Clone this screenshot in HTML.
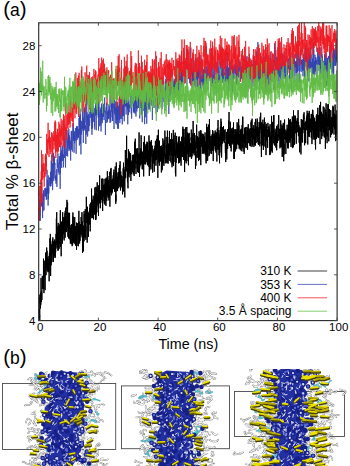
<!DOCTYPE html>
<html><head><meta charset="utf-8"><style>
html,body{margin:0;padding:0;background:#fff;}
body{width:350px;height:466px;overflow:hidden;}
svg{display:block;}
text{font-family:"Liberation Sans",sans-serif;fill:#000;}
.tk{font-size:11.5px;}
.lg{font-size:12px;}
.al{font-size:14.3px;}
.yl{font-size:17px;}
.pl{font-size:17.5px;}
.pp{font-size:20.5px;}
</style></head><body>
<svg width="350" height="466" viewBox="0 0 350 466">
<defs><clipPath id="pc"><rect x="38.7" y="22.8" width="298.4" height="297.8"/></clipPath>
<clipPath id="bc"><rect x="0" y="369" width="350" height="97"/></clipPath></defs>
<g clip-path="url(#pc)">
<path transform="matrix(0.10657 0 0 0.114538 38.70 22.80)" fill="none" stroke="#000" stroke-width="1.0" stroke-linejoin="round" vector-effect="non-scaling-stroke" d="M0 2643l1-166 1-80 1 125 1 128 1-65 1-87 1 58 1 14 1-18 1 87 1-60 1-207 1 78 1-55 1-19 1 91 1 27 1-107 1-33 1 108 1-106 1-129 1 100 1 24 1-8 1 94 1-90 1 4 1 15 1 54 1-63 1-43 1-19 1-83 1 87 1 18 1-7 1-49 1 62 1-114 1 35 1 80 1-82 1 56 1-239 1 258 1-38 1-116 1 197 1-28 1-128 1-8 1-12 1-4 1 3 1 30 1-136 1 127 1-12 1 142 1-167 1-7 1-77 1 30 1-107 1 99 1 50 1-33 1 81 1-63 1-122 1 114 1-47 1-23 1-100 1 179 1-44 1-106 1 56 1 103 1 20 1-123 1 84 1-77 1 5 1 45 1 31 1-35 1 78 1-99 1 83 1-95 1 36 1 71 1-42 1-96 1 78 1 143 1-239 1-8 1-4 1-1 1 42 1 62 1-227 1 195 1 87 1-183 1-138 1 84 1-13 1 296 1-152 1 43 1-76 1 92 1-177 1 74 1-46 1-32 1 156 1-138 1 116 1-134 1 44 1 7 1-80 1 86 1-101 1 127 1-9 1-76 1-61 1 96 1 119 1-182 1 97 1-26 1 109 1-142 1 75 1 33 1-137 1 81 1-16 1-18 1 30 1-92 1 105 1-113 1 148 1-85 1-41 1-7 1 145 1-54 1-74 1-8 1 87 1-53 1 23 1-50 1-80 1 101 1-126 1-110 1 172 1-28 1-199 1 233 1 39 1-147 1 185 1-37 1-42 1-61 1 84 1-2 1-68 1 153 1-133 1 54 1-164 1 129 1-97 1 207 1-88 1 0 1-117 1 58 1 96 1 38 1-60 1 20 1-14 1-66 1-90 1-3 1 58 1 32 1-29 1-131 1-54 1 203 1-65 1 181 1-90 1-56 1-7 1 135 1 101 1-249 1 78 1-131 1 112 1-9 1 28 1-3 1-115 1 83 1-79 1 175 1-71 1 25 1-228 1 235 1-62 1-132 1 71 1-20 1 79 1 21 1-51 1-58 1 74 1-51 1-42 1-18 1 200 1-205 1 27 1 63 1-54 1-6 1 3 1 77 1-144 1 215 1-234 1 182 1-183 1 78 1-41 1-60 1-5 1 141 1-19 1-13 1 28 1-18 1 95 1-146 1-23 1 6 1-118 1 84 1-28 1 189 1-67 1-47 1-109 1 162 1 39 1 99 1-173 1 69 1-69 1 120 1-94 1 162 1-225 1 169 1-71 1-42 1 62 1-11 1-64 1 91 1-133 1 5 1 137 1 90 1-103 1-3 1 13 1 55 1 76 1-137 1 3 1 18 1-22 1 64 1-90 1 23 1 70 1 1 1-29 1 3 1-66 1 166 1-176 1 51 1 27 1 115 1-19 1-112 1 108 1-106 1 115 1-194 1-86 1 139 1-102 1 71 1 158 1-182 1 32 1 56 1-60 1 4 1 141 1-63 1-38 1 54 1 9 1-19 1-31 1-129 1 232 1-141 1 60 1-69 1 156 1-94 1-42 1 48 1 101 1-172 1 137 1-118 1 106 1-78 1 48 1-126 1 237 1-211 1 60 1 104 1-109 1 23 1-59 1-41 1 59 1-33 1-14 1 65 1 61 1 63 1-21 1-134 1 81 1-49 1 125 1-23 1-106 1 21 1-201 1 192 1-98 1 70 1-32 1 66 1-25 1 112 1-66 1 5 1-30 1 67 1-75 1-70 1 26 1 60 1-16 1-70 1 70 1-15 1 41 1-158 1 86 1 45 1-9 1-47 1-26 1 16 1 55 1-163 1 220 1-106 1-34 1 77 1 200 1-102 1-131 1 1 1 220 1-131 1-90 1 163 1-69 1 123 1-224 1 134 1-11 1-37 1 52 1-264 1 99 1-73 1 200 1-44 1-43 1 68 1 26 1-45 1 34 1 4 1-243 1 199 1-82 1 45 1 31 1-46 1 121 1-124 1-66 1-54 1-132 1 116 1-25 1 61 1 74 1-66 1-22 1-19 1 281 1-169 1-89 1-55 1 148 1-90 1 71 1-7 1-61 1 7 1-18 1 213 1-115 1-26 1-13 1-22 1 54 1 14 1-20 1-30 1-67 1 114 1-141 1 137 1-25 1 29 1-174 1 88 1 149 1-157 1-37 1 66 1-50 1-73 1 41 1 30 1-45 1 11 1 39 1-46 1 54 1-206 1 243 1 15 1-49 1-8 1-106 1 61 1-53 1 138 1 14 1-141 1 9 1-12 1 127 1-91 1-86 1 190 1-38 1-41 1 96 1-123 1-26 1-1 1 55 1-7 1 40 1-130 1 151 1-50 1-66 1 65 1-186 1 169 1 31 1-149 1 25 1 51 1 157 1-113 1-31 1 61 1-207 1 287 1-116 1 64 1-180 1 55 1-13 1 82 1-85 1 128 1-217 1 44 1-88 1 152 1 23 1-31 1 8 1-6 1 17 1 37 1-85 1 33 1-50 1 36 1 160 1-111 1-52 1-102 1 154 1-141 1-18 1 152 1-94 1 12 1 15 1-170 1 212 1-7 1 42 1-109 1 129 1 20 1-29 1-100 1 60 1-87 1 109 1-82 1-8 1-22 1 54 1-48 1 28 1 50 1-34 1-147 1 131 1 9 1 25 1-170 1 55 1 24 1 76 1 130 1-171 1-15 1 100 1-97 1 56 1-21 1-69 1 27 1 63 1-102 1 50 1 57 1-159 1 128 1 87 1-44 1-59 1-20 1 91 1-122 1 164 1-181 1 134 1-83 1 7 1 32 1-70 1-62 1-1 1-4 1 239 1-197 1 67 1-28 1-88 1 148 1-11 1 55 1 10 1-85 1-12 1 33 1 19 1-213 1 194 1-64 1-69 1 85 1-105 1 40 1 150 1-56 1-36 1 47 1 32 1-141 1 142 1-9 1 45 1-23 1-86 1 82 1-26 1-77 1 39 1-41 1-118 1 304 1-132 1-41 1-4 1 54 1-21 1-185 1 51 1 81 1-29 1 9 1-121 1 129 1 110 1-133 1 1 1 11 1 49 1-7 1 6 1 56 1-9 1-22 1 18 1-30 1-19 1-52 1-14 1 91 1-49 1-18 1-53 1 28 1 92 1-66 1 62 1-141 1 85 1-110 1 44 1 8 1 88 1 20 1-6 1 39 1-6 1-74 1 61 1-86 1 12 1-128 1 180 1 22 1-132 1 32 1 225 1-80 1 58 1-136 1 51 1-255 1 177 1 67 1-20 1-16 1-77 1 37 1-81 1 13 1 51 1 26 1-50 1 123 1-64 1 6 1-68 1 50 1 7 1-42 1 87 1-64 1-79 1 53 1 22 1-28 1 5 1-86 1 19 1 76 1-22 1-99 1 42 1-39 1 186 1-106 1-57 1-59 1 209 1 28 1-33 1 51 1 0 1-167 1 108 1-39 1 72 1-88 1 36 1-19 1-3 1-32 1 54 1-18 1 59 1-39 1-48 1 66 1-23 1 22 1 93 1-43 1-58 1-24 1 50 1-109 1-44 1 60 1-70 1-39 1 252 1-151 1 52 1-10 1-76 1 143 1 2 1-29 1-96 1 61 1-6 1 162 1-245 1 79 1-101 1 24 1-171 1 138 1 12 1 94 1-32 1-105 1 22 1 48 1-31 1-70 1 24 1-82 1-143 1 121 1 191 1-98 1 64 1-81 1 78 1 22 1 108 1-137 1 11 1-14 1 163 1 31 1-244 1 24 1 111 1-232 1 27 1-12 1 42 1 61 1 50 1 77 1-225 1 148 1 9 1 33 1-4 1-159 1 38 1-49 1 100 1-19 1-66 1-16 1 91 1 99 1-79 1-3 1 134 1-170 1-8 1 118 1-88 1 33 1 16 1-25 1-43 1 2 1 65 1-22 1-38 1-68 1 2 1 150 1-132 1 93 1-11 1 15 1-64 1 27 1 90 1-39 1-133 1 25 1 29 1 41 1 0 1 33 1-113 1 172 1-24 1-55 1-23 1-198 1 18 1 190 1 27 1-33 1-6 1-222 1 42 1 170 1-43 1-10 1 47 1-2 1 104 1-114 1 24 1-132 1 74 1-7 1 6 1-41 1 19 1 33 1 89 1-1 1-12 1-138 1 183 1-169 1-41 1 68 1 40 1-44 1 25 1 50 1 78 1-151 1-16 1 66 1 11 1 13 1-181 1-95 1 236 1-47 1 36 1 163 1-109 1 28 1-93 1 56 1-96 1 34 1 1 1-11 1-59 1 149 1-19 1-95 1 1 1-56 1-94 1 53 1 155 1-83 1 127 1 2 1-56 1-2 1 23 1-12 1 88 1-147 1-5 1 27 1-24 1 49 1 103 1-67 1-44 1 60 1-37 1 2 1-30 1-123 1 300 1-150 1 1 1 45 1-75 1 56 1-115 1-112 1 165 1 23 1-6 1 60 1-37 1-16 1-94 1 58 1-25 1 4 1 34 1 80 1-117 1-49 1 32 1-46 1 135 1-121 1-11 1 76 1 35 1-46 1 90 1-177 1 116 1 9 1 59 1-178 1 104 1 96 1-194 1 104 1 61 1-105 1 79 1 37 1-98 1 78 1-83 1 119 1-92 1 108 1-275 1 189 1 23 1 142 1-264 1 112 1-150 1 254 1-222 1 95 1 28 1 30 1 41 1-127 1-95 1 143 1 27 1-47 1 6 1 111 1-135 1-15 1-105 1 81 1 16 1 48 1-1 1-34 1-22 1 9 1-49 1 14 1 109 1-3 1 116 1-102 1-3 1-67 1 1 1 29 1-8 1 50 1-49 1-41 1 23 1 88 1-47 1-81 1 176 1 24 1-16 1-102 1-91 1 48 1-33 1 35 1-69 1 17 1 112 1-28 1-144 1 99 1 8 1 0 1-2 1 113 1-171 1 36 1 28 1 57 1-18 1-111 1-56 1 63 1 40 1-23 1 41 1 2 1-154 1 120 1 44 1-133 1 222 1 118 1-238 1 58 1 17 1-150 1-107 1 151 1 79 1-56 1 60 1 55 1-91 1 43 1-23 1 96 1-218 1 115 1 23 1-62 1 16 1-11 1-34 1 80 1-15 1-19 1 4 1 85 1-63 1-57 1-16 1 79 1 39 1-65 1 179 1-96 1-139 1 224 1-52 1-8 1-58 1 29 1 77 1-119 1 56 1 14 1-148 1 117 1-195 1 35 1 110 1-37 1 15 1-73 1 166 1-39 1-64 1-67 1 194 1-223 1 51 1 25 1 3 1 35 1-79 1 103 1-20 1-203 1 69 1 177 1-27 1 67 1-33 1-44 1 38 1-34 1 31 1 31 1-149 1-71 1 191 1-4 1-49 1-68 1 146 1 14 1-24 1-3 1-104 1 54 1 42 1-250 1 132 1 135 1 12 1-86 1-17 1 113 1-134 1 84 1 14 1-40 1-99 1 102 1-100 1 83 1 8 1-54 1-96 1 157 1-211 1 158 1 20 1-38 1 123 1-77 1-9 1-43 1 37 1-61 1 25 1-63 1 86 1 63 1 55 1-73 1-31 1-4 1-34 1 48 1-162 1 196 1-25 1 30 1 96 1-41 1 11 1-41 1 41 1-61 1-23 1-131 1 220 1-79 1-97 1 34 1-159 1 161 1 153 1-100 1-108 1 118 1-145 1-32 1 42 1 47 1-18 1 14 1 97 1-20 1-40 1 0 1 112 1-145 1-112 1 230 1 125 1-211 1 52 1 186 1-185 1-26 1 93 1-49 1-43 1-124 1 143 1-162 1 43 1 41 1 69 1-45 1 31 1-25 1-45 1 76 1 48 1-74 1 27 1-80 1 80 1-96 1 29 1 87 1-8 1 81 1-148 1-82 1 127 1-50 1 14 1-97 1 75 1 145 1-148 1 5 1 156 1-91 1 56 1-85 1 27 1-80 1 112 1 42 1-152 1-18 1 54 1 48 1-70 1 180 1-89 1-72 1 83 1-126 1 33 1-12 1-66 1 106 1-25 1-3 1-85 1 181 1-167 1 18 1 38 1 49 1-203 1 110 1 30 1-121 1 150 1-41 1 60 1 102 1-82 1-70 1 11 1-129 1 125 1 20 1 46 1-40 1 225 1-169 1 47 1-38 1-145 1 131 1-26 1 34 1-83 1 154 1-295 1 169 1 18 1 52 1-148 1 223 1-176 1-1 1-29 1 119 1-178 1-52 1 298 1-120 1-4 1-19 1 47 1 23 1-177 1 157 1-62 1 92 1-115 1 15 1 9 1 119 1 71 1-222 1-55 1 131 1-51 1 82 1-82 1-86 1 163 1-85 1-26 1 41 1 26 1 93 1-40 1 6 1 6 1-5 1 2 1-91 1 37 1 79 1-115 1 61 1 7 1-119 1 25 1-94 1 255 1-167 1 163 1-88 1-42 1 66 1 47 1-22 1-59 1-46 1 87 1-24 1 35 1-171 1 74 1 27 1-210 1 133 1 94 1-77 1 133 1-9 1-48 1 41 1-47 1-39 1 119 1-195 1 118 1 17 1-8 1-24 1 3 1 2 1-88 1 138 1-82 1 14 1 224 1-45 1-64 1-21 1 102 1-127 1 54 1-128 1-32 1 28 1 51 1-205 1 91 1 56 1-26 1 2 1-14 1 180 1-20 1-167 1 52 1-45 1 127 1-13 1-45 1 98 1-162 1 82 1-29 1 151 1-186 1 23 1 147 1-154 1-89 1 22 1 49 1 33 1-16 1 31 1 129 1-145 1 108 1-159 1 20 1-27 1-54 1 91 1-48 1 132 1 129 1-297 1-6 1 41 1 14 1 31 1-5 1 58 1-51 1 53 1-17 1-97 1 118 1-67 1 125 1-39 1-103 1 45 1-17 1-54 1 71 1 62 1-138 1 117 1-84 1-22 1 157 1-79 1-28 1 112 1-107 1-4 1 93 1-119 1-13 1 92 1-61 1 32 1 77 1-80 1-96 1 111 1 83 1-113 1-1 1 45 1 24 1 19 1-28 1-39 1 169 1-152 1 132 1-210 1-40 1-75 1 141 1 53 1-34 1-1 1 0 1-131 1 212 1-186 1 269 1-29 1-100 1 92 1-216 1 152 1-63 1-2 1-150 1 149 1-31 1-38 1 25 1 99 1-7 1 75 1-43 1-277 1 150 1 102 1-159 1 97 1 18 1-60 1 112 1 18 1-51 1-26 1 65 1-79 1 58 1 56 1-96 1 47 1-108 1 100 1 61 1-11 1-107 1 7 1 51 1-15 1-34 1-65 1 145 1-91 1 36 1-126 1 165 1 5 1-159 1 62 1 163 1 35 1-128 1-4 1-53 1-33 1 114 1-134 1 48 1-23 1 68 1 15 1-62 1-46 1 94 1-4 1 8 1-41 1-62 1-24 1 177 1-162 1 36 1 92 1-69 1 47 1 72 1-1 1-133 1 15 1-43 1 114 1-128 1 84 1-18 1 188 1-173 1 71 1-128 1-56 1 45 1-45 1 143 1 12 1 4 1-180 1-55 1 176 1 82 1-103 1 88 1-78 1 15 1-40 1-52 1 219 1-163 1 85 1 34 1 61 1 54 1-224 1 34 1 97 1-52 1-115 1 34 1-55 1-40 1 159 1-58 1 30 1-7 1-193 1 242 1-81 1 88 1 76 1-298 1 312 1-39 1-52 1-21 1-21 1-83 1 96 1-82 1 31 1-1 1-92 1 32 1 93 1-9 1-82 1-34 1 20 1 100 1-131 1 79 1-9 1-33 1 36 1-11 1-24 1 111 1-52 1-26 1-30 1 27 1 40 1 8 1-54 1-34 1 125 1 73 1 10 1-12 1-57 1 148 1-172 1 95 1-38 1-36 1 77 1-189 1 118 1-53 1-26 1 201 1-162 1 23 1-66 1-17 1 35 1-65 1-12 1 171 1-153 1 86 1 25 1-114 1 109 1-58 1 57 1-35 1-163 1 134 1-72 1 46 1-183 1 171 1 50 1-12 1 87 1-93 1 54 1-41 1-45 1 104 1-26 1-10 1-154 1 229 1-10 1-32 1-74 1 79 1-44 1-17 1 128 1-52 1-6 1-142 1 81 1-18 1-47 1 61 1-30 1 17 1 34 1-14 1 33 1 12 1-112 1-24 1 80 1 67 1-115 1 4 1 5 1-8 1-79 1 184 1-57 1 190 1-113 1-63 1-82 1 116 1 144 1-40 1-169 1 122 1-93 1 5 1 88 1-126 1 69 1-114 1 161 1 31 1-123 1 108 1-90 1-72 1-15 1 100 1-77 1 88 1-6 1 55 1 10 1-108 1-58 1 2 1-68 1 135 1 28 1-28 1-25 1 82 1-26 1 1 1-111 1 118 1-160 1 103 1 82 1-84 1-145 1 41 1 74 1-58 1 65 1 138 1-129 1 104 1-49 1 36 1-70 1 16 1-7 1 94 1-152 1 166 1-53 1-120 1 54 1-22 1 1 1-35 1 99 1-39 1-68 1 196 1-166 1 74 1-53 1 12 1 40 1-50 1-18 1-66 1 47 1-49 1-34 1-37 1 274 1-275 1 150 1 18 1 136 1-68 1-16 1-14 1-52 1 39 1 0 1 31 1-25 1 41 1 85 1-4 1-113 1 16 1-128 1 29 1 55 1-28 1 28 1 21 1-17 1-18 1 101 1-175 1 25 1 70 1-56 1 20 1 100 1 23 1-1 1-74 1-20 1-6 1-12 1-72 1 21 1 48 1-30 1 23 1 78 1 6 1 53 1-193 1 52 1 14 1 5 1-75 1-26 1 6 1 27 1 101 1-68 1 97 1-27 1-97 1 57 1 69 1-71 1 78 1-7 1-123 1 23 1 16 1 109 1-42 1-88 1 33 1-61 1 12 1 149 1-70 1-58 1 105 1-137 1-51 1 41 1-56 1 54 1-18 1 85 1 6 1 20 1 85 1-247 1 162 1-82 1 73 1-15 1 95 1-96 1 6 1-2 1-6 1-52 1 64 1 18 1 9 1-5 1-23 1-89 1 188 1 2 1-162 1 95 1-70 1-18 1 131 1-91 1 99 1-38 1 16 1-179 1 78 1 29 1 99 1-36 1-198 1 107 1 38 1-69 1 53 1-31 1 112 1-114 1-6 1 62 1-72 1-12 1 24 1 47 1-11 1-131 1 96 1-81 1 138 1 49 1-39 1-20 1-38 1-9 1 121 1 7 1-95 1 30 1 49 1-118 1 141 1-155 1 120 1-131 1-35 1 174 1-174 1 146 1-83 1 132 1 17 1-127 1 10 1-141 1 110 1-50 1-49 1 70 1-116 1 149 1-61 1 38 1 146 1-20 1 103 1 32 1-127 1-176 1 156 1 30 1-36 1-137 1 52 1 25 1-26 1 69 1 68 1-58 1-147 1-19 1 167 1-33 1-20 1 150 1-121 1-102 1 186 1-96 1-19 1-2 1-76 1 97 1-31 1-118 1 157 1-44 1 51 1-35 1 123 1-213 1 102 1 8 1-41 1 155 1-71 1-44 1-37 1-36 1 252 1-99 1-88 1-86 1 106 1-24 1 68 1-34 1-30 1 45 1-37 1 42 1 11 1-39 1 13 1 89 1-165 1 38 1-91 1 44 1-4 1-4 1 84 1-46 1 20 1-41 1 9 1 38 1-71 1 56 1 39 1-75 1 100 1 132 1-175 1-40 1 146 1-147 1-55 1 165 1 12 1 90 1-109 1 31 1-89 1 30 1 93 1-110 1-15 1 64 1-90 1 105 1-248 1 308 1-48 1-76 1-114 1 152 1 99 1-145 1-124 1 28 1 101 1-16 1 16 1-33 1-73 1-16 1 72 1 32 1 71 1-239 1 225 1-35 1-192 1 155 1 101 1-21 1-13 1 23 1-63 1 84 1-39 1-90 1-19 1 11 1 13 1 44 1-4 1-23 1 70 1-57 1 111 1-135 1 14 1-35 1 117 1-95 1-7 1-48 1 213 1-63 1-62 1 54 1-2 1-63 1 72 1-46 1 45 1-80 1-53 1 18 1-45 1 80 1 62 1-69 1 24 1 1 1-26 1-154 1 46 1 70 1 39 1 41 1-13 1-9 1-55 1 93 1-39 1-51 1 92 1 76 1-106 1-4 1 27 1-66 1 137 1-60 1-172 1 63 1 64 1 87 1-87 1 100 1-156 1 142 1 18 1-40 1 44 1-199 1 68 1 108 1 107 1-191 1 88 1-87 1-80 1 74 1-44 1 89 1 145 1-140 1-151 1 90 1 148 1-118 1 215 1-173 1 69 1-47 1 91 1-266 1 133 1 0 1-171 1 76 1 5 1 69 1 10 1-73 1 11 1 5 1 21 1 50 1-50 1 34 1 142 1-120 1-31 1-52 1 15 1 57 1 4 1 28 1-97 1-5 1 6 1-10 1-50 1 103 1-21 1-48 1 169 1-27 1-90 1-31 1 87 1 66 1-98 1 89 1-153 1-96 1-7 1 111 1-48 1 101 1-38 1 74 1-6 1-55 1-24 1-100 1 127 1-16 1 89 1-138 1 84 1-13 1-141 1 187 1-26 1-90 1 99 1-72 1 68 1 78 1-189 1-30 1 98 1 43 1-42 1-20 1 61 1-50 1-6 1-39 1 40 1-132 1 276 1-122 1 44 1-40 1-13 1 48 1-127 1 56 1 147 1-148 1-174 1 129 1 45 1 41 1-146 1 94 1 22 1 42 1 73 1-14 1 0 1-205 1 84 1-122 1 40 1 112 1-145 1 60 1-49 1-9 1 33 1-5 1-12 1 110 1 24 1-54 1 143 1-133 1-68 1 20 1 27 1-22 1 46 1-48 1 76 1-73 1 33 1 41 1-122 1 31 1 31 1 11 1-24 1-119 1 147 1 6 1 74 1-108 1-16 1 60 1-24 1-9 1 6 1 147 1-102 1-31 1 9 1 54 1 155 1-150 1-61 1 91 1-57 1 11 1-18 1 76 1 53 1-133 1-29 1 87 1 148 1-135 1-71 1-103 1 113 1-4 1 71 1-14 1-82 1-40 1 162 1-198 1 143 1-53 1-90 1 195 1-138 1-3 1 61 1-105 1 0 1 1 1 12 1-71 1 81 1 51 1-19 1-95 1 21 1-58 1 129 1-32 1 79 1 46 1 66 1-86 1 15 1-127 1 48 1-14 1 143 1-165 1 40 1-2 1 130 1-190 1 11 1 32 1-38 1 39 1 33 1-105 1 84 1-29 1-28 1-13 1-37 1 126 1-168 1 131 1-25 1-3 1 83 1 30 1 79 1-269 1 85 1 46 1 27 1-47 1 87 1-31 1-7 1 31 1-46 1-150 1 141 1-161 1 228 1-59 1-67 1 52 1 15 1-28 1-61 1 34 1-48 1 74 1-14 1 60 1-5 1-105 1 84 1-11 1-21 1 25 1-125 1 208 1-151 1 122 1-115 1-58 1 88 1 168 1-211 1 91 1-36 1-118 1 94 1-120 1 63 1-59 1 80 1-33 1 210 1-150 1 60 1-121 1 40 1 130 1-114 1-37 1 75 1 69 1 36 1-113 1 10 1-75 1 9 1 181 1-139 1 43 1 68 1-131 1 38 1 169 1-140 1 178 1-221 1 19 1-29 1 0 1-14 1 3 1-54 1 83 1 122 1-187 1 50 1 49 1-130 1 28 1 103 1 70 1-121 1-46 1 62 1-33 1-118 1 95 1 100 1-128 1 89 1 108 1-198 1 118 1-52 1 132 1-16 1-29 1-60 1-18 1-30 1-86 1-47 1 199 1-61 1 56 1 32 1 113 1-180 1 71 1-178 1 119 1-201 1 235 1-22 1 46 1-82 1 34 1 31 1-37 1-118 1 65 1 173 1-177 1 84 1-5 1-105 1 57 1-69 1 113 1-36 1 45 1-27 1-12 1 107 1-197 1 107 1-169 1 228 1-67 1-89 1 66 1 12 1-77 1 123 1-188 1 144 1 118 1-43 1-132 1 71 1-23 1-37 1 157 1-67 1 58 1-227 1 343 1-124 1 1 1 16 1-42 1 65 1-104 1-210 1 177 1-98 1 21 1 160 1-124 1 42 1 32 1-23 1 161 1-92 1 33 1-81 1-76 1 24 1-45 1-23 1-79 1 109 1 76 1-187 1 174 1-42 1 32 1 40 1 121 1-138 1 9 1-77 1-25 1 133 1-184 1 184 1-17 1-38 1 48 1-14 1-22 1-47 1 38 1 11 1 11 1 93 1-99 1-138 1 101 1 1 1 14 1-35 1-20 1 41 1 113 1-85 1 11 1 33 1-21 1-53 1 17 1 65 1-53 1 73 1-142 1 0 1 44 1-143 1 127 1 8 1-125 1 88 1 24 1 42 1-5 1 28 1-68 1 133 1-109 1 33 1-16 1-41 1-49 1 137 1-31 1-39 1 36 1-183 1 83 1 73 1 7 1-32 1 188 1-164 1-60 1 20 1 34 1 0 1-6 1-55 1 29 1 140 1-86 1-71 1-50 1 260 1-129"/>
<path transform="matrix(0.14920 0 0 0.114538 38.70 22.80)" fill="none" stroke="#3344b0" stroke-width="0.8" stroke-linejoin="round" vector-effect="non-scaling-stroke" d="M0 1631l1 30 1-45 1 59 1-54 1 106 1-155 1 84 1 27 1-109 1 112 1 43 1-163 1-20 1 32 1-76 1 103 1-153 1 92 1 56 1-204 1 86 1 41 1 77 1-31 1 55 1 81 1-169 1-44 1 154 1-73 1-32 1-79 1 84 1-24 1 112 1 2 1-145 1 25 1-46 1-2 1-25 1 41 1 10 1-43 1 65 1 1 1-57 1-20 1 70 1-62 1 98 1-35 1-59 1 87 1-119 1-136 1 209 1-121 1 98 1-30 1 44 1-94 1 206 1-264 1 209 1-71 1-32 1 52 1-77 1-32 1-18 1-10 1 8 1-10 1 71 1-61 1 30 1 38 1-129 1 107 1-54 1 73 1-71 1-152 1 199 1-50 1 9 1-208 1 192 1 54 1-97 1-76 1 235 1-55 1-72 1-45 1-40 1-16 1-98 1 210 1 35 1-221 1 199 1-56 1 3 1-135 1 73 1-13 1-6 1 25 1 31 1 35 1 59 1-32 1-6 1 69 1-54 1-18 1 50 1-74 1-31 1 155 1-141 1-100 1 54 1 19 1-46 1 6 1-83 1 119 1 43 1 3 1-46 1-20 1-16 1 23 1 78 1-160 1 60 1-47 1 58 1-71 1 79 1 205 1-314 1 177 1-152 1-119 1 1 1 151 1 17 1-94 1 89 1 61 1-127 1-11 1-22 1 100 1-135 1 102 1-5 1-25 1 25 1 30 1-49 1 112 1-57 1-248 1-117 1 177 1-36 1 136 1 62 1-173 1 81 1 60 1-24 1 6 1 102 1 33 1-161 1-194 1 140 1 67 1-13 1 10 1 50 1-16 1-59 1-152 1 110 1-13 1 72 1 62 1-130 1-29 1 92 1-65 1-20 1-55 1 109 1-143 1 194 1-40 1-98 1 123 1-49 1-58 1 72 1-33 1 35 1 22 1 2 1 107 1-68 1-109 1 85 1-164 1 151 1-36 1-51 1-61 1-8 1 150 1 20 1 12 1-115 1-24 1-44 1-63 1 151 1-153 1 150 1-84 1 21 1 66 1 105 1-112 1-21 1-52 1 103 1-60 1 5 1 20 1-22 1-76 1 63 1-3 1 52 1-43 1 156 1-230 1 78 1-15 1-76 1 88 1-81 1 114 1-10 1-96 1-11 1 98 1-15 1-44 1 40 1-11 1 30 1-76 1 39 1-135 1 151 1 53 1 36 1-42 1-214 1 160 1-224 1 150 1-101 1 256 1-202 1 137 1 158 1-166 1-62 1-65 1 120 1-13 1-55 1 16 1-22 1 25 1-148 1 128 1-30 1 41 1 24 1-83 1 190 1-223 1 105 1-102 1-85 1 198 1-35 1-48 1 64 1 6 1-194 1 138 1-119 1 119 1 59 1 1 1-35 1 160 1-163 1 82 1-38 1-3 1 20 1-292 1 228 1-110 1 41 1 35 1-45 1 180 1-100 1-85 1 28 1 109 1-147 1 50 1-1 1 100 1-106 1-59 1 10 1 46 1 64 1-26 1-2 1-103 1-3 1-84 1 101 1-187 1 231 1-86 1 59 1 23 1 4 1-53 1 151 1-221 1 272 1-196 1 55 1-190 1 274 1-149 1 47 1-83 1 28 1 101 1-162 1 48 1 55 1 7 1 8 1-76 1 25 1 134 1-82 1 110 1-127 1 5 1-30 1-56 1 84 1-109 1 63 1 35 1 54 1 87 1-201 1 46 1-3 1 24 1-22 1-111 1 98 1-212 1 79 1-29 1 139 1-43 1 125 1-88 1 201 1-203 1 52 1-103 1 69 1 70 1 77 1-7 1-85 1-22 1 35 1-58 1-5 1 0 1-1 1 136 1-156 1 209 1-160 1-84 1 14 1 125 1-121 1 132 1-79 1 100 1-121 1 36 1-16 1-53 1 62 1 35 1-83 1 85 1-113 1 7 1 47 1 87 1-80 1-68 1 6 1-55 1 29 1 99 1-14 1 26 1 188 1-131 1 20 1-93 1 17 1-47 1-9 1 29 1-68 1 163 1 13 1-79 1 6 1-32 1 94 1-78 1-9 1 53 1-117 1 51 1 34 1 44 1-76 1 17 1 51 1-85 1 14 1 39 1-142 1 78 1 72 1 65 1-75 1 47 1-24 1-57 1 100 1-262 1 60 1 73 1-7 1-20 1 66 1-97 1 77 1 70 1-146 1 175 1-86 1 89 1-71 1-87 1 42 1-19 1-168 1 160 1 21 1 153 1 40 1-188 1 51 1-120 1 37 1 58 1-32 1 69 1-117 1 21 1 55 1 85 1 29 1-122 1 73 1 60 1-147 1-11 1 118 1-156 1 159 1-146 1-11 1 230 1-117 1-84 1 51 1 45 1-54 1 0 1 162 1-197 1 20 1 26 1-114 1 149 1 39 1-209 1 174 1 61 1-151 1-65 1-11 1 32 1-15 1 170 1-167 1 12 1 160 1-73 1-22 1-100 1 135 1-11 1-11 1 129 1-198 1 122 1-59 1-85 1 148 1-47 1-58 1 101 1-60 1-122 1-57 1 167 1 121 1-36 1-171 1-67 1 129 1 19 1-131 1 78 1-6 1 51 1-46 1 48 1-55 1 128 1-104 1-135 1 48 1 120 1-43 1 24 1 28 1-75 1 93 1-33 1 162 1-129 1-46 1-91 1 73 1 112 1-132 1 110 1-20 1 7 1 5 1-61 1 25 1-11 1 20 1-64 1-37 1-26 1 78 1-85 1 79 1 49 1-87 1 137 1-33 1-131 1 209 1-121 1-13 1-95 1 37 1 54 1-25 1 33 1-99 1 52 1-76 1 112 1 79 1-132 1 109 1 34 1-33 1-65 1 93 1-22 1-6 1-74 1 102 1 13 1-82 1-95 1 94 1-92 1 81 1 119 1-116 1 40 1-93 1-14 1 127 1 11 1-43 1-8 1 24 1-107 1 11 1-3 1 42 1-14 1-4 1-38 1 110 1-107 1 86 1-149 1 96 1 43 1-132 1-49 1 303 1-71 1-111 1 5 1 7 1 17 1 14 1 4 1 43 1-84 1 87 1-66 1 120 1-91 1 59 1-99 1 66 1 133 1-157 1-32 1-57 1 27 1 2 1 18 1 19 1-18 1-152 1 210 1 43 1-64 1 9 1-130 1 186 1 113 1-257 1 57 1 15 1 117 1 8 1-88 1-85 1 69 1 37 1-155 1 34 1 61 1 58 1 125 1-131 1-68 1-70 1 117 1-9 1-146 1 163 1-5 1-51 1-2 1 11 1 41 1-50 1 77 1-66 1-139 1 92 1 106 1-30 1 33 1-65 1-115 1 85 1 52 1-44 1 5 1-1 1 32 1-146 1 130 1 8 1 26 1-26 1-114 1 68 1 23 1 26 1 150 1-340 1 206 1-94 1 28 1 55 1-11 1-81 1 63 1-23 1 37 1 55 1-107 1 33 1-96 1 62 1-3 1-77 1 61 1 47 1 9 1-173 1 252 1-41 1 49 1-135 1 69 1-53 1-47 1 119 1-56 1-70 1 194 1-127 1 31 1-101 1 28 1-25 1 113 1-56 1 52 1 31 1 21 1-92 1-23 1 31 1 51 1-95 1 37 1-42 1-28 1 65 1-117 1-15 1-19 1 188 1-75 1 78 1-33 1-106 1 52 1 29 1 30 1-105 1 195 1-34 1-51 1-22 1-145 1 146 1-84 1-81 1 86 1-8 1 7 1 76 1-134 1 134 1 48 1-91 1 135 1-99 1 48 1-55 1 16 1 50 1-113 1 119 1-49 1-160 1 185 1-115 1 36 1-144 1 221 1 8 1-84 1 50 1 6 1-121 1 105 1-77 1 89 1-93 1 29 1-19 1-45 1 143 1-98 1 30 1 198 1-162 1-31 1-217 1 153 1-43 1 191 1-82 1-179 1 198 1-33 1 33 1 29 1-45 1-68 1 81 1-94 1 24 1 15 1-52 1 6 1-38 1 15 1 20 1 14 1 16 1 48 1-114 1 108 1-4 1 31 1-80 1 37 1-19 1-30 1-18 1 199 1-179 1-16 1 95 1-113 1 43 1-45 1 113 1 0 1-80 1 115 1-98 1-85 1 72 1-54 1 124 1-46 1 5 1-110 1 43 1 6 1 24 1 62 1-248 1 95 1-17 1 87 1 25 1 70 1 40 1-199 1-24 1 266 1-240 1-45 1 151 1-77 1-51 1 57 1-182 1 175 1 24 1 113 1-134 1 90 1-60 1 68 1-173 1 124 1-18 1-171 1 210 1-136 1 135 1-107 1 101 1-44 1-7 1-63 1 10 1 50 1-53 1 66 1-100 1 34 1 111 1-22 1-124 1-39 1 59 1-68 1 85 1 19 1-20 1 32 1-15 1-110 1 140 1-83 1-31 1 45 1-4 1 77 1-171 1 181 1 54 1-169 1 2 1-145 1 108 1 74 1-101 1-75 1 80 1 27 1 97 1-75 1 86 1-19 1-40 1 104 1-119 1 62 1 19 1 73 1-181 1 55 1 38 1-46 1 76 1 66 1-189 1-131 1 174 1-1 1 3 1 54 1-27 1-44 1 55 1 141 1-148 1 37 1-34 1 82 1-101 1 5 1 104 1-222 1 247 1-25 1-46 1-61 1-82 1 43 1 179 1-42 1-105 1 61 1-7 1-25 1 7 1 127 1-126 1 123 1-70 1-52 1-2 1 20 1 83 1-38 1-23 1-173 1 259 1-161 1 53 1 102 1-162 1 69 1-34 1 6 1 30 1-68 1 27 1 56 1-124 1 221 1-68 1-251 1 205 1-38 1 32 1-36 1-25 1-119 1 131 1 41 1-28 1 158 1-200 1 136 1-53 1 49 1 14 1-29 1-3 1 4 1-112 1-2 1 69 1 94 1-152 1 97 1 40 1-87 1 129 1-111 1-60 1 104 1 96 1-182 1 72 1-75 1-32 1 64 1 7 1 119 1-252 1 33 1 179 1-124 1 143 1-82 1-36 1 58 1 8 1-124 1 155 1-152 1 101 1 35 1-60 1-74 1-60 1 16 1 21 1 115 1-78 1 91 1 42 1-50 1-16 1 11 1-132 1 8 1 96 1-88 1 52 1 35 1 32 1-33 1 57 1-13 1 150 1-224 1-155 1 287 1-16 1 21 1-172 1 46 1-57 1 89 1 93 1-78 1-128 1 25 1 13 1 8 1 167 1-110 1 27 1 1 1-6 1 53 1-116 1-54 1 83 1 45 1-53 1 11 1-29 1-81 1 123 1-135 1 210 1-13 1 10 1 49 1-36 1-11 1 44 1-112 1 133 1 59 1-117 1 18 1-65 1 89 1-15 1 44 1-213 1-122 1 166 1-54 1 23 1 109 1-34 1 41 1-22 1-135 1-81 1 102 1 83 1 5 1 79 1-99 1 7 1 83 1-51 1-146 1 27 1-33 1 146 1 17 1-116 1-57 1-37 1-34 1 198 1-17 1 19 1-37 1 99 1-85 1-113 1 164 1-100 1 111 1-94 1 52 1-34 1 30 1 106 1-81 1-6 1-15 1 0 1-22 1 41 1-16 1-191 1 239 1-156 1 137 1-75 1-44 1-62 1 211 1-114 1 2 1 16 1-48 1 100 1 45 1-40 1-54 1-177 1 249 1-57 1 39 1-53 1-29 1 209 1-204 1 34 1-51 1 162 1-57 1-120 1 44 1 2 1-101 1 208 1-98 1-76 1-9 1 16 1 90 1-60 1 8 1-57 1 128 1 47 1 70 1-201 1 60 1 10 1-91 1 101 1 16 1 133 1-236 1 102 1 12 1 15 1-40 1-90 1 172 1-140 1-21 1 41 1 11 1-40 1-21 1-16 1 54 1 27 1 49 1-109 1-74 1 111 1 24 1-25 1-42 1 26 1 38 1-52 1 151 1-196 1-22 1 132 1 59 1-154 1 48 1 121 1 12 1-95 1-30 1-51 1 93 1 16 1-28 1-52 1-77 1 165 1-114 1 4 1-34 1 11 1 113 1 6 1-5 1-94 1 89 1 44 1-24 1-89 1-49 1 72 1 78 1-53 1-52 1 82 1-54 1 12 1-45 1 177 1-155 1-43 1 3 1 75 1 75 1-216 1 168 1-25 1 21 1-2 1 57 1-70 1-27 1-39 1 116 1-131 1-48 1 170 1-122 1 103 1-16 1 131 1 76 1-240 1 145 1-148 1-56 1 126 1-63 1 16 1-147 1 260 1-143 1 12 1-74 1 148 1-139 1 78 1 108 1-15 1-132 1-42 1 90 1-36 1 160 1-192 1-102 1 191 1-131 1 100 1 61 1-44 1-51 1 65 1-84 1 16 1 63 1 74 1 95 1-171 1-63 1 2 1-69 1 109 1-66 1 51 1 60 1-74 1-35 1-10 1 200 1-53 1-211 1-19 1 139 1 7 1-106 1 178 1-24 1-71 1-93 1 109 1-18 1 23 1 149 1-187 1-10 1-41 1 49 1 24 1 88 1-4 1-245 1 37 1 59 1-70 1 236 1 20 1-45 1 11 1-23 1-104 1-57 1-140 1 347 1-41 1 8 1-114 1 54 1-74 1 161 1-123 1 53 1-61 1 147 1 73 1 24 1-248 1 157 1-135 1 78 1-207 1 56 1-13 1 66 1 137 1-74 1-88 1-15 1-1 1 139 1-28 1-74 1-17 1 119 1-97 1 42 1-34 1-118 1 142 1 86 1-132 1 113 1-44 1-26 1 130 1-141 1-18 1 100 1-183 1 185 1-135 1-7 1 15 1 175 1-315 1 155 1 95 1-54 1 53 1-9 1 65 1 87 1-125 1 16 1-78 1-63 1 22 1 100 1-21 1-30 1 46 1 148 1-252 1-62 1 60 1 89 1-96 1 18 1 147 1 18 1-129 1-30 1 11 1 46 1-28 1-155 1 182 1-14 1-117 1 12 1 61 1 79 1 52 1-35 1-19 1-5 1 58 1-144 1 84 1-45 1 12 1 74 1-84 1-132 1 240 1-82 1 15 1 135 1-151 1 29 1-130 1 15 1-20 1 50 1-197 1 116 1 63 1 39 1 79 1-63 1 94 1-27 1-76 1-53 1 126 1-42 1-95 1-43 1 113 1-14 1 77 1-7 1-155 1 88 1 38 1 3 1 111 1-247 1 64 1 69 1-53 1 22 1-94 1 230 1 23 1-176 1 83 1-46 1-90 1-161 1 144 1-55 1 64 1 50 1 78 1 86 1-122 1-72 1 71 1 40 1-107 1 6 1 41 1 11 1-74 1 111 1 52 1-231 1 172 1-162 1 45 1 11 1 96 1 53 1-86 1-60 1 23 1-13 1-97 1 187 1-47 1-5 1-41 1 145 1-118 1-79 1 56 1 137 1-37 1 14 1 59 1-97 1-41 1-8 1 64 1-42 1 5 1-32 1-59 1 59 1 1 1 86 1-26 1-23 1-55 1-50 1 29 1-12 1 83 1-33 1 34 1 12 1 21 1-6 1-55 1 120 1-105 1 28 1-39 1 132 1-238 1 79 1 97 1-83 1-14 1 45 1 10 1 83 1 114 1-198 1 58 1-123 1-88 1 232 1-115 1-19 1-60 1 137 1-66 1-37 1 101 1-60 1 20 1-7 1 6 1-20 1-95 1 106 1-58 1 12 1 195 1-138 1-46 1-8 1 24 1 31 1-5 1-39 1 93 1-99 1 125 1-34 1-185 1 138 1 191 1-228 1 29 1-34 1 89 1-243 1 216 1 12 1 5 1-42 1-103 1 64 1-88 1 41 1 58 1 172 1-109 1-105 1 68 1 46 1-24 1-22 1-49 1 4 1-54 1 1 1-59 1 175 1 37 1-69 1-10 1-28 1 19 1 19 1-28 1 72 1-63 1 74 1-99 1 81 1 68 1 0 1-157 1 107 1-15 1-130 1 56 1 0 1-14 1-59 1 240 1-112 1-13 1-35 1 47 1-85 1 52 1-136 1 101 1 10 1 43 1-165 1 181 1-48 1-1 1-150 1 225 1-34 1-154 1 202 1-133 1 164 1 43 1-180 1-20 1 29 1 5 1 34 1 20 1-167 1 294 1-120 1-78 1 85 1-141 1 115 1 61 1-58 1 8 1-105 1 103 1 2 1 11 1-181 1 185 1-46 1-5 1 78 1 13 1-96 1 163 1-230 1 65 1 42 1 45 1-116 1 139 1-27 1-109 1 133 1-82 1-195 1 144 1-83 1 202 1-90 1 114 1-97 1-14 1-17 1 79 1-130 1 55 1-3 1 93 1-119 1 47 1-50 1 148 1-124 1 58 1 64 1-123 1 11 1 164 1-175 1 3 1 0 1-102 1-8 1 147 1-4 1-11 1-83 1 92 1-6 1 10 1-68 1 126 1-24 1-100 1 102 1 17 1-204 1 292 1-65 1-97 1-15 1 67 1 7 1-79 1-106 1 90 1 149 1-67 1-27 1-43 1-45 1 77 1 23 1-83 1 185 1-147 1 78 1-1 1-72 1 155 1 67 1-163 1 47 1 11 1 110 1-39 1-95 1-47 1-110 1 64 1 85 1-69 1 24 1-43 1-39 1 188 1-126 1 63 1-70 1 94 1-158 1 208 1 64 1-116 1-113 1 203 1-179 1 12 1-55 1 42 1-40 1 94 1 16 1-9 1-120 1 10 1 237 1-222 1 60 1-52 1 172 1-168 1-101 1 93 1-78 1 100 1-77 1-68 1 186 1-31 1 34 1 17 1-93 1 100 1-30 1 56 1-10 1-83 1-13 1 13 1-74 1 35 1 129 1-142 1 110 1 163 1-241 1 153 1-253 1 267 1-135 1-133 1 85 1 6 1-36 1 19 1-58 1 141 1-91 1 43 1 45 1-89 1-57 1 141 1-19 1-140 1 86 1-50 1 80 1-59 1 53 1 27 1-60"/>
<path transform="matrix(0.14920 0 0 0.114538 38.70 22.80)" fill="none" stroke="#ee1c24" stroke-width="0.8" stroke-linejoin="round" vector-effect="non-scaling-stroke" d="M0 1544l1-78 1 42 1-84 1 171 1 132 1-179 1 97 1-18 1-64 1-70 1 140 1-200 1-8 1 115 1-172 1 96 1-166 1 144 1-329 1 219 1 240 1-325 1 72 1 35 1-122 1 9 1 129 1-223 1 156 1-34 1 15 1 15 1-72 1 64 1 61 1-13 1 91 1-121 1 31 1-77 1 3 1-39 1 116 1-181 1 39 1-58 1 150 1-71 1-64 1 163 1-149 1 80 1-228 1-54 1 124 1 38 1-114 1 51 1 44 1 38 1-130 1 30 1-178 1 129 1 42 1 2 1-50 1 77 1 98 1-163 1 72 1-38 1-105 1 125 1 40 1-41 1 85 1-83 1 19 1-81 1 100 1 11 1 14 1-97 1 9 1-79 1-4 1 26 1 229 1-53 1-191 1 70 1 137 1-18 1-8 1-99 1-37 1-17 1 42 1-62 1-26 1 156 1-106 1 22 1 9 1-49 1 1 1-113 1 202 1-63 1-154 1 281 1-6 1-260 1 313 1-144 1-48 1 52 1 0 1-63 1 144 1-95 1-75 1 174 1-93 1-108 1 216 1-104 1 5 1-43 1 11 1-50 1 163 1-139 1-120 1 59 1 137 1-15 1-21 1 61 1-200 1 114 1-73 1 55 1 107 1-138 1 13 1 23 1-15 1-134 1 153 1-89 1 28 1 135 1-26 1-75 1-78 1-33 1 97 1 8 1 69 1-72 1-36 1 160 1-209 1-71 1 95 1 77 1 52 1-172 1-39 1 44 1 78 1-49 1 55 1 18 1 138 1-176 1 36 1-51 1-142 1-67 1 68 1 67 1 147 1-50 1 52 1 44 1-217 1 13 1 94 1 1 1-85 1-43 1 119 1 2 1 23 1-131 1-17 1 108 1-82 1 2 1-116 1 172 1-82 1 6 1 53 1 39 1-90 1 123 1-22 1-259 1 190 1-78 1-11 1 94 1-138 1 41 1 33 1 13 1 45 1 34 1-36 1-71 1-19 1 79 1 1 1 52 1-158 1 73 1 131 1-219 1-169 1 109 1 60 1-16 1-28 1 108 1-134 1 100 1 32 1-224 1 306 1-216 1 81 1-3 1-89 1-58 1-115 1 136 1 214 1-157 1 74 1-14 1 111 1-58 1-68 1-49 1-141 1 49 1 127 1-25 1 0 1-48 1-20 1-103 1 361 1-230 1 109 1-14 1-251 1 169 1-95 1 26 1 120 1 11 1-30 1 8 1 28 1 19 1-118 1 2 1-63 1 141 1-108 1-135 1 195 1 12 1-237 1 220 1-70 1-40 1 95 1 192 1-52 1-31 1-116 1 55 1 35 1-18 1-138 1 227 1-57 1-145 1 37 1-29 1-27 1 166 1-36 1-26 1-192 1 30 1 258 1 65 1-226 1 44 1 22 1-52 1-79 1 176 1-237 1-59 1 162 1-75 1 155 1 55 1 38 1-81 1-147 1 7 1-34 1 43 1 50 1-84 1 94 1 83 1-40 1-75 1 56 1 33 1-184 1 326 1-228 1-20 1-16 1 57 1 10 1 92 1-75 1-54 1 171 1-46 1-163 1-9 1 12 1 92 1-17 1-23 1 59 1-35 1-61 1-34 1 261 1-137 1 45 1-19 1 38 1-71 1-63 1-120 1 68 1 19 1 36 1 29 1-91 1-15 1 36 1-3 1 61 1-127 1 223 1 35 1-132 1-117 1 213 1-88 1 48 1-101 1 168 1-64 1-44 1-32 1 124 1-60 1-99 1-12 1 63 1-89 1 85 1-79 1 32 1-28 1-152 1 395 1-199 1-108 1 28 1 82 1-23 1-72 1 177 1-39 1-77 1 19 1-110 1 178 1-206 1 143 1-29 1 151 1-138 1-178 1 287 1 9 1 5 1-65 1 66 1-166 1-112 1 217 1-24 1-111 1 141 1-237 1 48 1 192 1-85 1-18 1 39 1-45 1-87 1 160 1-119 1 79 1-28 1 7 1 24 1-37 1-17 1 12 1 44 1 81 1-73 1-74 1 79 1 40 1-146 1 328 1-201 1-5 1 35 1-118 1 96 1-31 1-81 1 22 1 113 1-99 1-31 1 73 1 33 1 49 1-100 1 42 1-16 1 123 1-135 1 81 1-82 1-11 1-21 1 201 1-193 1 96 1-69 1 31 1-19 1 8 1-165 1 53 1 138 1 45 1-87 1 99 1 106 1-155 1-12 1 18 1 23 1 6 1-56 1-36 1 49 1-3 1-35 1 22 1 69 1-90 1 102 1 68 1-108 1-11 1-17 1 10 1 37 1-113 1-61 1 48 1 44 1 81 1-70 1 79 1 155 1-313 1 79 1-132 1 163 1-111 1 124 1-142 1 52 1 11 1-183 1 203 1 31 1 23 1-51 1-128 1-92 1 169 1 164 1 95 1-313 1 82 1 69 1-48 1-12 1 54 1-37 1 87 1-79 1 41 1 255 1-251 1-227 1 256 1 7 1 72 1 67 1-221 1 101 1-103 1 26 1 52 1-35 1 16 1-51 1-33 1 29 1 25 1-133 1 173 1 56 1-331 1 60 1 166 1 51 1-57 1 100 1-237 1 134 1-3 1-128 1 180 1-91 1-140 1 1 1 111 1 106 1-173 1 104 1-64 1-141 1 264 1-126 1 196 1-187 1-30 1 122 1-21 1-50 1 64 1-18 1-5 1-24 1 28 1 40 1 104 1-213 1 65 1-57 1 47 1-48 1 28 1-39 1 138 1-61 1-246 1 179 1-34 1 153 1-61 1-193 1 95 1 95 1-17 1 46 1 12 1-6 1-3 1 2 1-85 1 3 1 147 1 8 1-108 1-1 1 77 1 36 1-69 1-20 1 130 1-120 1 30 1-19 1-150 1 230 1-254 1 164 1-60 1 48 1 30 1-122 1 50 1 11 1-115 1 318 1-104 1-20 1-65 1 34 1 26 1-18 1 111 1-168 1-83 1 127 1-273 1 317 1-200 1 141 1 71 1-134 1-50 1-35 1 10 1 186 1-160 1 200 1-67 1 11 1 24 1 83 1-192 1 258 1-307 1-17 1 16 1-109 1 234 1 106 1-150 1-78 1-58 1 286 1-198 1-16 1-6 1 176 1-166 1 91 1 68 1 68 1-142 1-66 1 185 1-53 1-62 1 6 1-190 1 155 1 32 1-120 1 36 1 140 1-194 1 185 1-133 1-48 1 112 1 39 1-63 1-122 1 159 1-19 1-201 1 239 1-32 1 161 1-213 1 24 1 11 1 21 1 63 1 0 1-122 1 29 1 141 1-181 1 159 1-107 1-31 1 16 1-12 1 127 1-143 1 271 1-260 1 170 1-41 1-162 1-32 1 165 1-94 1 2 1 30 1 175 1-255 1 75 1-27 1 170 1-301 1 222 1-7 1-105 1-97 1 109 1 66 1 49 1-12 1 11 1-124 1-25 1 67 1-52 1-98 1 208 1-75 1 14 1 111 1-108 1 38 1-7 1-252 1 141 1 147 1-4 1 116 1-360 1 189 1-78 1 15 1 98 1-27 1 107 1-37 1-80 1-3 1 253 1-335 1 121 1-20 1-149 1 377 1-300 1 44 1-50 1-33 1 37 1 209 1-157 1 54 1-74 1-140 1 229 1-41 1-19 1 15 1-2 1 156 1-392 1 36 1 233 1 12 1-53 1 35 1 17 1-148 1 101 1 121 1-116 1-58 1-18 1-57 1 83 1 80 1 99 1-193 1 25 1-53 1 24 1-87 1 36 1 69 1-46 1 61 1-81 1-55 1 141 1-46 1-45 1 82 1 22 1-53 1-151 1 185 1 39 1 30 1 55 1-75 1-187 1 78 1-31 1-11 1 256 1-238 1 126 1-55 1-116 1 72 1-45 1 142 1 115 1-160 1 124 1-234 1 120 1-140 1 61 1-22 1 78 1-90 1 29 1 146 1-91 1-75 1-7 1 131 1 98 1-210 1 139 1-75 1-130 1 64 1-3 1 84 1 41 1-89 1 52 1-35 1 1 1-13 1 2 1-83 1 6 1 67 1-20 1 33 1-6 1-16 1 29 1 48 1-86 1 76 1-4 1 80 1-131 1-94 1-51 1 42 1 144 1-49 1-77 1 94 1 162 1-111 1-6 1-1 1 23 1 154 1-226 1-42 1-57 1 46 1 35 1-55 1 93 1 99 1-56 1-6 1-5 1-182 1 154 1-118 1 93 1 88 1-145 1 69 1 12 1-33 1-45 1 59 1-43 1 60 1-149 1 160 1-193 1 100 1 55 1-255 1 194 1-6 1 27 1-16 1 73 1 55 1-92 1 78 1 8 1 4 1-251 1 227 1-197 1 280 1-203 1-181 1 205 1 119 1-142 1 15 1 3 1 67 1 21 1-9 1 104 1-222 1 44 1 103 1-259 1 166 1-125 1 169 1-4 1-6 1-199 1 215 1-74 1 38 1-39 1-11 1 36 1-107 1 237 1-119 1 108 1-18 1-252 1 6 1 42 1-3 1 107 1 120 1-128 1 81 1-99 1-168 1 202 1 23 1 2 1 156 1-23 1-140 1-70 1 141 1-101 1 78 1-127 1 50 1 18 1 57 1-145 1-27 1 77 1-57 1-23 1-27 1 84 1-42 1 39 1 173 1-138 1 21 1 49 1 6 1 44 1-72 1 54 1 21 1-24 1-174 1 282 1-239 1 123 1-127 1 40 1-44 1 165 1-132 1-36 1-103 1 114 1 17 1 47 1 12 1 41 1-116 1 2 1-20 1 123 1-69 1-21 1 28 1-72 1-51 1 54 1 20 1 52 1-103 1 283 1-86 1-122 1 114 1-10 1 18 1-111 1 11 1 64 1-224 1 24 1 158 1-47 1-18 1 118 1-77 1 42 1 94 1-170 1 77 1-13 1-52 1 52 1-125 1 8 1 29 1-43 1-50 1 90 1-162 1 320 1-53 1-93 1-24 1-49 1 14 1-85 1 235 1-58 1-41 1-139 1 206 1-187 1 314 1-106 1-183 1 147 1 19 1-57 1 47 1-85 1 76 1 1 1-17 1-45 1 89 1-62 1-37 1 160 1-112 1 10 1 62 1-15 1 33 1-70 1 5 1 85 1-210 1 85 1 180 1-73 1 62 1-142 1-65 1-118 1 231 1 131 1-80 1 18 1-234 1 137 1-106 1 144 1-66 1-107 1 142 1-200 1 241 1-205 1 122 1-37 1 32 1-11 1 71 1 12 1-94 1-36 1-35 1 39 1 295 1-353 1-67 1 135 1 70 1 22 1-125 1 11 1 22 1 139 1-201 1 202 1 15 1-68 1 0 1-19 1 203 1-178 1 109 1-184 1-57 1 160 1-19 1 2 1-133 1 80 1-15 1-43 1 2 1 7 1 38 1-22 1-84 1-18 1 105 1-5 1 76 1-36 1 21 1-238 1 221 1-117 1 107 1-112 1 177 1-183 1 111 1 27 1-36 1-175 1 251 1-45 1 20 1 38 1-180 1 158 1-151 1 108 1 52 1-156 1 121 1-32 1 141 1-106 1-115 1 25 1-8 1 149 1-79 1-64 1 70 1-193 1 143 1 25 1-68 1 231 1-242 1 162 1-64 1-68 1 29 1-91 1 142 1-77 1-95 1 3 1 113 1-60 1 15 1-35 1 148 1 27 1-2 1-64 1-48 1 72 1-146 1 50 1 59 1-21 1-79 1 160 1-21 1 198 1-184 1-114 1 109 1 34 1 44 1 3 1-59 1 184 1-185 1-164 1 157 1-55 1 49 1-75 1-163 1 78 1 207 1-73 1 16 1-30 1-36 1-11 1 173 1-317 1 167 1 19 1-37 1 17 1 26 1-206 1 206 1-87 1 121 1 59 1-211 1 116 1-87 1 118 1-130 1 166 1-100 1 80 1 82 1-64 1-3 1-88 1-148 1-17 1 239 1-3 1 71 1 62 1-200 1 62 1-79 1 73 1-188 1 135 1 90 1-54 1-223 1 23 1 143 1-59 1 86 1-37 1-12 1 151 1-48 1-16 1 180 1-84 1 15 1-85 1-26 1-22 1 19 1-56 1 52 1-25 1-59 1 90 1 132 1-135 1-104 1 137 1 48 1 104 1-233 1 21 1 62 1 188 1-84 1 9 1-64 1-102 1 37 1-141 1 172 1-59 1 107 1-20 1-124 1 78 1-29 1-177 1 325 1-167 1 34 1 92 1-70 1-55 1-6 1-10 1 76 1-21 1-17 1 22 1-25 1 50 1-13 1-17 1 49 1 13 1-116 1 46 1 28 1-168 1 47 1 34 1-10 1 8 1 31 1 85 1-61 1 122 1-100 1 102 1-136 1-17 1 32 1 14 1 134 1 9 1-9 1-165 1 96 1-30 1-24 1 19 1 134 1-139 1 10 1-1 1-88 1-15 1-5 1-4 1-52 1 120 1 137 1-194 1 49 1-51 1 67 1-66 1 24 1 112 1 129 1-325 1 280 1-147 1 55 1-50 1 56 1-68 1 18 1-83 1 20 1 88 1 64 1-252 1 224 1-73 1 11 1-37 1 92 1-159 1 154 1-68 1 37 1-148 1-56 1 29 1 82 1 9 1 33 1-122 1 196 1 47 1 7 1-20 1-119 1 74 1-144 1 38 1 96 1 15 1-66 1 160 1-212 1 129 1-74 1 67 1-240 1 203 1-66 1 82 1 103 1-82 1-55 1-48 1 76 1-186 1 88 1-54 1 191 1-92 1-21 1-18 1-61 1 92 1 15 1 66 1-76 1 10 1 194 1-220 1 305 1-433 1 108 1-22 1-60 1 130 1-4 1-70 1 62 1 73 1 18 1 28 1-312 1 149 1 33 1 78 1-204 1 134 1-36 1 179 1-25 1-165 1 8 1 73 1-183 1 188 1 70 1-8 1 119 1-182 1-52 1-6 1 151 1 153 1-271 1 91 1-26 1 39 1-198 1 55 1 123 1-50 1-46 1 41 1 59 1-119 1-7 1-22 1 6 1-25 1 92 1-81 1 101 1 113 1-168 1 9 1 8 1-5 1 14 1 4 1 122 1 127 1-159 1-54 1-46 1-39 1-140 1 157 1 76 1-84 1-72 1 68 1 54 1 94 1-96 1 29 1 61 1-119 1 17 1 58 1-59 1-11 1-20 1-100 1 188 1-262 1 268 1-247 1 179 1-29 1 61 1-15 1-40 1-181 1 287 1-20 1-95 1 14 1-48 1 84 1-20 1-71 1 41 1-142 1 138 1-59 1 135 1-85 1-170 1 252 1-161 1 161 1 11 1-13 1 32 1-50 1-32 1-50 1 37 1 62 1 15 1-17 1-88 1-19 1-76 1 42 1-6 1 37 1 113 1-63 1 0 1-15 1-11 1-63 1 154 1-48 1 5 1-87 1-10 1-41 1 55 1 87 1-109 1 67 1-127 1 97 1 124 1-92 1 9 1-22 1-11 1-140 1 2 1 54 1 63 1-8 1 49 1-115 1 124 1 11 1-86 1 217 1-212 1-32 1 127 1-154 1 185 1-102 1-40 1 19 1 20 1 32 1 96 1-135 1-149 1 89 1-44 1-51 1-29 1 192 1 24 1-233 1 184 1 151 1-292 1 153 1-51 1-119 1 212 1 51 1 79 1-234 1 10 1 67 1-57 1 2 1 7 1 35 1-14 1 5 1 75 1-192 1 95 1 90 1-29 1-12 1-1 1 13 1-94 1 90 1-105 1-4 1 99 1-77 1 7 1-160 1 246 1-63 1 155 1-170 1-41 1 28 1 96 1-263 1 185 1-36 1-105 1-120 1 76 1 184 1-80 1 193 1-141 1-6 1 35 1 164 1-130 1 30 1-49 1-135 1 91 1-56 1-138 1 302 1-36 1-157 1 79 1 87 1-104 1 52 1-18 1 121 1-93 1-69 1 44 1 9 1 7 1 22 1-56 1-20 1-187 1 223 1 142 1-99 1-58 1 33 1-176 1 72 1 56 1-111 1 189 1 148 1-192 1 32 1-48 1-25 1 16 1 135 1-109 1-37 1 134 1 68 1 78 1-69 1-199 1-65 1 47 1 12 1 90 1 53 1-78 1 103 1-169 1-14 1-39 1 79 1-27 1 121 1-129 1 5 1 37 1-67 1 92 1 62 1 29 1-122 1-130 1 172 1-49 1-45 1 10 1-2 1 87 1-23 1-178 1 108 1 141 1-10 1-125 1 61 1-52 1-18 1-85 1 99 1-70 1-1 1 123 1 22 1-114 1-49 1 140 1-144 1 14 1 131 1-96 1-65 1 165 1-84 1 14 1-43 1 76 1-98 1 90 1 53 1 43 1-116 1-11 1 43 1-41 1-34 1-67 1 99 1 0 1 46 1-51 1 97 1 53 1-333 1 130 1-47 1 92 1 8 1 16 1 83 1 63 1-61 1-158 1 106 1-106 1 138 1-169 1-2 1 123 1-52 1-53 1 102 1-2 1 16 1 170 1-215 1-9 1-45 1 38 1-166 1 245 1-76 1 54 1-150 1 178 1-93 1-118 1 247 1-52 1-65 1 153 1-101 1 43 1-65 1 75 1-84 1 77 1-2 1 90 1-39 1-122 1-7 1-72 1-31 1 285 1-279 1 78 1-84 1 169 1 15 1 38 1-100 1-36 1 142 1-151 1 101 1-44 1 11 1-54 1 44 1-29 1-11 1-33 1-67 1 162 1 78 1-40 1-103 1 47 1-39 1 76 1-152 1 41 1 86 1 170 1-97 1-79 1 92 1-97 1 78 1-127 1-47 1-49 1 316 1-86 1-23 1 8 1-92 1 67 1 16 1-39 1 49 1-149 1 30 1 43 1-61 1 76 1-104 1 40 1 48 1-104 1 94 1-2 1-10 1 29 1-74 1 6 1 145 1-166 1-9 1 212 1-141 1 18 1 57 1-14 1-51 1 10"/>
<path transform="matrix(0.14920 0 0 0.114538 38.70 22.80)" fill="none" stroke="#62bd45" stroke-width="0.8" stroke-linejoin="round" vector-effect="non-scaling-stroke" d="M0 538l1 35 1 88 1-119 1-18 1 192 1-125 1 85 1-75 1-24 1-16 1-64 1 98 1-204 1 157 1 58 1-74 1 38 1-144 1 209 1-104 1 66 1 11 1-72 1 49 1-28 1 33 1-259 1 251 1-35 1 150 1-45 1-88 1 33 1 10 1 51 1-86 1-18 1 23 1 2 1 38 1 19 1 30 1-50 1 15 1-28 1-63 1-7 1-42 1 29 1 7 1-5 1 252 1-194 1 4 1 25 1 116 1-105 1 5 1 0 1-36 1-40 1-43 1-41 1 57 1 31 1 51 1-148 1 179 1-55 1-29 1 40 1 1 1-95 1 117 1-143 1 41 1 76 1 29 1-4 1 56 1-40 1-100 1 190 1 69 1-58 1-85 1-29 1 96 1-139 1-20 1 78 1-59 1 0 1 239 1-154 1-34 1-17 1-21 1 99 1-53 1-9 1-32 1-29 1 71 1-29 1 56 1-61 1-21 1 200 1-111 1-104 1-2 1 55 1 134 1 19 1-38 1-214 1 220 1-118 1 6 1 47 1 33 1-57 1 34 1-1 1-57 1 104 1-88 1 114 1-17 1-48 1-3 1 102 1-139 1-70 1 79 1 5 1-77 1-11 1 116 1-89 1 9 1 210 1-108 1 121 1-168 1 114 1-128 1-26 1-52 1 199 1-174 1-2 1-7 1 176 1-56 1-50 1-70 1 33 1-1 1 6 1-31 1 9 1 15 1 53 1 60 1-73 1 17 1-87 1 183 1-114 1-52 1-136 1 141 1 125 1-138 1-43 1 135 1-51 1 69 1-36 1-108 1 125 1-46 1 21 1 79 1 48 1-93 1 74 1-54 1 76 1-50 1-22 1-34 1-70 1 31 1-56 1 88 1-98 1 133 1-72 1-7 1 17 1-72 1-39 1 143 1 70 1-138 1-139 1 129 1-7 1 65 1 11 1-117 1 99 1 39 1 86 1-145 1 47 1-130 1 49 1 20 1 95 1-38 1 60 1-97 1-66 1-70 1 153 1-25 1-116 1 84 1-43 1-45 1 85 1 99 1-103 1-106 1 220 1-126 1-137 1 210 1 29 1-192 1 101 1 95 1-11 1-23 1-11 1 43 1-51 1-23 1-67 1 142 1 14 1-24 1 39 1 14 1-143 1 38 1 117 1-113 1-72 1 60 1 108 1-34 1-142 1 13 1 83 1 24 1-117 1 237 1-159 1-55 1 183 1-83 1-182 1 132 1-7 1-14 1-40 1 122 1-17 1-87 1 46 1-149 1 123 1 169 1-111 1-130 1-33 1 89 1 22 1-16 1 5 1-139 1 129 1 38 1-153 1 81 1 125 1-86 1 35 1-19 1-63 1 55 1-98 1 51 1-8 1 32 1 6 1 1 1 22 1 98 1-145 1 62 1-13 1-20 1 4 1-13 1-65 1-50 1 75 1-24 1 92 1 8 1 27 1-3 1 80 1-29 1-62 1-6 1 22 1 133 1-77 1-217 1 185 1-44 1-94 1 44 1 125 1-133 1 63 1 112 1-94 1-95 1 26 1 1 1-102 1 176 1-144 1 266 1-106 1 51 1-177 1 81 1 24 1 140 1-126 1 70 1-122 1 142 1-83 1 7 1 28 1-106 1 180 1-288 1 125 1-34 1 10 1 73 1-128 1 14 1-77 1 227 1-111 1-97 1 66 1 88 1-10 1 13 1-109 1 166 1-40 1-115 1 31 1 115 1 0 1 55 1-3 1-17 1-94 1 154 1-224 1 53 1-107 1 9 1 28 1 65 1-149 1 71 1-25 1 131 1-5 1 63 1-137 1 27 1 14 1-13 1 50 1-41 1 88 1-185 1 59 1-75 1 139 1 11 1-21 1-155 1 76 1 138 1-104 1-114 1 148 1-42 1 63 1 158 1-80 1-85 1-103 1-31 1 55 1-51 1 103 1 31 1-194 1 144 1-125 1 97 1 8 1-23 1 94 1-45 1-44 1 8 1 81 1-175 1 31 1 110 1-37 1 58 1 47 1-72 1 23 1-36 1 73 1-72 1 55 1-225 1 212 1-82 1 25 1-115 1-6 1 55 1 33 1 11 1 22 1 50 1-76 1 59 1-92 1 217 1-144 1-44 1 130 1-137 1-49 1 156 1 9 1-21 1-32 1-3 1 7 1-59 1 77 1 15 1-36 1 110 1-281 1 178 1-24 1 121 1-129 1-42 1-21 1 16 1 19 1-40 1 65 1 106 1 34 1-113 1-25 1 86 1-149 1 98 1 66 1-187 1 45 1-10 1-9 1 75 1-14 1-66 1 15 1-141 1 303 1-117 1 67 1-41 1-79 1 42 1-5 1 130 1-71 1 21 1 10 1 33 1-72 1 9 1 31 1-86 1-41 1 39 1 69 1-38 1 24 1 8 1-85 1 115 1-118 1-94 1 63 1 65 1-54 1 69 1-48 1 143 1-36 1 17 1-33 1 48 1-106 1 85 1-147 1-10 1 15 1 88 1 35 1-48 1 32 1-100 1 204 1-14 1-105 1 3 1 74 1-104 1 111 1-52 1-74 1 96 1-84 1-16 1 66 1-93 1 143 1-17 1-28 1 24 1 63 1-129 1 0 1-108 1 209 1-169 1 82 1 18 1 41 1-68 1 77 1 40 1-79 1-170 1 137 1 48 1-10 1 63 1-262 1 195 1 33 1-112 1-84 1 191 1-29 1-25 1-134 1 161 1-51 1-18 1 39 1-43 1 67 1 21 1-27 1 104 1 31 1-155 1 50 1-94 1 28 1 11 1 79 1 75 1-24 1-126 1 75 1 17 1-103 1 50 1 69 1 8 1-47 1-87 1-136 1 175 1-10 1 82 1-75 1 65 1-63 1-138 1 201 1-38 1-11 1-33 1 49 1-45 1 27 1-57 1-17 1 91 1-53 1 57 1-82 1 119 1-51 1 62 1-99 1 58 1-23 1 13 1-49 1 72 1-221 1 194 1-140 1-6 1 100 1-62 1 85 1-68 1-104 1 250 1-39 1 154 1-298 1 111 1-64 1 39 1-10 1 89 1-47 1 12 1-19 1-31 1 87 1-64 1 84 1-83 1 207 1-46 1-69 1-105 1 57 1 17 1-181 1-51 1 18 1 293 1-169 1 138 1-55 1-30 1-44 1 98 1-107 1-20 1 87 1 22 1-79 1-60 1 162 1-205 1 157 1-137 1-79 1 173 1-36 1-79 1 118 1-51 1-28 1 38 1 172 1-263 1 76 1 63 1 179 1-223 1-51 1 23 1 71 1-77 1 70 1 94 1-105 1 67 1-14 1-62 1 69 1-3 1-125 1 42 1-49 1 257 1-160 1 2 1-89 1 40 1 76 1-103 1 64 1 66 1 3 1-78 1 49 1 74 1-60 1 45 1 8 1 27 1-90 1 60 1-135 1 70 1-96 1 48 1 83 1-218 1 108 1 113 1-199 1 129 1 113 1-82 1-70 1 80 1-104 1 110 1-11 1-68 1 214 1-98 1-3 1 163 1-86 1-133 1 63 1-63 1 6 1 7 1-91 1 53 1-60 1 39 1-15 1 21 1 24 1 94 1-239 1 168 1 21 1 90 1-73 1-72 1-30 1 39 1-107 1-11 1 194 1-62 1 19 1-3 1-45 1 16 1 121 1-246 1 208 1-46 1-20 1 114 1 50 1-164 1-92 1 106 1-31 1-32 1 13 1-20 1-45 1 108 1-47 1-5 1 1 1-48 1 115 1-72 1-26 1 50 1 11 1 170 1-208 1 96 1 31 1 54 1-106 1-8 1 53 1 62 1-170 1 224 1-291 1 88 1-22 1 55 1 42 1-114 1 139 1-175 1-29 1 139 1-3 1-39 1 30 1 23 1-11 1-98 1 74 1-35 1 136 1-1 1-1 1-44 1-39 1 17 1-152 1 52 1-11 1 14 1 62 1 63 1-55 1 28 1 10 1-4 1 1 1-18 1-88 1-57 1 44 1-74 1 230 1-130 1 98 1-147 1 123 1-70 1-23 1 160 1 13 1-137 1 2 1 4 1-19 1 163 1-119 1 84 1-58 1-30 1-60 1 41 1 10 1 44 1-115 1 80 1-39 1 115 1-162 1 108 1-128 1 50 1 77 1 80 1-153 1 70 1-23 1 55 1-99 1-176 1 268 1-26 1 56 1-99 1 121 1 45 1 3 1-177 1 65 1-17 1 30 1 3 1 28 1-192 1 216 1-86 1 32 1-161 1 96 1-21 1 108 1-153 1 203 1-3 1-116 1 24 1 9 1-52 1-83 1 11 1 114 1 49 1-84 1-83 1 134 1 32 1-80 1-141 1 175 1-76 1-31 1 242 1-113 1-1 1 37 1-87 1 21 1 40 1-116 1 213 1-161 1 5 1-67 1 107 1 32 1 79 1-144 1 70 1-287 1 171 1 6 1 254 1-143 1-32 1-129 1 113 1-31 1-60 1 109 1 6 1 11 1-21 1 7 1-77 1 32 1 50 1-13 1-41 1 103 1 8 1-65 1-73 1 103 1-32 1-52 1 1 1 10 1-47 1 204 1-192 1 95 1-12 1-28 1-75 1 32 1 52 1-109 1 84 1 82 1-66 1-25 1-21 1-86 1 201 1-31 1-174 1 124 1-75 1 89 1 66 1-50 1-47 1-23 1 155 1-99 1-215 1 110 1 25 1 13 1 214 1-87 1-11 1-138 1 124 1-64 1-67 1-54 1 18 1 150 1 14 1 196 1-96 1-214 1 13 1 129 1-75 1-32 1-47 1 67 1 39 1 52 1-89 1 158 1-140 1-91 1 98 1 115 1-180 1 91 1-34 1 61 1-79 1-42 1 198 1 15 1-225 1 76 1-16 1-70 1 92 1-132 1 222 1-149 1 30 1 44 1 80 1-88 1-47 1 106 1-119 1-58 1 107 1 50 1 80 1-111 1-31 1 1 1-117 1 112 1-41 1-13 1-132 1 347 1-241 1-83 1-21 1 164 1-98 1 165 1-126 1 70 1-28 1-2 1-33 1-39 1-31 1 151 1-78 1 31 1-105 1 53 1 44 1-119 1 126 1 8 1-132 1 186 1-43 1 23 1 29 1-17 1 82 1-80 1-5 1 30 1-43 1 6 1 72 1-224 1 118 1 6 1-97 1 172 1-204 1 181 1 7 1 129 1-135 1-4 1 21 1 4 1-13 1-94 1-46 1 1 1 67 1-63 1 89 1 65 1-199 1 81 1 59 1-116 1 195 1-168 1 37 1-77 1 39 1 86 1-24 1 39 1-75 1-33 1 85 1-18 1-67 1-73 1 145 1 102 1-198 1 99 1-75 1 121 1 39 1-249 1 155 1-6 1-44 1 59 1-70 1 252 1-127 1 9 1-123 1 135 1-183 1 91 1 11 1-60 1 140 1-170 1 70 1-40 1-41 1 186 1-253 1-30 1 187 1-13 1 17 1 110 1-232 1 185 1-41 1-107 1-27 1 85 1 90 1-36 1-8 1-50 1 17 1-30 1 26 1-4 1 22 1-99 1 17 1 158 1 72 1-58 1-19 1 45 1-250 1 232 1-92 1-64 1 6 1-26 1 148 1-3 1-116 1 6 1-26 1 3 1 18 1 91 1-143 1 77 1 56 1 45 1-17 1-20 1-43 1-44 1 111 1-164 1 186 1-15 1-64 1 99 1 28 1 0 1-81 1-36 1-144 1 38 1 90 1-74 1 116 1 14 1-65 1-62 1-67 1 250 1 59 1-53 1-132 1 96 1-265 1 128 1 136 1-64 1 107 1-75 1 19 1-81 1-86 1-52 1 41 1 61 1-58 1 109 1-63 1 39 1 61 1-92 1-28 1 124 1 39 1-18 1-143 1 149 1-129 1-76 1 148 1-65 1 154 1-224 1 76 1 14 1 108 1-63 1 25 1-65 1-32 1 2 1 7 1-82 1 107 1 83 1-42 1 30 1-117 1-30 1 95 1-27 1-40 1 27 1 148 1-186 1 23 1-107 1 98 1 75 1-48 1 17 1 124 1-120 1-42 1 132 1-133 1 50 1 18 1-66 1 169 1-26 1-28 1-91 1 67 1-99 1 125 1-80 1-51 1 23 1 109 1-214 1 236 1-157 1 43 1 80 1-143 1 45 1-97 1 162 1-81 1 91 1 39 1-58 1-184 1 162 1 73 1-201 1 216 1-99 1 65 1-62 1 19 1 63 1-88 1-78 1 115 1 13 1-173 1 179 1 10 1 72 1-303 1 198 1-74 1 189 1-136 1 30 1-139 1 118 1-36 1-158 1 142 1 48 1-52 1 35 1-53 1 66 1-26 1-30 1 42 1-52 1 8 1 91 1 41 1-48 1 61 1-72 1 32 1 58 1-204 1-91 1 200 1 121 1-157 1 268 1-274 1 19 1 94 1-79 1 100 1-76 1 27 1 18 1-71 1 83 1-92 1 57 1-129 1 212 1 17 1-57 1-14 1-99 1 41 1-23 1-57 1 54 1-84 1 177 1 44 1-151 1-26 1 164 1-177 1-141 1 214 1-114 1 18 1 40 1 45 1-14 1 3 1 47 1 56 1-110 1-10 1-12 1-44 1 126 1 1 1-4 1-48 1 28 1-13 1-80 1 44 1 119 1-66 1-107 1 28 1 47 1-7 1-71 1 55 1-186 1 229 1-87 1 118 1 37 1-93 1 37 1-121 1 136 1-58 1-50 1-59 1 93 1-54 1 203 1-127 1 154 1-276 1 214 1-62 1-126 1 197 1-136 1 76 1-33 1-8 1 25 1 10 1 32 1-59 1-13 1-215 1 207 1 0 1 76 1 11 1-86 1-32 1-3 1-20 1 62 1 21 1 106 1-1 1-59 1 28 1-113 1 50 1 12 1 8 1 61 1-94 1 52 1-52 1 38 1-50 1-109 1 146 1-48 1 33 1-63 1 18 1 148 1-130 1-57 1 26 1-84 1 172 1-40 1 78 1 83 1-178 1-115 1 51 1-9 1-37 1 73 1-1 1 91 1-26 1-164 1 30 1 88 1-82 1 71 1 23 1 26 1 0 1 33 1 103 1-224 1 29 1 45 1-92 1 235 1-69 1-223 1 178 1-51 1-62 1-56 1 84 1-26 1-67 1 252 1-123 1 29 1-121 1 117 1-110 1 158 1-43 1-34 1 32 1-47 1-15 1 51 1 91 1-55 1 72 1 3 1-118 1 33 1-37 1 21 1-8 1-34 1 46 1-29 1-48 1 68 1-81 1 66 1 75 1-97 1 34 1-34 1-93 1-31 1 207 1-179 1 42 1 37 1 42 1-41 1 118 1-249 1 137 1 65 1-70 1 59 1-48 1 138 1-51 1 50 1-121 1 48 1-89 1-27 1 9 1 74 1-26 1 22 1-3 1 93 1-126 1 111 1 3 1-162 1-114 1 128 1-17 1-5 1 9 1 174 1-86 1-90 1 92 1-58 1-42 1 108 1-13 1 52 1-57 1-18 1 62 1-53 1 114 1-163 1 89 1 20 1-2 1-71 1 22 1 2 1 26 1-163 1 104 1 44 1 57 1 25 1-132 1-29 1 40 1-218 1 235 1 31 1 47 1-72 1-4 1-54 1-9 1 151 1-267 1 100 1-37 1 176 1-150 1 37 1 37 1 66 1-79 1-43 1 113 1 23 1-26 1 8 1-7 1-81 1 60 1-53 1 34 1 46 1-2 1 48 1-164 1-28 1 91 1 59 1-22 1-79 1 62 1-38 1 78 1-92 1-48 1 73 1-20 1 95 1-88 1-69 1 73 1 35 1-23 1 54 1-32 1 57 1-74 1 25 1-20 1-39 1 72 1 118 1-242 1 172 1-99 1-24 1 117 1-112 1 96 1-11 1 12 1-16 1 13 1 108 1-130 1 18 1-70 1-20 1 32 1-28 1-8 1 32 1-30 1-12 1 220 1-86 1-150 1 4 1 51 1 64 1-60 1 53 1-16 1 80 1-49 1-175 1 172 1-250 1 95 1 143 1-63 1 16 1 139 1-184 1 30 1 139 1-27 1-143 1-19 1 92 1-89 1 13 1-67 1 59 1-17 1-28 1-21 1 49 1-40 1-20 1 139 1 69 1-50 1 18 1 68 1-99 1 12 1 25 1-3 1-59 1 51 1-84 1-4 1 78 1-150 1 106 1-126 1 107 1 38 1 164 1-214 1 115 1-21 1-25 1-109 1 205 1-107 1-65 1 154 1-105 1-11 1-20 1 43 1-90 1 91 1-20 1-14 1 105 1-133 1 96 1 21 1-115 1 65 1-59 1 39 1-8 1-73 1 19 1-99 1 167 1 57 1-45 1-61 1 47 1-76 1 44 1 67 1 27 1-122 1-12 1 56 1 41 1-52 1 19 1 19 1 42 1-214 1 34 1 93 1 88 1-44 1-28 1 21 1-7 1 19 1-105 1 156 1 35 1-114 1 11 1 85 1 4 1-312 1 166 1 23 1-104 1-55 1 93 1 58 1-62 1 204 1-58 1-26 1-193 1 249 1-30 1 27 1-92 1 65 1-110 1-41 1 66 1 84 1-44 1 41 1-195 1 188 1-23 1-68 1 128 1-192 1 82 1-45 1 46 1 15 1-77 1 14 1 78 1 69 1-19 1 30 1-76 1-29 1-9 1 67 1-56 1 34 1-98 1 132 1-243 1 324 1-104 1 169 1-133 1-89 1 111 1-249 1 232 1-48 1-5 1 28 1-39 1-59 1 15 1 65 1 43 1-100 1-26 1 26 1 30 1-205 1 143 1 132 1-42 1-46 1-41 1 91 1 79 1-170 1 135 1-26 1 35 1-24 1-127 1 98 1 117 1-107 1 114 1-204 1 175 1-53 1-77 1 155 1-214 1 176 1-118 1 181 1-134 1 14 1 53 1-26 1-157 1-20 1 186 1-97 1 184 1-81"/>
</g>
<rect x="38.7" y="22.8" width="298.4" height="297.8" fill="none" stroke="#262626" stroke-width="1.1"/>
<line x1="38.7" y1="320.6" x2="41.7" y2="320.6" stroke="#444" stroke-width="0.9"/>
<line x1="337.1" y1="320.6" x2="334.1" y2="320.6" stroke="#444" stroke-width="0.9"/>
<text x="35.3" y="324.6" text-anchor="end" class="tk">4</text>
<line x1="38.7" y1="274.8" x2="41.7" y2="274.8" stroke="#444" stroke-width="0.9"/>
<line x1="337.1" y1="274.8" x2="334.1" y2="274.8" stroke="#444" stroke-width="0.9"/>
<text x="35.3" y="278.8" text-anchor="end" class="tk">8</text>
<line x1="38.7" y1="229.0" x2="41.7" y2="229.0" stroke="#444" stroke-width="0.9"/>
<line x1="337.1" y1="229.0" x2="334.1" y2="229.0" stroke="#444" stroke-width="0.9"/>
<text x="35.3" y="233.0" text-anchor="end" class="tk">12</text>
<line x1="38.7" y1="183.2" x2="41.7" y2="183.2" stroke="#444" stroke-width="0.9"/>
<line x1="337.1" y1="183.2" x2="334.1" y2="183.2" stroke="#444" stroke-width="0.9"/>
<text x="35.3" y="187.2" text-anchor="end" class="tk">16</text>
<line x1="38.7" y1="137.3" x2="41.7" y2="137.3" stroke="#444" stroke-width="0.9"/>
<line x1="337.1" y1="137.3" x2="334.1" y2="137.3" stroke="#444" stroke-width="0.9"/>
<text x="35.3" y="141.3" text-anchor="end" class="tk">20</text>
<line x1="38.7" y1="91.5" x2="41.7" y2="91.5" stroke="#444" stroke-width="0.9"/>
<line x1="337.1" y1="91.5" x2="334.1" y2="91.5" stroke="#444" stroke-width="0.9"/>
<text x="35.3" y="95.5" text-anchor="end" class="tk">24</text>
<line x1="38.7" y1="45.7" x2="41.7" y2="45.7" stroke="#444" stroke-width="0.9"/>
<line x1="337.1" y1="45.7" x2="334.1" y2="45.7" stroke="#444" stroke-width="0.9"/>
<text x="35.3" y="49.7" text-anchor="end" class="tk">28</text>
<line x1="38.7" y1="320.6" x2="38.7" y2="317.6" stroke="#444" stroke-width="0.9"/>
<line x1="38.7" y1="22.8" x2="38.7" y2="25.8" stroke="#444" stroke-width="0.9"/>
<text x="40.3" y="331.2" text-anchor="middle" class="tk">0</text>
<line x1="98.4" y1="320.6" x2="98.4" y2="317.6" stroke="#444" stroke-width="0.9"/>
<line x1="98.4" y1="22.8" x2="98.4" y2="25.8" stroke="#444" stroke-width="0.9"/>
<text x="100.0" y="331.2" text-anchor="middle" class="tk">20</text>
<line x1="158.1" y1="320.6" x2="158.1" y2="317.6" stroke="#444" stroke-width="0.9"/>
<line x1="158.1" y1="22.8" x2="158.1" y2="25.8" stroke="#444" stroke-width="0.9"/>
<text x="159.7" y="331.2" text-anchor="middle" class="tk">40</text>
<line x1="217.7" y1="320.6" x2="217.7" y2="317.6" stroke="#444" stroke-width="0.9"/>
<line x1="217.7" y1="22.8" x2="217.7" y2="25.8" stroke="#444" stroke-width="0.9"/>
<text x="219.3" y="331.2" text-anchor="middle" class="tk">60</text>
<line x1="277.4" y1="320.6" x2="277.4" y2="317.6" stroke="#444" stroke-width="0.9"/>
<line x1="277.4" y1="22.8" x2="277.4" y2="25.8" stroke="#444" stroke-width="0.9"/>
<text x="279.0" y="331.2" text-anchor="middle" class="tk">80</text>
<line x1="337.1" y1="320.6" x2="337.1" y2="317.6" stroke="#444" stroke-width="0.9"/>
<line x1="337.1" y1="22.8" x2="337.1" y2="25.8" stroke="#444" stroke-width="0.9"/>
<text x="338.7" y="331.2" text-anchor="middle" class="tk">100</text>
<text x="291.5" y="275.2" text-anchor="end" class="lg">310 K</text>
<line x1="297.6" y1="271.0" x2="327.1" y2="271.0" stroke="#000" stroke-width="1" opacity="0.75"/>
<text x="291.5" y="288.6" text-anchor="end" class="lg">353 K</text>
<line x1="297.6" y1="284.4" x2="327.1" y2="284.4" stroke="#3344b0" stroke-width="1" opacity="0.75"/>
<text x="291.5" y="302.0" text-anchor="end" class="lg">400 K</text>
<line x1="297.6" y1="297.8" x2="327.1" y2="297.8" stroke="#ee1c24" stroke-width="1" opacity="0.75"/>
<text x="291.5" y="315.4" text-anchor="end" class="lg">3.5 &#197; spacing</text>
<line x1="297.6" y1="311.2" x2="327.1" y2="311.2" stroke="#62bd45" stroke-width="1" opacity="0.75"/>

<text x="3.2" y="15.5" class="pl"><tspan class="pp">(</tspan>a<tspan class="pp">)</tspan></text>
<text x="3.2" y="364.1" class="pl"><tspan class="pp">(</tspan>b<tspan class="pp">)</tspan></text>
<text x="188.3" y="349.4" text-anchor="middle" class="al">Time (ns)</text>
<text transform="translate(18,171.2) rotate(-90)" text-anchor="middle" class="yl">Total % &#946;-sheet</text>

<g clip-path="url(#bc)">
<rect x="2.5" y="383.5" width="113.2" height="66" fill="none" stroke="#4a4a4a" stroke-width="0.9"/>
<path fill="none" stroke="#6e6e6e" stroke-width="1.5" d="M93.2 465.9c.4 0 -4.3 -1.9 -0 1.1c3 -1 -4.3 -1.7 4.9 -1.7M38.8 463.2c-2.7 .4 4.1 -2.9 .3 1.5c1.7 -.3 -3 -.1 -1.5 -.1M46.8 402.1c.7 -1.8 -.5 -1.2 1.9 -.8c-.4 1.8 -.9 3.3 -3.8 1.4M100.9 372.1c-4.1 1.7 .2 1.6 5.5 1.1c-4.5 -1.5 .9 -2.1 5.6 2.7M84.2 384.6c-1.9 -.3 2.4 -.1 -4.4 -.9c-1.8 -1.6 -3.3 -.7 -.6 1.6M34.9 457.2c1.7 2.4 4.4 -3.7 4.5 -1.3c-.2 2.4 2.2 -2.8 1.9 -2.6M38.8 441.9c3.2 2.1 -4.9 -.6 -.4 -2.7c.4 .9 3.3 3.5 -4.5 -1.6M89.6 388.3c2.8 2.9 -4.7 .3 3.6 2.9c-2.3 -2.6 3.8 3.3 -3.6 -.4M37.4 449.6c.5 -2.7 -4.6 -1.7 3.7 -2.7c-4.9 -1.1 -4.4 -2.8 -5.7 .1M84.3 428.7c4.4 3.9 -2.6 -3.9 4 2.6c-.4 2.2 3.7 .9 4.5 -2.9M97 374.9c1.7 -3.4 -1.4 -.7 -3.8 .1c.3 -1.5 2.4 -2.7 -3.7 -.9M89.7 415.3c-2.2 0 4.2 -.9 1.8 .6c2.5 -3.5 2.4 3.6 1.2 -1.3M45.3 386.1c4.7 3.6 -.8 .7 -5.5 2.9c3.2 1.1 2.6 -2.5 -2.3 -1.5M99.1 382.1c1.8 2.5 1.3 -2.1 3.4 -2.1c3.3 .6 -2.1 .1 1.5 -1.4M92.4 452.2c-4 1.2 -1.9 2 .5 -.3c4 -3.5 .6 -1.4 -5.6 1.5M44.1 406.7c3.8 -1.4 3.9 1.2 -2.1 -2.6c-2.5 3.7 -.9 -2.7 -2.4 2.4M30.8 422.9c-4.6 3.4 -1.4 1.9 .3 -2.4c-3.9 -2.8 -3.4 -3.6 -5.4 2.7M47.3 445.3c4.4 -.2 -4.9 4 -5.4 -.7c.4 3.1 3.2 .9 -1.2 2M38.5 381.4c-2 -.1 .1 2.7 -3.1 1c-1.3 2.2 -3 -.2 -4.8 -1.7M83.1 448.1c-4.5 2.6 -4.9 1.4 -4 -.9c4.5 -.1 1.6 1.9 -4.7 2M78.3 399.2c2.4 -3.8 .1 2.3 2.8 -2.4c3.3 -2.1 3.1 -0 -4.1 1.4M43.4 386.1c.4 -.8 -1.4 -.3 -2.7 -3c-.3 -1.8 -.5 3.4 -3.9 .8M98.3 404.9c2.1 2.7 -1.4 3.9 1.5 0c2.1 -.6 2.1 -1.8 5.1 .3M85 449.5c-.2 -1.2 -1.2 3.8 -4.7 2.3c3.6 -2.2 -1.5 .6 3.6 2.7M87.7 425.5c1.6 -3.1 1.5 3.4 5 2.7c4.2 3.7 -4.5 3.3 -2.7 -1.1M39.6 458.9c3.2 -2.9 -2.5 -1 -3.4 .4c-2.8 .6 4.4 2.8 -4.8 -1.8M46.5 405.1c-3 2.9 2 -.7 2.4 .1c.3 -1.1 -.1 3.9 3.4 2M50 409.9c-4.3 -2.1 3 1.5 2.4 -2.5c-3.4 -3.8 -4 -3.2 5.5 2.4M91.3 426.7c-1.3 -.3 -2.3 .7 2.7 .1c3.2 -3.1 1 3.9 -4.2 -0M103.6 458.7c-4.8 3 -3.7 -1 -.1 -.1c-4.6 -1.5 -1.4 3.6 5 .5M49.4 430.3c-1.8 -3.9 4.8 3.8 .4 .7c1.7 3.4 -.3 .7 -3.3 -1.5M85.1 444c-2.2 2.9 2 1.2 4.7 -2.6c-3.2 3.3 4.1 -3.4 3.3 -2.9M85.5 459.4c-.6 -3 -2.3 -3.9 -5.7 -.4c.1 -2 -1.2 -3.2 1.9 -.6M83.4 383.9c2.8 -1.8 4.6 -.8 -4.1 1.2c2.3 3.1 -3.7 2.3 4.3 -1.2M32.8 439.1c3.6 -.4 .2 -2.4 -2.2 1.4c4.6 -2.8 -4.5 -3.5 -.8 1.8M95.5 452.4c-3.4 -3.9 .1 -1.2 -2.5 1.6c1.8 -3.3 .5 2.4 4.9 -3M82.9 432.7c-4.3 1.4 -2.5 2.7 -5.6 -1.1c1.8 -2.8 1.5 1.6 2.8 2.3M49.9 389.5c3 -3.4 -.9 .6 -3 2.3c2 -2.7 -3.5 -3.5 .9 -1.9M48 412.1c-1.2 -.6 -.4 2.1 -2.3 -.9c-1.1 -2.8 1.3 -.8 5 1.9M84.9 425.7c-4.9 1 -1.1 2.3 3 2.5c2 3.3 -2.2 -1.3 -5.3 2.2M47.1 385.7c-1.2 -3.6 -2 1 -5.3 2.9c.4 -1.6 3.3 -2.9 -2.1 2.6M40.3 435.2c-2.9 -1.4 .5 .7 -4.1 -.5c5 -1.4 2.9 -2.4 -.5 .1M40.2 439.2c3.1 3.1 -1.7 2.6 .2 -1.4c-3.3 2.1 1.4 -3.4 1 -2.7M39.6 448.5c-1.4 .6 2.2 3 -.1 2.3c-1.8 -2.2 -2.1 1.8 4.6 -.2M80.7 413.7c-.7 -2.5 1.2 1.4 1.6 1.5c-.4 2.8 .7 3.1 -1.1 1.2M82.1 431.4c4.3 2.2 4.9 3.5 -.5 -1.6c-4.3 -1.8 1.3 3.3 -6 1.9M50.8 442.7c1.4 -1 -1.5 -3.7 5.9 2c4.7 2.5 -.4 2.8 -3.6 1M79.2 412.8c3.9 .8 -2.1 -1.9 -6 .4c3.4 -2.2 -.2 3.9 -1.3 2.6M78.3 445c-2.7 -3.6 -4.7 -2.7 -3.1 1.8c-.4 .3 -1.9 -1.6 .6 1.5M84.7 464.2c-2.3 -.9 .7 -2.9 1.3 2.8c-2.3 -.2 -3.8 .1 5.7 .3M79.3 419.1c3.1 -3.2 4.5 -.3 -2 1.7c-2.4 -2.8 -2.4 1.4 -4.8 -.3M35 460.7c-1.8 -1.2 1 1.9 -5.3 1c3.1 2.3 -.6 2.6 .6 -1.9M40.8 449c2.1 -2.3 -1 2.2 -.5 -1.6c4.4 -.4 -1.9 .1 -2.4 -1.4M48.5 417.7c-1 -.5 -2.6 2.2 -3.6 -2.8c2 1.9 -2.6 -2.6 1 2.5M35.7 416.8c-1.2 1.2 .3 -2.4 -1 2.7c3 .1 1.6 -2.9 -1 2.4M42 380.8c-2.1 1.9 -.8 2.4 -3.4 1.9c3.6 1.8 -3 -2.2 -5.2 -2.7M32.5 429.3c1.3 -3.9 -4.2 .2 -1.4 1.9c-2.2 -.8 -3.8 0 5.5 -1.4M87.7 447.1c3.9 -2.8 -3.8 -2 .2 2.7c3.6 -1.4 -4.6 .8 .9 -1.6M45.1 453.4c-3.4 -3 -3.3 2.2 -4.5 -2.5c1.3 2.1 2.6 -.5 5 -2.1M78.3 390.6c-3.5 3.9 -2 -0 5 -1.2c-1.3 .5 -4.3 -3.8 1.6 -.8M78.3 393.2c3.4 -2.3 2.6 -2.8 5.2 1.6c0 -.5 .7 1.3 .7 1.2M92.6 414.1c4.7 .3 -1.9 3.1 -.9 .3c1.4 2.8 -2.9 3 .9 -.8M32.6 465.5c-4.8 -3.6 -.1 .7 -5.9 -1.9c-4.1 -2 -3.2 -3 -4.4 -.8M49.4 434.5c2.9 -1.1 -4.9 1.2 3 2.3c2.1 .8 -1.6 -2 -5.2 1.9M83.3 444.7c-2.8 -3.6 -1.2 -1.3 2.4 .3c-.3 3.8 3.4 -3 -3 -.5M45.5 400.1c4.1 .4 -2.8 1 2.1 1.3c4.7 3.3 -.9 -.5 -5.7 -.5M84.9 413.2c3.1 -2.1 -2.9 .1 -4.7 1.1c4.4 2.5 3.8 -3.4 -.9 2.4M34 397.5c-2.3 -3.5 4 -1.7 5.9 -3c3 .2 -4.6 1.3 2.4 1.2M46.9 418.3c-2.3 3.9 -2.2 -.5 2.4 1.8c-1.8 -3.7 .8 .7 2.8 -1.4M49.9 444.6c1.7 .4 3.6 -2.2 2 1.8c2.7 -3 -1.9 3.5 3.3 -2.1M42.5 393.1c-4.8 -2.7 -4.4 1.6 2.4 -.3c3.8 -2.8 -3.1 .9 .3 -2.3M50.6 407.8c1.1 -3.4 -2 1.1 1.2 .2c-4.5 -1.4 4.8 3.5 3.8 -2.6M48.4 433.4c-3.9 4 -.7 -3.4 -4 .3c3.7 -1.9 -1 .6 1.8 1.3M84.1 459c-.8 4 -3.2 2.6 4.9 .4c1.9 -3.5 3.4 1.5 .9 .5M40.7 432.3c-2.6 2.1 -4.7 -3 -3.5 -.6c3.7 -3.9 .6 -3.7 -1.4 -1.2M82.8 430.7c-2.6 3.8 -2.5 3.9 -4.1 2.7c-4.4 -3.9 -4 1.7 -3.2 -1.3M81.4 410.4c-3.4 3.3 -1.4 -1.7 2.3 2.1c-2.7 -3 4.6 -.6 .4 -.3M40.2 379.1c3.6 -3.4 -2.9 -.3 -0 .2c4.4 -3.7 1.8 -.6 3.7 1M50.6 384.7c.4 2.2 2.7 3.4 -1 -2.9c2.3 -1.8 1.6 -3.6 -1.7 .8M96.6 446.3c1.4 .2 4.8 -1.9 2.5 -2.5c1.2 -2.4 -4.9 3.3 -2.6 2.9M50.5 452.1c-2.2 1.8 1.4 1.5 -4.2 1.2c3.4 -2.9 4.6 3.6 -2.2 2.7M86.3 464.4c3.2 -2.9 -.9 .5 -1.5 -.7c-4 -3.9 -1.9 -.6 .9 2.7M83.6 462.8c-2.4 .8 -.3 .1 -3.4 -.8c-2.2 .9 -.8 .7 .4 1M48.6 430.9c.5 -.7 -2.5 .3 -3 1c3.9 2.4 2.9 -2.3 -5.6 -1.8M99 406c-4.4 .1 2 -.3 -4.4 .1c-4.3 1.8 4.4 -3.7 .8 2M87.1 376.6c3.4 .1 -1.8 2.2 -3.4 .1c.1 -3.2 3 1.6 -3.6 -.4M45.1 453.5c-1.7 2.6 2.1 .1 -4 .6c1.2 1.5 -4.3 -2 .7 2.1M41.9 380.5c2.2 -.8 -3.6 -2.2 -1.7 -2.9c1.9 -.4 -1.5 2.9 5.6 -.3M32.4 399.7c-3.7 -3.9 -3.3 -3.2 4.9 1.1c.8 3.6 1.2 1.6 -4.1 -1.3M42 399.1c-2.1 .6 4.2 3.8 .8 -2.9c-2.2 1.2 4.2 -2.8 3.9 2.3M46.9 437.2c3.7 2.1 -.9 -.9 5.6 -1.4c-1.2 -2.8 -1.6 .7 -3.7 -.4M86.1 421.5c-1.7 1.8 .5 -.4 -4.1 2.9c-3.3 -.9 .9 3.5 -2.4 -2.3M30 402.9c3.8 -4 1.8 3.1 -2.6 2.1c1 -1.4 -4.6 1.3 -1.5 .3M91.1 384.2c-2 .7 -2.3 -.2 -1.1 1.7c-1 -1.7 4.9 -2.6 1.7 .7M32.9 382.9c3.7 3.9 -2.2 -1.4 1.7 1.7c3.5 2.1 1.8 1 -5.8 -.1M86.1 424.3c-4.9 2 2.1 -2.2 -3 -2c-.9 3.7 -1.1 3.4 -3.8 -1.6M91.7 404.9c2 -2.2 -2 3.1 1 -2.3c-.8 -3.2 -4.3 .5 -4.7 -1.7M80.6 402.2c-.6 -2.4 -3.7 -2.8 5.3 -.9c-.4 2 2.9 1.6 4.7 .2M33.7 395.3c1.8 -3.9 -1.2 -1.2 -4.9 1.9c3.3 -2 2.1 3.2 1 -.8M80.4 435.5c-2.1 1.3 .1 .7 -2.5 1.5c-3.5 -.2 .3 -3.9 3.6 .3M48.7 420.3c2.9 -1.1 -.6 -1.2 -2.1 2.7c.1 .1 -1.2 -1.4 -3.2 2.7M83.2 452.5c-1.3 -1.7 -.2 -.3 4 2.4c3.6 1.6 .3 -2.6 5.2 2.1M45.1 464.1c-2.8 -2.8 4.5 3 -5.5 .5c1.5 1.7 1.2 .5 1.3 .7M97.4 416.8c1.1 3.7 -4 -2.5 -2.6 2.5c2.2 -3 -4.3 -2.6 5 -.5M35.3 424.1c-2.3 .1 3.9 3.6 -1.2 -.1c3 -.8 -2.6 -1.8 -.2 -1.6M48.2 389.5c-2.6 3.1 1.4 -3.1 -0 1.6c3 2.7 4.1 -.1 2 -2.6M46.4 439.9c-2.7 -1.3 -1.2 2.1 -3.7 -2.5c-3.2 1.7 -4.5 .4 .1 -.8M89.7 382c4.4 -.7 1.2 -1.4 -2 -2.9c3.7 -1.8 -2.5 -1.1 -3.8 -1.1M36.3 399.1c3.4 -3.7 .7 2.9 -3.4 -2c2.9 1.2 4.7 -2.7 -4.2 -2.7M78.8 421.4c-4.1 1.5 4.9 -.9 .2 -.7c4.8 2.8 4.7 -.9 -2.2 -2.9M43.4 414.8c-3.4 3.5 -4.6 1.2 1.2 1.4c2.4 1.4 .5 -.5 3.6 -2.2M79.3 446.9c4.5 3.8 -3.5 -3.9 2.2 -1.2c4.2 -.1 -.6 -.6 -2.3 .4M97.1 411c-.4 2.6 -2.6 .3 .9 -.5c-3.8 -.6 -3.9 -1.5 -1.2 -1.9M48.4 461.5c-2.1 -2.8 4.9 .1 2.1 2.2c-1.6 .7 -2 -2.3 -5.6 -1.6M44.3 392.4c.8 -1.8 2.5 -.9 -2.6 1.5c-3.1 1.8 -1.1 -3.3 1.5 .7M92.7 390.9c.6 3.9 -4.8 1.7 -1.8 -.1c-2.2 -.3 -0 3.4 4.5 2.6M86.6 457.4c-3.8 1.8 .8 -2.4 1.6 1.1c1.5 -4 4.2 -1.2 3.6 -2.1M88.9 440.9c-.3 -3.5 -4.6 -3.6 -1.9 2.6c-1.7 2.5 1.4 1.6 1.9 -1.8M92.2 373.5c-3.8 -2.9 2.3 -3.1 -.8 .1c.1 -1.6 3.8 -.4 -3.9 .3M32.4 379.5c-1.9 -2.3 .7 -.8 -.6 -.3c1.1 -1.9 -1.8 -1.9 -4.3 .7M48 379.2c3.2 2.8 -.2 3.9 -.4 .2c-1.6 2.5 .6 0 -.9 1.5M47.2 375.2c.2 3.5 -2.9 -3.1 .3 -2.9c-1.5 -.4 -4.2 3.1 -1.4 .5M79.8 422.5c4.6 -1 2.9 -1.8 5.7 -.7c-3 -2.5 -3.9 -3.3 5.1 1.3M50.4 466.8c-2.6 .6 -1.4 -.1 5.9 1.6c-2.6 1.6 -.4 -2.1 .7 -1.6M96 388.3c2.1 2.9 2.3 3.6 -2.8 -.8c1.4 -3.1 4.9 1.3 2.2 .5M82.6 374.7c1.2 -2.6 4.2 -3.1 -2.2 2.2c1.2 -.7 2.3 -.8 -4.1 2.9M40.8 380.4c-4.6 3.6 -.8 -2.3 3.5 .2c1.6 -3.1 -.5 -.7 -2.5 -1.9M45.7 398.2c1.3 -.7 -5 1 2 2.8c3.3 -3.4 -1.8 -3.6 -5.2 -.2M79 375.6c-.8 3.5 -3.1 1.8 -.1 .1c3.3 -1.5 -1.7 1.9 -4.3 -2.4M82.6 456.5c-.9 -1.5 2.9 2.8 2.4 2.8c-3.8 -.4 3.1 3.8 -3.6 1.5M80.3 445.9c-4.4 -2 4.6 .6 .9 -1.5c-.5 -1.8 -3.6 -1.7 .7 .1M96.2 460.3c4 -2.1 1.3 2.1 -2.1 -.1c3.6 1.6 2.3 -3.4 -5.4 1.1M82.2 431.8c-1.4 1.2 -3.5 1.2 -4.7 2.4c-2.4 -4 3 -1.4 -1.1 -2.1M88.1 397.6c-.6 -3.8 0 .8 4.8 1.3c-4.2 -1.1 2.6 1.7 -5.4 -2.8M82.8 405.6c2.9 -1.9 3.1 2.7 -3 2.1c-4.2 -.9 -4 -1.4 -2.6 1.6M98.2 387.6c-.3 .7 1.6 -2.8 -2.2 -2.1c2.6 1.8 3.2 -.6 -5.8 2.4M85.7 438.7c4.3 .4 -4.1 3.1 -4.8 -1.8c-2.8 3.1 -.9 2.7 .7 -.1M97.1 430c-1.2 1 2.5 1.7 .1 .7c-2.6 -.1 3.8 3.3 -5.7 -1.5M83.2 417.4c-2.6 1.8 -4.7 3.7 -3.7 2.4c1.8 3.1 -.7 -1.4 1.3 -1.8M34.4 416c.3 1.4 4 -2.9 -3.7 -2.3c4.6 -.5 2.2 -2.7 5.1 -2.2M92.1 429.5c-3 -.4 -5 2.3 -.5 -1.3c-1.1 -.7 -3.4 -1.1 2.1 .4M38.7 386.1c.2 -2 -2.6 -1.4 .8 -.5c-1 -1.1 4.9 -.6 5 3M45.7 393.2c-3.2 -3.6 -2.8 .2 -.8 1.5c-2 1 -1.4 -2.2 3.3 -1.2M85.7 388.7c-4.4 1 -.1 1.2 -5.1 1.7c-4.5 3.7 4.4 2.4 -2.2 .9M81.4 440.9c.4 1.7 1 .5 -3.8 2.2c2.7 2 4.3 -.8 -.9 -.2M31 428.4c-3.2 1.8 -4.3 -2.3 -1.2 2c-2.5 2.6 .8 1.6 -2.4 2.8M89.3 439.3c4.7 3.3 1.7 2.1 -5.3 1.8c2.4 3.5 2.6 .9 3.3 .6M49.8 376.4c-1.3 -.3 .6 -3.4 .6 2.8c2.5 1.6 .2 3.1 -4.9 1.7M80.3 372.6c-1.6 -1.3 .2 -1.2 4.7 -2.1c3.2 .4 -2.8 3 .6 -2.4M79.1 437.2c2.4 1.7 3.3 2.2 -3.7 .3c-.1 -2.9 -.7 2.2 -.7 -.6M46.9 397.3c-1.8 2.9 4 -1.3 4 .3c4.6 .6 4 .4 -1.8 2.1M44.2 403.1c-.2 3.2 -2 -3.3 4.8 -2.3c-2.7 -.2 2.8 3.8 -3.8 -1.6M38.4 456c-2.9 -1.9 -1.3 -1.3 -4 -1.3c-3.3 .3 1.9 .1 -5.2 .5M98.4 451.4c-.4 -1.9 -3.4 -3.6 -3.2 -.1c-0 -2.6 -.5 -.5 3.7 2.5M86.1 431.5c-4 -3.4 1.1 1.5 1.8 -.1c.9 1.3 2 -2.8 -.3 -1M94.4 422.1c3.7 -3.7 -4 -3 4.4 0c2.5 -3.4 2.5 -3.4 4.9 .1M47.2 444.4c1.1 1.5 3.8 1.6 1.7 .2c-.4 1.7 3.3 1.8 -4.8 -1.5M41.3 466.4c4 .8 2.2 2.8 -4.2 -1.1c-4.7 1 4.2 -4 -4.5 -1.8M85.2 396.6c-2.5 .5 1.7 -2 .6 -2.8c4.7 -3.2 .6 4 -2.1 -1.3M89.6 451.4c1.7 -2.1 1.7 3.4 -3.6 .9c-0 1.3 -3.6 -2.1 -1.8 2M81.7 424.9c-1.5 .8 1 -2.9 -4.4 1.7c-.8 -2.8 -4.2 -.6 4.1 -1.8M85.5 439.1c.3 -1.9 -1.8 .4 4.7 -.5c-1.6 -.8 5 -1.9 -3.9 2.4M50.2 454.1c-4.1 2.3 -1.7 -.3 3.6 .8c-.4 -1.7 2.6 -.3 -3.1 -.6M93 430.8c-.6 -2.8 -4.5 -.8 2.3 -1.4c4 1 -.4 2 -2.4 2.4M80 419.6c4 -3.1 -3 -.1 4.7 -2.4c.4 2.1 -1.1 -.4 5.2 .2M45.6 392.5c-1.7 2.6 4.6 -1.4 3.1 .2c1.9 -1.1 -1.5 -2.4 0 -2.7M81.2 434.7c-.6 2.3 -3.8 1 -1.4 2.1c-1 -2.5 -1.6 .2 -5 2.2M97.5 463.1c-4.6 -2.4 -.5 -1.8 5.4 .7c-1.7 .8 1.7 2.9 4.7 -.5M50.2 408.7c-3 -3.3 -1.8 -1.2 .8 1c2.1 2.2 .7 .1 1.3 1.2M93.8 391c-4.8 2.4 -2.7 2.7 -1.7 -.9c3.7 2.1 -4.4 3.6 -3.5 1M31.2 437.8c-2.5 3.7 .7 -1.4 -.8 -1.8c.7 .5 -3.4 -.7 -2.8 2.4M36.3 395.5c-4.9 -2.4 3.1 -1.8 .4 -1.2c-4.4 -.6 4.9 -.8 -2 .4M96.8 385.7c-3.7 2 -3.1 -3 -3.1 2.3c4.4 3.5 -1.9 3.2 -5.2 -.1M90 444.4c-.2 1.9 2.6 -3.1 -2.1 -1c4.4 2.8 -2 3.9 -5.1 -1M43.8 398.9c3.2 1 2 1.7 .9 -1.9c3.1 .5 2.2 -3.8 -3.8 .4M84.5 372.1c-4.6 1.5 4.9 -1.5 -2 -1c.8 -.8 -1.4 2.1 -6 2.2M45 447c1 -1.2 3.1 -.1 5.8 1.3c3.8 3.2 .8 3.1 1.2 .1M42.5 466.9c1.3 -4 1.8 1 2.7 2.8c2.4 4 2.9 3.8 -.8 -1.5M42.4 398.4c-4.7 -.7 0 3.9 .8 .5c-.3 -3.9 -2.1 1.3 2.5 2.7M35.8 444.8c-3.7 3.1 2.5 1.4 -4.3 2.7c1.8 -2.5 .9 -2.8 -5.3 1.3M44.8 382.1c-2.7 -3.5 1.6 2.2 .2 1c-3.5 3.3 .9 -3 .4 -.2M37.7 377.1c-0 2.7 -3.1 1.2 -1.1 -2.3c3.9 1.8 -2.3 -2.4 -1.7 1.3M51.7 395.5c2.8 -2.7 .8 -3.8 -2.1 1c1.8 -3.9 -3.2 -2.2 -2.9 -.8M87.7 446.9c2.7 -3.1 .3 1.2 -.8 2.1c-3.9 .5 2.2 3.8 -5.9 1.3M45.9 459.8c-1.1 2.4 -2.1 -2.9 -1.9 1c4.2 -0 -1.7 3.5 2.9 -.3M85.8 395.6c-4.1 -2.2 3 2.1 -.7 2.3c-3.4 1.9 2.6 -3.5 4.4 1.6M82.2 418c-4.5 -.6 3.6 .3 -3.1 2.4c-.7 -2.5 1 -2.6 1.5 1.1M83.4 442.2c-3.2 .7 .7 -1 1.9 -.4c-.6 -.8 .7 -4 1.2 -2.3M38.4 396.3c5 3.9 -1.7 3.3 4.9 -1.8c-1.2 -2.5 -2.7 .2 0 -.3M46.3 406.5c1.9 -2.2 2.5 .6 5 -2.5c1.6 -.6 -1.3 -1.3 4.8 -1.5M83.6 421.8c-1.4 -.5 1.6 .1 4.7 -1.1c3.6 -1.6 -3.5 -3 -2.8 2.5M47.2 406.7c1.7 -2.7 .3 -1.1 3.1 .9c-3.5 -1.5 3.1 3.1 .1 2M86.9 374.7c.3 2.8 -2.9 -3.9 1.8 1c-2.6 -1.4 -1.6 -3.3 2.9 -1.7M35.5 385.8c1.6 -3.4 .8 -.4 .3 1.5c2.4 -3.6 -3.4 3.9 -.7 1.9M41 444.2c-.8 1.7 3.3 2.5 -3.5 2.4c.8 -2.5 2.9 -2 -2 -.5M83 465.1c-4.4 -3 2.7 -2.1 -3.5 -2.9c-1.7 -3.4 1.4 -4 -.8 2.3M98 373.8c-0 -1.1 2.7 .7 5.3 2.7c2.3 -.2 .3 3.4 2.8 1.5M86.3 444.4c-1.2 2 -3.9 -3.9 4.5 2.9c-.7 -.9 -2.7 3.5 -2.9 .9M89.3 392.6c-.2 1.6 -2.5 2.7 5.3 -1.3c-.1 -3.9 -1 .8 -4.1 2.9M45.4 449.1c-.9 2.9 3.2 -.5 -4.1 1.9c4.2 -2 -4.2 2.8 1.3 -1.4M83.5 388c2.2 -2 .9 -.4 .8 -2.2c3.6 3.9 -0 -.8 3.5 -2M48.4 454.9c1.7 -3.1 1.6 3.8 -2.9 2.7c4.6 2.7 -.1 -.4 -1.7 1.7M50.3 461.4c4.1 -.1 1 1.7 .5 -1.3c-3.4 .5 -.6 -1.8 -1.9 -2.7M94 382.4c2 -.1 -2.6 .6 .3 2.5c4.6 -.3 -1.4 .7 -4.7 .2M79.2 464.5c-3.5 -1.5 .9 -.4 1.8 -2.5c2.2 -2.7 -2.3 -2.6 2.6 -2.8M84.2 419.6c-2.7 2.1 2.6 1 4.9 1.3c-3.4 -1.9 -.2 -1.5 -1.2 -.2M37 430.4c-4.9 3.9 -3.5 -.8 -5.8 .1c1.8 -1.7 4.3 -2.8 5.4 1.7M89.7 396.1c4.7 -3.1 3.1 -1 -5.8 1.4c.9 -2.2 -1.4 -2.8 -4.4 .4M98.9 405.9c-.1 -2.7 -4.8 .9 -3.1 1.5c-2.7 -1 1.5 1.5 -1.9 1.4M45.9 379.8c-5 -1.4 -.9 -1.9 -4.1 -.4c-1.9 -3.7 3.4 .2 -3.9 -1M84.9 442.7c-3.4 .1 4 1.6 -.6 -2.8c4.3 3.9 2.8 -2.2 1 1.8M45.4 375.3c3.9 -.1 2.3 .9 -1.7 2.4c-2.6 .1 -.8 1.7 2.5 -.3M86.7 372.3c-1.5 3.7 1.5 -.7 5.3 3c2.8 -1.6 3.9 2.3 1.8 -.2M91.1 420.4c-.5 2.4 -2.5 -3 -3.9 .7c-4.7 -1.5 -3.3 -3.8 5.3 -.8M81.1 395.9c2.5 -2.1 .6 -2.5 -5.2 2.3c2.7 2.4 5 2.8 -5.2 -1.3M37.2 388.9c-1.6 1.5 -.9 1.3 1.8 -2.3c1.9 -1.8 -.8 .1 -1.4 -1.4M48.8 382.3c-.9 2.9 .9 -2.9 5.6 .3c-4.3 -1.1 -3.5 3.1 -1.3 -0M39.3 466.4c-1.9 1.9 2.4 1.3 3.8 2.7c-3 1.8 -.9 2.6 4.9 2.6M49.9 412c2.2 2.5 3.4 -2.9 2.2 .3c-3.3 -.2 2.8 -2.7 4.7 -2M82.3 389.2c-2.8 -2.4 -2.9 -.6 5.9 1.1c-1.6 3.7 .6 -3.7 -5.1 .3M90.1 461.4c-4.1 3.4 -.7 -1.5 -2.5 -.9c-.8 -.8 3.5 -1.3 -3.1 2.6M81.2 432.2c-3.5 -1.3 -3.2 -3.3 .1 -2.6c-.4 -.2 1 2.8 -5.7 -1.9M81.2 390c4.2 -1 .8 .6 3.1 -.1c-1.1 1.7 -1.7 -3.2 6 2.6M40.5 387.3c3.8 3.9 -.5 3.8 -.3 -.3c-2.3 .5 -1.1 2.9 5.4 1.3M81.9 437.3c1.3 -4 4.9 -1.3 0 -2c4.7 3.1 -1 2.4 6 2.2M87.8 394.4c-3.4 -2.1 4.6 2.5 -4.1 -.4c3.4 -1.8 .2 -1.7 5.1 .1M46.4 460.9c3.9 -2.6 -4 3 -.8 1.6c-1.5 -3.5 -3.8 -.3 2.9 2.5M87.2 443.8c.3 2.1 -.5 2.2 -.5 -2.3c3.1 -2.7 .4 1.9 1.6 .4M84.3 443.3c4.8 -2.1 -4.7 2.5 1.7 -.3c4.1 3.8 -1.3 -.6 .7 -.7M86 450.9c-0 -2.4 -4.9 -1.8 3.7 .3c2.7 -3.2 2.5 3.9 -5.7 -2.2M95.7 456.5c4.9 -2 .8 -3.2 .1 2c-1.7 .1 1.7 -3.4 -2.5 -.8M49.9 395.1c3.5 -2.2 2.7 -1.8 5.4 -2.7c-3.9 3.1 -3.3 .7 -1.7 .5M93.2 389.5c2 -3.7 2.9 -.8 2.2 -2.1c4.6 3.4 3.8 2.5 3 -2.9M92.3 467.3c4.7 -.9 -2.7 .8 -4.4 1.9c4 .9 3.8 -2.4 4.5 -1.1"/>
<path fill="none" stroke="#fff" stroke-width=".9" d="M93.2 465.9c.4 0 -4.3 -1.9 -0 1.1c3 -1 -4.3 -1.7 4.9 -1.7M38.8 463.2c-2.7 .4 4.1 -2.9 .3 1.5c1.7 -.3 -3 -.1 -1.5 -.1M46.8 402.1c.7 -1.8 -.5 -1.2 1.9 -.8c-.4 1.8 -.9 3.3 -3.8 1.4M100.9 372.1c-4.1 1.7 .2 1.6 5.5 1.1c-4.5 -1.5 .9 -2.1 5.6 2.7M84.2 384.6c-1.9 -.3 2.4 -.1 -4.4 -.9c-1.8 -1.6 -3.3 -.7 -.6 1.6M34.9 457.2c1.7 2.4 4.4 -3.7 4.5 -1.3c-.2 2.4 2.2 -2.8 1.9 -2.6M38.8 441.9c3.2 2.1 -4.9 -.6 -.4 -2.7c.4 .9 3.3 3.5 -4.5 -1.6M89.6 388.3c2.8 2.9 -4.7 .3 3.6 2.9c-2.3 -2.6 3.8 3.3 -3.6 -.4M37.4 449.6c.5 -2.7 -4.6 -1.7 3.7 -2.7c-4.9 -1.1 -4.4 -2.8 -5.7 .1M84.3 428.7c4.4 3.9 -2.6 -3.9 4 2.6c-.4 2.2 3.7 .9 4.5 -2.9M97 374.9c1.7 -3.4 -1.4 -.7 -3.8 .1c.3 -1.5 2.4 -2.7 -3.7 -.9M89.7 415.3c-2.2 0 4.2 -.9 1.8 .6c2.5 -3.5 2.4 3.6 1.2 -1.3M45.3 386.1c4.7 3.6 -.8 .7 -5.5 2.9c3.2 1.1 2.6 -2.5 -2.3 -1.5M99.1 382.1c1.8 2.5 1.3 -2.1 3.4 -2.1c3.3 .6 -2.1 .1 1.5 -1.4M92.4 452.2c-4 1.2 -1.9 2 .5 -.3c4 -3.5 .6 -1.4 -5.6 1.5M44.1 406.7c3.8 -1.4 3.9 1.2 -2.1 -2.6c-2.5 3.7 -.9 -2.7 -2.4 2.4M30.8 422.9c-4.6 3.4 -1.4 1.9 .3 -2.4c-3.9 -2.8 -3.4 -3.6 -5.4 2.7M47.3 445.3c4.4 -.2 -4.9 4 -5.4 -.7c.4 3.1 3.2 .9 -1.2 2M38.5 381.4c-2 -.1 .1 2.7 -3.1 1c-1.3 2.2 -3 -.2 -4.8 -1.7M83.1 448.1c-4.5 2.6 -4.9 1.4 -4 -.9c4.5 -.1 1.6 1.9 -4.7 2M78.3 399.2c2.4 -3.8 .1 2.3 2.8 -2.4c3.3 -2.1 3.1 -0 -4.1 1.4M43.4 386.1c.4 -.8 -1.4 -.3 -2.7 -3c-.3 -1.8 -.5 3.4 -3.9 .8M98.3 404.9c2.1 2.7 -1.4 3.9 1.5 0c2.1 -.6 2.1 -1.8 5.1 .3M85 449.5c-.2 -1.2 -1.2 3.8 -4.7 2.3c3.6 -2.2 -1.5 .6 3.6 2.7M87.7 425.5c1.6 -3.1 1.5 3.4 5 2.7c4.2 3.7 -4.5 3.3 -2.7 -1.1M39.6 458.9c3.2 -2.9 -2.5 -1 -3.4 .4c-2.8 .6 4.4 2.8 -4.8 -1.8M46.5 405.1c-3 2.9 2 -.7 2.4 .1c.3 -1.1 -.1 3.9 3.4 2M50 409.9c-4.3 -2.1 3 1.5 2.4 -2.5c-3.4 -3.8 -4 -3.2 5.5 2.4M91.3 426.7c-1.3 -.3 -2.3 .7 2.7 .1c3.2 -3.1 1 3.9 -4.2 -0M103.6 458.7c-4.8 3 -3.7 -1 -.1 -.1c-4.6 -1.5 -1.4 3.6 5 .5M49.4 430.3c-1.8 -3.9 4.8 3.8 .4 .7c1.7 3.4 -.3 .7 -3.3 -1.5M85.1 444c-2.2 2.9 2 1.2 4.7 -2.6c-3.2 3.3 4.1 -3.4 3.3 -2.9M85.5 459.4c-.6 -3 -2.3 -3.9 -5.7 -.4c.1 -2 -1.2 -3.2 1.9 -.6M83.4 383.9c2.8 -1.8 4.6 -.8 -4.1 1.2c2.3 3.1 -3.7 2.3 4.3 -1.2M32.8 439.1c3.6 -.4 .2 -2.4 -2.2 1.4c4.6 -2.8 -4.5 -3.5 -.8 1.8M95.5 452.4c-3.4 -3.9 .1 -1.2 -2.5 1.6c1.8 -3.3 .5 2.4 4.9 -3M82.9 432.7c-4.3 1.4 -2.5 2.7 -5.6 -1.1c1.8 -2.8 1.5 1.6 2.8 2.3M49.9 389.5c3 -3.4 -.9 .6 -3 2.3c2 -2.7 -3.5 -3.5 .9 -1.9M48 412.1c-1.2 -.6 -.4 2.1 -2.3 -.9c-1.1 -2.8 1.3 -.8 5 1.9M84.9 425.7c-4.9 1 -1.1 2.3 3 2.5c2 3.3 -2.2 -1.3 -5.3 2.2M47.1 385.7c-1.2 -3.6 -2 1 -5.3 2.9c.4 -1.6 3.3 -2.9 -2.1 2.6M40.3 435.2c-2.9 -1.4 .5 .7 -4.1 -.5c5 -1.4 2.9 -2.4 -.5 .1M40.2 439.2c3.1 3.1 -1.7 2.6 .2 -1.4c-3.3 2.1 1.4 -3.4 1 -2.7M39.6 448.5c-1.4 .6 2.2 3 -.1 2.3c-1.8 -2.2 -2.1 1.8 4.6 -.2M80.7 413.7c-.7 -2.5 1.2 1.4 1.6 1.5c-.4 2.8 .7 3.1 -1.1 1.2M82.1 431.4c4.3 2.2 4.9 3.5 -.5 -1.6c-4.3 -1.8 1.3 3.3 -6 1.9M50.8 442.7c1.4 -1 -1.5 -3.7 5.9 2c4.7 2.5 -.4 2.8 -3.6 1M79.2 412.8c3.9 .8 -2.1 -1.9 -6 .4c3.4 -2.2 -.2 3.9 -1.3 2.6M78.3 445c-2.7 -3.6 -4.7 -2.7 -3.1 1.8c-.4 .3 -1.9 -1.6 .6 1.5M84.7 464.2c-2.3 -.9 .7 -2.9 1.3 2.8c-2.3 -.2 -3.8 .1 5.7 .3M79.3 419.1c3.1 -3.2 4.5 -.3 -2 1.7c-2.4 -2.8 -2.4 1.4 -4.8 -.3M35 460.7c-1.8 -1.2 1 1.9 -5.3 1c3.1 2.3 -.6 2.6 .6 -1.9M40.8 449c2.1 -2.3 -1 2.2 -.5 -1.6c4.4 -.4 -1.9 .1 -2.4 -1.4M48.5 417.7c-1 -.5 -2.6 2.2 -3.6 -2.8c2 1.9 -2.6 -2.6 1 2.5M35.7 416.8c-1.2 1.2 .3 -2.4 -1 2.7c3 .1 1.6 -2.9 -1 2.4M42 380.8c-2.1 1.9 -.8 2.4 -3.4 1.9c3.6 1.8 -3 -2.2 -5.2 -2.7M32.5 429.3c1.3 -3.9 -4.2 .2 -1.4 1.9c-2.2 -.8 -3.8 0 5.5 -1.4M87.7 447.1c3.9 -2.8 -3.8 -2 .2 2.7c3.6 -1.4 -4.6 .8 .9 -1.6M45.1 453.4c-3.4 -3 -3.3 2.2 -4.5 -2.5c1.3 2.1 2.6 -.5 5 -2.1M78.3 390.6c-3.5 3.9 -2 -0 5 -1.2c-1.3 .5 -4.3 -3.8 1.6 -.8M78.3 393.2c3.4 -2.3 2.6 -2.8 5.2 1.6c0 -.5 .7 1.3 .7 1.2M92.6 414.1c4.7 .3 -1.9 3.1 -.9 .3c1.4 2.8 -2.9 3 .9 -.8M32.6 465.5c-4.8 -3.6 -.1 .7 -5.9 -1.9c-4.1 -2 -3.2 -3 -4.4 -.8M49.4 434.5c2.9 -1.1 -4.9 1.2 3 2.3c2.1 .8 -1.6 -2 -5.2 1.9M83.3 444.7c-2.8 -3.6 -1.2 -1.3 2.4 .3c-.3 3.8 3.4 -3 -3 -.5M45.5 400.1c4.1 .4 -2.8 1 2.1 1.3c4.7 3.3 -.9 -.5 -5.7 -.5M84.9 413.2c3.1 -2.1 -2.9 .1 -4.7 1.1c4.4 2.5 3.8 -3.4 -.9 2.4M34 397.5c-2.3 -3.5 4 -1.7 5.9 -3c3 .2 -4.6 1.3 2.4 1.2M46.9 418.3c-2.3 3.9 -2.2 -.5 2.4 1.8c-1.8 -3.7 .8 .7 2.8 -1.4M49.9 444.6c1.7 .4 3.6 -2.2 2 1.8c2.7 -3 -1.9 3.5 3.3 -2.1M42.5 393.1c-4.8 -2.7 -4.4 1.6 2.4 -.3c3.8 -2.8 -3.1 .9 .3 -2.3M50.6 407.8c1.1 -3.4 -2 1.1 1.2 .2c-4.5 -1.4 4.8 3.5 3.8 -2.6M48.4 433.4c-3.9 4 -.7 -3.4 -4 .3c3.7 -1.9 -1 .6 1.8 1.3M84.1 459c-.8 4 -3.2 2.6 4.9 .4c1.9 -3.5 3.4 1.5 .9 .5M40.7 432.3c-2.6 2.1 -4.7 -3 -3.5 -.6c3.7 -3.9 .6 -3.7 -1.4 -1.2M82.8 430.7c-2.6 3.8 -2.5 3.9 -4.1 2.7c-4.4 -3.9 -4 1.7 -3.2 -1.3M81.4 410.4c-3.4 3.3 -1.4 -1.7 2.3 2.1c-2.7 -3 4.6 -.6 .4 -.3M40.2 379.1c3.6 -3.4 -2.9 -.3 -0 .2c4.4 -3.7 1.8 -.6 3.7 1M50.6 384.7c.4 2.2 2.7 3.4 -1 -2.9c2.3 -1.8 1.6 -3.6 -1.7 .8M96.6 446.3c1.4 .2 4.8 -1.9 2.5 -2.5c1.2 -2.4 -4.9 3.3 -2.6 2.9M50.5 452.1c-2.2 1.8 1.4 1.5 -4.2 1.2c3.4 -2.9 4.6 3.6 -2.2 2.7M86.3 464.4c3.2 -2.9 -.9 .5 -1.5 -.7c-4 -3.9 -1.9 -.6 .9 2.7M83.6 462.8c-2.4 .8 -.3 .1 -3.4 -.8c-2.2 .9 -.8 .7 .4 1M48.6 430.9c.5 -.7 -2.5 .3 -3 1c3.9 2.4 2.9 -2.3 -5.6 -1.8M99 406c-4.4 .1 2 -.3 -4.4 .1c-4.3 1.8 4.4 -3.7 .8 2M87.1 376.6c3.4 .1 -1.8 2.2 -3.4 .1c.1 -3.2 3 1.6 -3.6 -.4M45.1 453.5c-1.7 2.6 2.1 .1 -4 .6c1.2 1.5 -4.3 -2 .7 2.1M41.9 380.5c2.2 -.8 -3.6 -2.2 -1.7 -2.9c1.9 -.4 -1.5 2.9 5.6 -.3M32.4 399.7c-3.7 -3.9 -3.3 -3.2 4.9 1.1c.8 3.6 1.2 1.6 -4.1 -1.3M42 399.1c-2.1 .6 4.2 3.8 .8 -2.9c-2.2 1.2 4.2 -2.8 3.9 2.3M46.9 437.2c3.7 2.1 -.9 -.9 5.6 -1.4c-1.2 -2.8 -1.6 .7 -3.7 -.4M86.1 421.5c-1.7 1.8 .5 -.4 -4.1 2.9c-3.3 -.9 .9 3.5 -2.4 -2.3M30 402.9c3.8 -4 1.8 3.1 -2.6 2.1c1 -1.4 -4.6 1.3 -1.5 .3M91.1 384.2c-2 .7 -2.3 -.2 -1.1 1.7c-1 -1.7 4.9 -2.6 1.7 .7M32.9 382.9c3.7 3.9 -2.2 -1.4 1.7 1.7c3.5 2.1 1.8 1 -5.8 -.1M86.1 424.3c-4.9 2 2.1 -2.2 -3 -2c-.9 3.7 -1.1 3.4 -3.8 -1.6M91.7 404.9c2 -2.2 -2 3.1 1 -2.3c-.8 -3.2 -4.3 .5 -4.7 -1.7M80.6 402.2c-.6 -2.4 -3.7 -2.8 5.3 -.9c-.4 2 2.9 1.6 4.7 .2M33.7 395.3c1.8 -3.9 -1.2 -1.2 -4.9 1.9c3.3 -2 2.1 3.2 1 -.8M80.4 435.5c-2.1 1.3 .1 .7 -2.5 1.5c-3.5 -.2 .3 -3.9 3.6 .3M48.7 420.3c2.9 -1.1 -.6 -1.2 -2.1 2.7c.1 .1 -1.2 -1.4 -3.2 2.7M83.2 452.5c-1.3 -1.7 -.2 -.3 4 2.4c3.6 1.6 .3 -2.6 5.2 2.1M45.1 464.1c-2.8 -2.8 4.5 3 -5.5 .5c1.5 1.7 1.2 .5 1.3 .7M97.4 416.8c1.1 3.7 -4 -2.5 -2.6 2.5c2.2 -3 -4.3 -2.6 5 -.5M35.3 424.1c-2.3 .1 3.9 3.6 -1.2 -.1c3 -.8 -2.6 -1.8 -.2 -1.6M48.2 389.5c-2.6 3.1 1.4 -3.1 -0 1.6c3 2.7 4.1 -.1 2 -2.6M46.4 439.9c-2.7 -1.3 -1.2 2.1 -3.7 -2.5c-3.2 1.7 -4.5 .4 .1 -.8M89.7 382c4.4 -.7 1.2 -1.4 -2 -2.9c3.7 -1.8 -2.5 -1.1 -3.8 -1.1M36.3 399.1c3.4 -3.7 .7 2.9 -3.4 -2c2.9 1.2 4.7 -2.7 -4.2 -2.7M78.8 421.4c-4.1 1.5 4.9 -.9 .2 -.7c4.8 2.8 4.7 -.9 -2.2 -2.9M43.4 414.8c-3.4 3.5 -4.6 1.2 1.2 1.4c2.4 1.4 .5 -.5 3.6 -2.2M79.3 446.9c4.5 3.8 -3.5 -3.9 2.2 -1.2c4.2 -.1 -.6 -.6 -2.3 .4M97.1 411c-.4 2.6 -2.6 .3 .9 -.5c-3.8 -.6 -3.9 -1.5 -1.2 -1.9M48.4 461.5c-2.1 -2.8 4.9 .1 2.1 2.2c-1.6 .7 -2 -2.3 -5.6 -1.6M44.3 392.4c.8 -1.8 2.5 -.9 -2.6 1.5c-3.1 1.8 -1.1 -3.3 1.5 .7M92.7 390.9c.6 3.9 -4.8 1.7 -1.8 -.1c-2.2 -.3 -0 3.4 4.5 2.6M86.6 457.4c-3.8 1.8 .8 -2.4 1.6 1.1c1.5 -4 4.2 -1.2 3.6 -2.1M88.9 440.9c-.3 -3.5 -4.6 -3.6 -1.9 2.6c-1.7 2.5 1.4 1.6 1.9 -1.8M92.2 373.5c-3.8 -2.9 2.3 -3.1 -.8 .1c.1 -1.6 3.8 -.4 -3.9 .3M32.4 379.5c-1.9 -2.3 .7 -.8 -.6 -.3c1.1 -1.9 -1.8 -1.9 -4.3 .7M48 379.2c3.2 2.8 -.2 3.9 -.4 .2c-1.6 2.5 .6 0 -.9 1.5M47.2 375.2c.2 3.5 -2.9 -3.1 .3 -2.9c-1.5 -.4 -4.2 3.1 -1.4 .5M79.8 422.5c4.6 -1 2.9 -1.8 5.7 -.7c-3 -2.5 -3.9 -3.3 5.1 1.3M50.4 466.8c-2.6 .6 -1.4 -.1 5.9 1.6c-2.6 1.6 -.4 -2.1 .7 -1.6M96 388.3c2.1 2.9 2.3 3.6 -2.8 -.8c1.4 -3.1 4.9 1.3 2.2 .5M82.6 374.7c1.2 -2.6 4.2 -3.1 -2.2 2.2c1.2 -.7 2.3 -.8 -4.1 2.9M40.8 380.4c-4.6 3.6 -.8 -2.3 3.5 .2c1.6 -3.1 -.5 -.7 -2.5 -1.9M45.7 398.2c1.3 -.7 -5 1 2 2.8c3.3 -3.4 -1.8 -3.6 -5.2 -.2M79 375.6c-.8 3.5 -3.1 1.8 -.1 .1c3.3 -1.5 -1.7 1.9 -4.3 -2.4M82.6 456.5c-.9 -1.5 2.9 2.8 2.4 2.8c-3.8 -.4 3.1 3.8 -3.6 1.5M80.3 445.9c-4.4 -2 4.6 .6 .9 -1.5c-.5 -1.8 -3.6 -1.7 .7 .1M96.2 460.3c4 -2.1 1.3 2.1 -2.1 -.1c3.6 1.6 2.3 -3.4 -5.4 1.1M82.2 431.8c-1.4 1.2 -3.5 1.2 -4.7 2.4c-2.4 -4 3 -1.4 -1.1 -2.1M88.1 397.6c-.6 -3.8 0 .8 4.8 1.3c-4.2 -1.1 2.6 1.7 -5.4 -2.8M82.8 405.6c2.9 -1.9 3.1 2.7 -3 2.1c-4.2 -.9 -4 -1.4 -2.6 1.6M98.2 387.6c-.3 .7 1.6 -2.8 -2.2 -2.1c2.6 1.8 3.2 -.6 -5.8 2.4M85.7 438.7c4.3 .4 -4.1 3.1 -4.8 -1.8c-2.8 3.1 -.9 2.7 .7 -.1M97.1 430c-1.2 1 2.5 1.7 .1 .7c-2.6 -.1 3.8 3.3 -5.7 -1.5M83.2 417.4c-2.6 1.8 -4.7 3.7 -3.7 2.4c1.8 3.1 -.7 -1.4 1.3 -1.8M34.4 416c.3 1.4 4 -2.9 -3.7 -2.3c4.6 -.5 2.2 -2.7 5.1 -2.2M92.1 429.5c-3 -.4 -5 2.3 -.5 -1.3c-1.1 -.7 -3.4 -1.1 2.1 .4M38.7 386.1c.2 -2 -2.6 -1.4 .8 -.5c-1 -1.1 4.9 -.6 5 3M45.7 393.2c-3.2 -3.6 -2.8 .2 -.8 1.5c-2 1 -1.4 -2.2 3.3 -1.2M85.7 388.7c-4.4 1 -.1 1.2 -5.1 1.7c-4.5 3.7 4.4 2.4 -2.2 .9M81.4 440.9c.4 1.7 1 .5 -3.8 2.2c2.7 2 4.3 -.8 -.9 -.2M31 428.4c-3.2 1.8 -4.3 -2.3 -1.2 2c-2.5 2.6 .8 1.6 -2.4 2.8M89.3 439.3c4.7 3.3 1.7 2.1 -5.3 1.8c2.4 3.5 2.6 .9 3.3 .6M49.8 376.4c-1.3 -.3 .6 -3.4 .6 2.8c2.5 1.6 .2 3.1 -4.9 1.7M80.3 372.6c-1.6 -1.3 .2 -1.2 4.7 -2.1c3.2 .4 -2.8 3 .6 -2.4M79.1 437.2c2.4 1.7 3.3 2.2 -3.7 .3c-.1 -2.9 -.7 2.2 -.7 -.6M46.9 397.3c-1.8 2.9 4 -1.3 4 .3c4.6 .6 4 .4 -1.8 2.1M44.2 403.1c-.2 3.2 -2 -3.3 4.8 -2.3c-2.7 -.2 2.8 3.8 -3.8 -1.6M38.4 456c-2.9 -1.9 -1.3 -1.3 -4 -1.3c-3.3 .3 1.9 .1 -5.2 .5M98.4 451.4c-.4 -1.9 -3.4 -3.6 -3.2 -.1c-0 -2.6 -.5 -.5 3.7 2.5M86.1 431.5c-4 -3.4 1.1 1.5 1.8 -.1c.9 1.3 2 -2.8 -.3 -1M94.4 422.1c3.7 -3.7 -4 -3 4.4 0c2.5 -3.4 2.5 -3.4 4.9 .1M47.2 444.4c1.1 1.5 3.8 1.6 1.7 .2c-.4 1.7 3.3 1.8 -4.8 -1.5M41.3 466.4c4 .8 2.2 2.8 -4.2 -1.1c-4.7 1 4.2 -4 -4.5 -1.8M85.2 396.6c-2.5 .5 1.7 -2 .6 -2.8c4.7 -3.2 .6 4 -2.1 -1.3M89.6 451.4c1.7 -2.1 1.7 3.4 -3.6 .9c-0 1.3 -3.6 -2.1 -1.8 2M81.7 424.9c-1.5 .8 1 -2.9 -4.4 1.7c-.8 -2.8 -4.2 -.6 4.1 -1.8M85.5 439.1c.3 -1.9 -1.8 .4 4.7 -.5c-1.6 -.8 5 -1.9 -3.9 2.4M50.2 454.1c-4.1 2.3 -1.7 -.3 3.6 .8c-.4 -1.7 2.6 -.3 -3.1 -.6M93 430.8c-.6 -2.8 -4.5 -.8 2.3 -1.4c4 1 -.4 2 -2.4 2.4M80 419.6c4 -3.1 -3 -.1 4.7 -2.4c.4 2.1 -1.1 -.4 5.2 .2M45.6 392.5c-1.7 2.6 4.6 -1.4 3.1 .2c1.9 -1.1 -1.5 -2.4 0 -2.7M81.2 434.7c-.6 2.3 -3.8 1 -1.4 2.1c-1 -2.5 -1.6 .2 -5 2.2M97.5 463.1c-4.6 -2.4 -.5 -1.8 5.4 .7c-1.7 .8 1.7 2.9 4.7 -.5M50.2 408.7c-3 -3.3 -1.8 -1.2 .8 1c2.1 2.2 .7 .1 1.3 1.2M93.8 391c-4.8 2.4 -2.7 2.7 -1.7 -.9c3.7 2.1 -4.4 3.6 -3.5 1M31.2 437.8c-2.5 3.7 .7 -1.4 -.8 -1.8c.7 .5 -3.4 -.7 -2.8 2.4M36.3 395.5c-4.9 -2.4 3.1 -1.8 .4 -1.2c-4.4 -.6 4.9 -.8 -2 .4M96.8 385.7c-3.7 2 -3.1 -3 -3.1 2.3c4.4 3.5 -1.9 3.2 -5.2 -.1M90 444.4c-.2 1.9 2.6 -3.1 -2.1 -1c4.4 2.8 -2 3.9 -5.1 -1M43.8 398.9c3.2 1 2 1.7 .9 -1.9c3.1 .5 2.2 -3.8 -3.8 .4M84.5 372.1c-4.6 1.5 4.9 -1.5 -2 -1c.8 -.8 -1.4 2.1 -6 2.2M45 447c1 -1.2 3.1 -.1 5.8 1.3c3.8 3.2 .8 3.1 1.2 .1M42.5 466.9c1.3 -4 1.8 1 2.7 2.8c2.4 4 2.9 3.8 -.8 -1.5M42.4 398.4c-4.7 -.7 0 3.9 .8 .5c-.3 -3.9 -2.1 1.3 2.5 2.7M35.8 444.8c-3.7 3.1 2.5 1.4 -4.3 2.7c1.8 -2.5 .9 -2.8 -5.3 1.3M44.8 382.1c-2.7 -3.5 1.6 2.2 .2 1c-3.5 3.3 .9 -3 .4 -.2M37.7 377.1c-0 2.7 -3.1 1.2 -1.1 -2.3c3.9 1.8 -2.3 -2.4 -1.7 1.3M51.7 395.5c2.8 -2.7 .8 -3.8 -2.1 1c1.8 -3.9 -3.2 -2.2 -2.9 -.8M87.7 446.9c2.7 -3.1 .3 1.2 -.8 2.1c-3.9 .5 2.2 3.8 -5.9 1.3M45.9 459.8c-1.1 2.4 -2.1 -2.9 -1.9 1c4.2 -0 -1.7 3.5 2.9 -.3M85.8 395.6c-4.1 -2.2 3 2.1 -.7 2.3c-3.4 1.9 2.6 -3.5 4.4 1.6M82.2 418c-4.5 -.6 3.6 .3 -3.1 2.4c-.7 -2.5 1 -2.6 1.5 1.1M83.4 442.2c-3.2 .7 .7 -1 1.9 -.4c-.6 -.8 .7 -4 1.2 -2.3M38.4 396.3c5 3.9 -1.7 3.3 4.9 -1.8c-1.2 -2.5 -2.7 .2 0 -.3M46.3 406.5c1.9 -2.2 2.5 .6 5 -2.5c1.6 -.6 -1.3 -1.3 4.8 -1.5M83.6 421.8c-1.4 -.5 1.6 .1 4.7 -1.1c3.6 -1.6 -3.5 -3 -2.8 2.5M47.2 406.7c1.7 -2.7 .3 -1.1 3.1 .9c-3.5 -1.5 3.1 3.1 .1 2M86.9 374.7c.3 2.8 -2.9 -3.9 1.8 1c-2.6 -1.4 -1.6 -3.3 2.9 -1.7M35.5 385.8c1.6 -3.4 .8 -.4 .3 1.5c2.4 -3.6 -3.4 3.9 -.7 1.9M41 444.2c-.8 1.7 3.3 2.5 -3.5 2.4c.8 -2.5 2.9 -2 -2 -.5M83 465.1c-4.4 -3 2.7 -2.1 -3.5 -2.9c-1.7 -3.4 1.4 -4 -.8 2.3M98 373.8c-0 -1.1 2.7 .7 5.3 2.7c2.3 -.2 .3 3.4 2.8 1.5M86.3 444.4c-1.2 2 -3.9 -3.9 4.5 2.9c-.7 -.9 -2.7 3.5 -2.9 .9M89.3 392.6c-.2 1.6 -2.5 2.7 5.3 -1.3c-.1 -3.9 -1 .8 -4.1 2.9M45.4 449.1c-.9 2.9 3.2 -.5 -4.1 1.9c4.2 -2 -4.2 2.8 1.3 -1.4M83.5 388c2.2 -2 .9 -.4 .8 -2.2c3.6 3.9 -0 -.8 3.5 -2M48.4 454.9c1.7 -3.1 1.6 3.8 -2.9 2.7c4.6 2.7 -.1 -.4 -1.7 1.7M50.3 461.4c4.1 -.1 1 1.7 .5 -1.3c-3.4 .5 -.6 -1.8 -1.9 -2.7M94 382.4c2 -.1 -2.6 .6 .3 2.5c4.6 -.3 -1.4 .7 -4.7 .2M79.2 464.5c-3.5 -1.5 .9 -.4 1.8 -2.5c2.2 -2.7 -2.3 -2.6 2.6 -2.8M84.2 419.6c-2.7 2.1 2.6 1 4.9 1.3c-3.4 -1.9 -.2 -1.5 -1.2 -.2M37 430.4c-4.9 3.9 -3.5 -.8 -5.8 .1c1.8 -1.7 4.3 -2.8 5.4 1.7M89.7 396.1c4.7 -3.1 3.1 -1 -5.8 1.4c.9 -2.2 -1.4 -2.8 -4.4 .4M98.9 405.9c-.1 -2.7 -4.8 .9 -3.1 1.5c-2.7 -1 1.5 1.5 -1.9 1.4M45.9 379.8c-5 -1.4 -.9 -1.9 -4.1 -.4c-1.9 -3.7 3.4 .2 -3.9 -1M84.9 442.7c-3.4 .1 4 1.6 -.6 -2.8c4.3 3.9 2.8 -2.2 1 1.8M45.4 375.3c3.9 -.1 2.3 .9 -1.7 2.4c-2.6 .1 -.8 1.7 2.5 -.3M86.7 372.3c-1.5 3.7 1.5 -.7 5.3 3c2.8 -1.6 3.9 2.3 1.8 -.2M91.1 420.4c-.5 2.4 -2.5 -3 -3.9 .7c-4.7 -1.5 -3.3 -3.8 5.3 -.8M81.1 395.9c2.5 -2.1 .6 -2.5 -5.2 2.3c2.7 2.4 5 2.8 -5.2 -1.3M37.2 388.9c-1.6 1.5 -.9 1.3 1.8 -2.3c1.9 -1.8 -.8 .1 -1.4 -1.4M48.8 382.3c-.9 2.9 .9 -2.9 5.6 .3c-4.3 -1.1 -3.5 3.1 -1.3 -0M39.3 466.4c-1.9 1.9 2.4 1.3 3.8 2.7c-3 1.8 -.9 2.6 4.9 2.6M49.9 412c2.2 2.5 3.4 -2.9 2.2 .3c-3.3 -.2 2.8 -2.7 4.7 -2M82.3 389.2c-2.8 -2.4 -2.9 -.6 5.9 1.1c-1.6 3.7 .6 -3.7 -5.1 .3M90.1 461.4c-4.1 3.4 -.7 -1.5 -2.5 -.9c-.8 -.8 3.5 -1.3 -3.1 2.6M81.2 432.2c-3.5 -1.3 -3.2 -3.3 .1 -2.6c-.4 -.2 1 2.8 -5.7 -1.9M81.2 390c4.2 -1 .8 .6 3.1 -.1c-1.1 1.7 -1.7 -3.2 6 2.6M40.5 387.3c3.8 3.9 -.5 3.8 -.3 -.3c-2.3 .5 -1.1 2.9 5.4 1.3M81.9 437.3c1.3 -4 4.9 -1.3 0 -2c4.7 3.1 -1 2.4 6 2.2M87.8 394.4c-3.4 -2.1 4.6 2.5 -4.1 -.4c3.4 -1.8 .2 -1.7 5.1 .1M46.4 460.9c3.9 -2.6 -4 3 -.8 1.6c-1.5 -3.5 -3.8 -.3 2.9 2.5M87.2 443.8c.3 2.1 -.5 2.2 -.5 -2.3c3.1 -2.7 .4 1.9 1.6 .4M84.3 443.3c4.8 -2.1 -4.7 2.5 1.7 -.3c4.1 3.8 -1.3 -.6 .7 -.7M86 450.9c-0 -2.4 -4.9 -1.8 3.7 .3c2.7 -3.2 2.5 3.9 -5.7 -2.2M95.7 456.5c4.9 -2 .8 -3.2 .1 2c-1.7 .1 1.7 -3.4 -2.5 -.8M49.9 395.1c3.5 -2.2 2.7 -1.8 5.4 -2.7c-3.9 3.1 -3.3 .7 -1.7 .5M93.2 389.5c2 -3.7 2.9 -.8 2.2 -2.1c4.6 3.4 3.8 2.5 3 -2.9M92.3 467.3c4.7 -.9 -2.7 .8 -4.4 1.9c4 .9 3.8 -2.4 4.5 -1.1"/>
<path fill="none" stroke="#2f9aaa" stroke-width="1.3" d="M85.6 377.2c2.1 -3.5 -4.4 3.5 3.7 -1.5c-1.6 2.6 1.2 -1.9 -.6 2.1M91.3 399.1c-1.5 3.2 5 -3.2 3.4 .3c-5 .9 -2.2 -1.2 5.6 1.5M83.7 397c2.3 .2 3.6 -3.4 -5.4 2.1c-3.9 1.7 1 -2.3 -2.9 1.4M85.5 420.9c3.6 .2 -1.1 -3.8 2.4 -.6c-1.8 -1 -.8 -1.3 -2.5 -.2M96.5 413.1c.6 3.1 3.1 1.7 1.4 .6c-3.1 -2.9 -4.4 -3.2 1.4 .7M44.9 412c-3.6 .2 -1.9 -3.5 -4.5 -1c1.6 2.4 -.1 -3.6 1.3 2.4M47.4 451.7c4.7 -.3 -1.1 -1.2 1.3 -2c-3.7 3.9 0 .1 -2.4 -2.7M45.2 442.9c-.3 -3.8 .2 .3 2.8 2.2c1.3 -3.3 -4.1 3 4.6 -.6M41.7 380.5c-3.4 -2.9 -1.1 -3.3 -.4 .4c-3.1 2.1 -4.2 .6 3.7 .7M45.6 419.1c-3.1 -1.6 3.9 -1.1 5.7 -2c.3 1.1 1.9 2.4 3.1 1.9M96.1 420.6c-1.5 3.6 3.5 1.9 -4.6 -.2c1.5 -3.2 2 2.5 5.4 0M87.2 466.4c1 -.7 1.8 2.1 2.2 -1.7c-4.8 -1.5 -.7 2.7 -4.9 2.1M35.8 378.3c-3.3 -2 -.6 3.2 4.3 -1.1c4.8 -3.5 -4.4 -.2 -1.9 2.2M34.6 373.6c4.1 2.6 .8 2.7 3.6 2.1c1.8 3.8 .8 1.6 -.3 2.9M42.3 390.4c1 -2.9 1.4 -1.6 -1.7 1c-.4 -.4 -2 2.5 -2.4 .9M50.4 388.7c1.7 .9 -1.4 -1.5 -5 -2.6c1.4 2.4 0 1.5 -.6 -2.7"/>
<path fill="none" stroke="#8adce6" stroke-width=".5" d="M85.6 377.2c2.1 -3.5 -4.4 3.5 3.7 -1.5c-1.6 2.6 1.2 -1.9 -.6 2.1M91.3 399.1c-1.5 3.2 5 -3.2 3.4 .3c-5 .9 -2.2 -1.2 5.6 1.5M83.7 397c2.3 .2 3.6 -3.4 -5.4 2.1c-3.9 1.7 1 -2.3 -2.9 1.4M85.5 420.9c3.6 .2 -1.1 -3.8 2.4 -.6c-1.8 -1 -.8 -1.3 -2.5 -.2M96.5 413.1c.6 3.1 3.1 1.7 1.4 .6c-3.1 -2.9 -4.4 -3.2 1.4 .7M44.9 412c-3.6 .2 -1.9 -3.5 -4.5 -1c1.6 2.4 -.1 -3.6 1.3 2.4M47.4 451.7c4.7 -.3 -1.1 -1.2 1.3 -2c-3.7 3.9 0 .1 -2.4 -2.7M45.2 442.9c-.3 -3.8 .2 .3 2.8 2.2c1.3 -3.3 -4.1 3 4.6 -.6M41.7 380.5c-3.4 -2.9 -1.1 -3.3 -.4 .4c-3.1 2.1 -4.2 .6 3.7 .7M45.6 419.1c-3.1 -1.6 3.9 -1.1 5.7 -2c.3 1.1 1.9 2.4 3.1 1.9M96.1 420.6c-1.5 3.6 3.5 1.9 -4.6 -.2c1.5 -3.2 2 2.5 5.4 0M87.2 466.4c1 -.7 1.8 2.1 2.2 -1.7c-4.8 -1.5 -.7 2.7 -4.9 2.1M35.8 378.3c-3.3 -2 -.6 3.2 4.3 -1.1c4.8 -3.5 -4.4 -.2 -1.9 2.2M34.6 373.6c4.1 2.6 .8 2.7 3.6 2.1c1.8 3.8 .8 1.6 -.3 2.9M42.3 390.4c1 -2.9 1.4 -1.6 -1.7 1c-.4 -.4 -2 2.5 -2.4 .9M50.4 388.7c1.7 .9 -1.4 -1.5 -5 -2.6c1.4 2.4 0 1.5 -.6 -2.7"/>
<path fill="#2230a2" d="M55 371L77 372.5L77.2 375.5L79 378.5L80.1 381.5L82 384.5L81.2 387.5L81.5 390.5L81.5 393.5L80.6 396.5L82.9 399.5L83.5 402.5L84.8 405.5L83.8 408.5L84.4 411.5L81.5 414.5L79.9 417.5L81.4 420.5L80.5 423.5L79.6 426.5L79.9 429.5L77.2 432.5L78.2 435.5L79.4 438.5L79 441.5L77.4 444.5L80.9 447.5L81.2 450.5L79 453.5L78.3 456.5L76.1 459.5L74.3 462.5L72.8 465.5L73.5 468.5L50.2 468.5L49.3 465.5L47.6 462.5L49.4 459.5L46.4 456.5L49.2 453.5L52.2 450.5L51.4 447.5L50.8 444.5L52.3 441.5L51.5 438.5L46.4 435.5L47.4 432.5L43.4 429.5L43.1 426.5L43.9 423.5L45.5 420.5L45.8 417.5L46 414.5L44.7 411.5L44.6 408.5L46.2 405.5L52.4 402.5L48.9 399.5L48.7 396.5L47.7 393.5L47.7 390.5L47.2 387.5L50 384.5L49 381.5L50.3 378.5L49 375.5L52 372.5Z"/>
<path fill="none" stroke="#161e88" stroke-width="4.6" stroke-linecap="round" d="M71.1 457.2h0M82.2 428.9h0M70.5 412h0M70.5 419h0M60 446.7h0M42.7 458.1h0M50.5 377.9h0M51.5 402.9h0M79.6 433.7h0M77.7 401.8h0M77.4 442h0M52.1 396.3h0M45 430h0M85.8 454.5h0M86.6 382.7h0M55.6 414h0M68.8 440.8h0M48.4 380.8h0M79.8 374.6h0M65.5 424.5h0M74.1 419.6h0M49.1 447.7h0M68 374.8h0M70.2 457.4h0M66.7 410.9h0M78.8 456.8h0M85.6 392.2h0M46.7 440.5h0M60 427.7h0M61.7 409.8h0M64.4 458h0M62.5 421.7h0M48.9 389.6h0M68.2 401.8h0M49 395.6h0M72.5 456.9h0M80.5 460h0M60.8 388.2h0M77.8 407.4h0M56.7 445.8h0M64.9 407.8h0M46.7 447h0M82.5 420.3h0M70.4 393.1h0M54.3 415.8h0M77.6 422.5h0M59.7 377h0M80.9 421.6h0M79.7 384.1h0M71.3 439.7h0M72.3 374.7h0M70.3 447.4h0M48.7 386h0M66.1 401.2h0M51.5 409.2h0M65.1 463.1h0M82 373.8h0M48.1 414.2h0M80.1 399.1h0M73.1 381.7h0M76.8 403.4h0M47.7 390.7h0M52.5 417.6h0M64.1 442.5h0M75.8 386h0M56.7 379.9h0M54.1 423.3h0M81.8 442.7h0M66.5 449h0M84.5 459.7h0M42.8 381.7h0M48.6 388.4h0M68.7 414.6h0M45.8 418.6h0M64.5 460h0M55.7 431.9h0M60.8 443.3h0M47.2 455.7h0M49.5 379.6h0M68.9 383.2h0M81.5 396.2h0M74.5 387.2h0M81.3 384.9h0M67 450.7h0M51.4 404.4h0M56.7 398.7h0M61.5 372.6h0M68.8 376.4h0M90.5 411.3h0M57.3 396.1h0M42.4 374.6h0M53.1 372.9h0M80.7 446h0M67.9 385.8h0M41.1 445h0M65.4 398.6h0M48.4 397.1h0M63.8 463.3h0M59.6 398.2h0M87.2 389.4h0M53.2 414.7h0M49 398.6h0M48.4 419.5h0M62 445.5h0M74.6 424.6h0M53.2 435.1h0M80.9 406.6h0M53.4 443.5h0M41.6 438.4h0M78.7 415.1h0M85.1 386.5h0M47 459.7h0M38.6 466.4h0M84.4 460.8h0M61.8 447.3h0M50.6 387.5h0M72.9 461.3h0M43.3 424.2h0M83.3 385.3h0M68.6 449.8h0M73.5 422.3h0M52.9 412.6h0M78.1 420.7h0M83 393.3h0M66.8 388h0M82.8 422.6h0M53 436.5h0M56.4 458.4h0M48.5 439.2h0M61.3 446.2h0M48.1 446.2h0M39.5 377.8h0M79.6 375.9h0M76.1 428.4h0M72 399h0M73.6 407.6h0M76.2 379.9h0M82 444.9h0M81.8 405.2h0M75 448.5h0M46.1 380h0M45.6 390.1h0M50.2 461.8h0M53.9 392.2h0M89.2 463.6h0M42.9 397.5h0M61.3 398.8h0M47.3 431h0M50.9 447.8h0M67.1 431.5h0M48.7 439.5h0M48.7 428.8h0M80 393.6h0M64.4 439.3h0M61.9 445.4h0M71.3 442.7h0M64.7 373.7h0M68 443.7h0M82.4 461.6h0M82.4 431.6h0M49.9 375.8h0M69.6 394.5h0M44.3 415.1h0M78.5 384.9h0M49.3 449.9h0M67.7 460.6h0M71.5 436.1h0M42.6 431.9h0M49.4 392.1h0M62.7 430.8h0M81.6 431.4h0M60.2 423.4h0M78.2 417.7h0M74.6 407.9h0M52.4 423.4h0M51.7 382.3h0M56.4 458.6h0M72.9 375.4h0M51.6 389.2h0M60.8 461.3h0M86.9 451.5h0M79 392.3h0M78.3 402.9h0M79.8 403.7h0M62 448.1h0M45.4 381.3h0M58.7 439.5h0M57.5 385.1h0M70.1 418.6h0M75.9 459.6h0M57.9 413.3h0M56.4 417h0M76.6 405.4h0M61.1 376.1h0M71.7 461.2h0M65.6 462.6h0M69.6 464.4h0M87.1 401.6h0M70.4 373.4h0M82.6 398.5h0M46 389.6h0M73.5 459.4h0M71.3 397h0M59.3 418.7h0M61.4 392h0M80.7 375.4h0M57.7 435.6h0M41.1 373.9h0M89.5 453.4h0M82.4 395.4h0M86.6 398.8h0M66.5 385h0M81 420.3h0M77.5 441.8h0M81.2 381.6h0M66 424.7h0M73.3 443h0M46.5 460.5h0M50.5 406.2h0M58.3 461.6h0M63.6 464.9h0M75.9 446.7h0M64 412.4h0M44.1 463.7h0M85.3 423.7h0M65.9 450h0M43.4 401.7h0M63.2 452.6h0"/>
<path fill="none" stroke="#5868cc" stroke-width="2.4" stroke-linecap="round" d="M71.1 457.2h0M70.5 412h0M42.7 458.1h0M50.5 377.9h0M45 430h0M85.8 454.5h0M86.6 382.7h0M79.8 374.6h0M74.1 419.6h0M66.7 410.9h0M46.7 440.5h0M61.7 409.8h0M64.4 458h0M62.5 421.7h0M48.9 389.6h0M80.5 460h0M77.6 422.5h0M79.7 384.1h0M48.7 386h0M66.1 401.2h0M65.1 463.1h0M80.1 399.1h0M73.1 381.7h0M47.7 390.7h0M75.8 386h0M81.8 442.7h0M66.5 449h0M84.5 459.7h0M68.7 414.6h0M45.8 418.6h0M47.2 455.7h0M49.5 379.6h0M81.5 396.2h0M67 450.7h0M68.8 376.4h0M90.5 411.3h0M42.4 374.6h0M67.9 385.8h0M41.1 445h0M63.8 463.3h0M59.6 398.2h0M87.2 389.4h0M53.2 414.7h0M49 398.6h0M53.2 435.1h0M80.9 406.6h0M78.7 415.1h0M72.9 461.3h0M73.5 422.3h0M66.8 388h0M48.5 439.2h0M76.1 428.4h0M76.2 379.9h0M82 444.9h0M50.2 461.8h0M53.9 392.2h0M61.3 398.8h0M50.9 447.8h0M48.7 439.5h0M61.9 445.4h0M68 443.7h0M82.4 431.6h0M67.7 460.6h0M42.6 431.9h0M62.7 430.8h0M81.6 431.4h0M60.2 423.4h0M78.2 417.7h0M51.7 382.3h0M56.4 458.6h0M60.8 461.3h0M86.9 451.5h0M79 392.3h0M79.8 403.7h0M56.4 417h0M61.1 376.1h0M82.6 398.5h0M71.3 397h0M59.3 418.7h0M82.4 395.4h0M86.6 398.8h0M77.5 441.8h0M81.2 381.6h0M73.3 443h0M58.3 461.6h0M64 412.4h0M44.1 463.7h0M85.3 423.7h0M65.9 450h0M43.4 401.7h0"/>
<path fill="none" stroke="#dfe2f6" stroke-width="2.1" stroke-linecap="round" d="M82.2 428.9h0M79.6 433.7h0M77.7 401.8h0M77.4 442h0M52.1 396.3h0M48.4 380.8h0M68 374.8h0M72.5 456.9h0M60.8 388.2h0M77.8 407.4h0M64.9 407.8h0M46.7 447h0M54.3 415.8h0M80.9 421.6h0M82 373.8h0M76.8 403.4h0M56.7 379.9h0M42.8 381.7h0M48.4 419.5h0M47 459.7h0M61.8 447.3h0M50.6 387.5h0M52.9 412.6h0M83 393.3h0M56.4 458.4h0M42.9 397.5h0M64.4 439.3h0M64.7 373.7h0M44.3 415.1h0M72.9 375.4h0M71.7 461.2h0M69.6 464.4h0M63.6 464.9h0M75.9 446.7h0"/>
<path fill="none" stroke="#ffffff" stroke-width=".8" stroke-linecap="round" d="M54.1 440.7l.7 1.9M64.9 442.7l1.8 1M53.4 379.3l-1.8 .5M55.4 416.9l2.3 0M61.7 384.1l-.8 1M76.1 434.3l.6 2.5M58.4 385.1l.8 2.6M50.9 453.2l-.5 1.4M75.9 406.4l-2.1 1.2M74.6 401.4l2.1 2M53.4 398.3l-1.6 1.9M53.8 413.8l.3 1.2M74.7 416.3l2.8 0M70.4 443.7l1.9 .9M63.7 389l-2.7 .9M66.3 462.8l-1.1 1.7M53.4 392.6l-1.6 .7M68.1 380.3l-2.3 1M64.4 460l1.7 .2M61.7 413.5l.2 2.3M77.8 432.4l2 1.4M55.9 380.3l1.5 .4M53.6 460.4l1.8 .4M73.6 380l-.1 2.3M58.4 449.9l-1.2 2.7M50.5 378l-2.3 1M64.2 403.8l1.9 1.6M62.2 461.8l-.1 2.4M77 438.7l-1.1 .8M74.8 460.5l.7 2.1M63 406.4l1.4 .6M69.3 446.2l1.6 2.7M56.5 423.1l-2.4 2.1M61.6 414.8l-.4 2.8M79.3 453.4l1.1 .7M52.1 419.5l-1.5 2.2M73.6 431.5l2 .4M66.1 419.5l1.7 2.5M57.6 457.4l.1 2.2M50.3 373.5l-.2 2.7M66.9 455.1l-1.9 2.4M72.9 391.2l.8 1.1M68.9 375.8l-1.7 1.5M77.3 406.6l-2.3 1.6M70.2 442.1l.6 1.6M57.6 405.8l-1.2 2.4M61.3 445.6l-.5 1.4M70.2 377.2l-2.6 .6M50.7 452.4l3.1 .1M67.7 453.9l-1.5 .1M76.6 395.6l.5 1.1M58.5 384.3l-2.9 1.3M59.9 406.5l2.1 2M50.3 465l-.1 1.3M57.4 374.5l-.6 2.1M51 430.3l-2.5 .7M64.2 448l-1.6 .8M69.3 397l2.8 .5M63.5 427.9l3.2 .1M72 453.8l2.4 1M58.3 430.8l-.1 1.6M51.5 377.5l-2.1 2.1M65.6 397.9l-.7 1.2M58.3 398l-2.9 .9M51.3 408.6l-1.6 2.2M69.9 457.5l-1.3 .2M53.4 400.9l1.4 .9M53.7 404.8l-2.1 1.6M57.7 408.3l-2.1 .4M71 417.6l2.9 .3M69.8 391.1l-1.3 .6M54 421.9l-1.4 2.7"/>
<path fill="none" stroke="#c4c8ec" stroke-width=".8" stroke-linecap="round" d="M57.1 410.4l2.5 1.7M73.6 461.5l.6 1.2M68.7 437.2l-2.7 1.7M76.4 414.4l-1 .9M52.4 387.2l-.5 2.1M53.3 445.8l.8 2.6M61 380.2l.9 1.3M77.9 402l-1.7 .9M57 381l2.5 .5M76.4 429l-2.3 .1M73.1 423.9l-2.6 .5M53.5 465.7l2.3 1.5M71.6 413.5l-2.7 1.5M51.2 441.4l-2.2 1.1M63.4 437l1.8 2.2M49.1 433.9l-1.8 .7M76.1 414.7l-.4 3M60.2 385.8l.3 2M76.9 373.3l1.9 1.7M65.2 455l-2.2 0M69.9 424.6l.2 2.8M50.1 438.2l-1.8 1.4M59.3 440.2l-.1 1.3M65.5 381.9l1.5 .7M60.2 397.9l-1.1 1.5M62.1 385.2l2.3 1.9M54.2 409.1l-.9 2.9M66.9 438.4l1 1.7M79.3 426l-1 1.5M77.2 455l.7 1.5M66.9 389.2l3 .1M62.4 380.8l-.2 2.1M51.7 450.9l2.3 .7M76.3 396.9l0 2.8M65.9 466.3l-1.6 .3M66.1 390l.6 1.8M50.8 394l-1 1.6M51.1 436.8l-.9 1.6M70 457.9l-.5 2.9M58.1 407.6l-1 2.5M52.4 422.9l1.6 .8M51.4 402.1l-2.2 .8M58.9 433.6l2.5 1.6M68.8 425.3l-1.6 .4M73.7 430.7l.1 1.8M79.7 443.4l1.5 .4M57.7 464l1.3 1M55.7 377.1l.2 2M63.3 423l-.4 2.4M55.9 464.3l.6 2.9M52.4 399.8l-2.6 1.3M67.6 406.6l-2.6 1.5M78 380.6l-1.4 1.6"/>
<path fill="none" stroke="#46420a" stroke-width="2.3" stroke-linecap="round" d="M79.2 374.7l7 .2M44.8 376.9l-6.1 .1M75.8 377.8l5.2 -3M48.5 383.6l-6.5 -.7M46.7 382.6l-6.3 1.2M78.3 382.4l5.1 .9M78.9 382.3l3.6 -2.1M80.9 385.4l4.1 1.1M53.8 390.3l-4 1.1M50.7 389.4l-6.3 1.4M82.7 390.4l6.2 -.1M90.1 392.4l4.4 -1M45 396.6l-6.9 -.1M37 397l-6.4 -1.2M47.4 394.5l-4.6 1.1M50.6 397.4l-5.7 -1.3M83.3 400.7l6.6 -.7M86.1 406.7l4.3 .8M47.5 412.5l-5.5 -.3M80.8 412.5l5.4 -.9M78.3 419.4l4.2 -2.3M80.7 415.7l5.1 -.4M42.5 422l-4.3 -1.7M50.3 422.8l-4.3 -1.6M42.2 421.5l-4.3 .9M77.6 424.8l4.3 -2.4M74.7 422.2l6 -1.9M86.6 428.8l5.8 -3.2M92.2 426.2l5.2 .8M92 431.7l4.2 1.1M89.6 432.8l6.7 -1.7M37 437.2l-4.6 .4M44.4 442.3l-6.6 -1.9M87.6 442.7l4.7 -2.3M46.3 447.5l-6.5 -1.2M85.2 446.9l5.4 -1.8M86.4 445.7l4.3 .4M38.1 451.4l-4.3 -.8M90.8 451.4l4.7 -.2M89.2 452.1l5.7 -2.9M35.6 454.4l-4.6 -.6M87.5 455.7l5.9 1.2M92.2 461.8l5.5 -1M39.7 467.1l-5.1 -1.1M49.3 470.6l-4.9 -2.1M52.6 470.6l-4.2 .5M43.2 472.3l-5 -.9M94.1 471.4l3.7 -1.5M67.3 463.5l4.9 3.5M69.4 407.3l3.6 .4M69.6 454.5l5.2 -.8M53.5 414.3l6.3 1.1M71.5 460.8l3.6 -2.3M71.4 376.5l3.4 3M73.2 390.5l1.6 3.1M64.6 420.4l4.3 3.4M60.5 423.5l5.6 -1.8M66.1 405.3l3 -5.6M70.8 421.6l4.2 -3.4M76.8 418.3l3.1 -4.7"/>
<path fill="none" stroke="#ece000" stroke-width="1.5" stroke-linecap="round" d="M78.9 373.6l7 .2M46.4 381.5l-6.3 1.2M78 381.3l5.1 .9M78.6 381.2l3.6 -2.1M80.6 384.3l4.1 1.1M82.4 389.3l6.2 -.1M36.7 395.9l-6.4 -1.2M47.1 393.4l-4.6 1.1M50.3 396.3l-5.7 -1.3M83 399.6l6.6 -.7M85.8 405.6l4.3 .8M47.2 411.4l-5.5 -.3M78 418.3l4.2 -2.3M42.2 420.9l-4.3 -1.7M50 421.7l-4.3 -1.6M41.9 420.4l-4.3 .9M86.3 427.7l5.8 -3.2M91.9 425.1l5.2 .8M89.3 431.7l6.7 -1.7M36.7 436.1l-4.6 .4M87.3 441.6l4.7 -2.3M46 446.4l-6.5 -1.2M86.1 444.6l4.3 .4M37.8 450.3l-4.3 -.8M90.5 450.3l4.7 -.2M88.9 451l5.7 -2.9M35.3 453.3l-4.6 -.6M87.2 454.6l5.9 1.2M91.9 460.7l5.5 -1M39.4 466l-5.1 -1.1M42.9 471.2l-5 -.9M67.3 462.9l4.9 3.5M69.4 406.7l3.6 .4M69.6 453.9l5.2 -.8M53.5 413.7l6.3 1.1M71.5 460.2l3.6 -2.3M71.4 375.9l3.4 3M73.2 389.9l1.6 3.1M64.6 419.8l4.3 3.4M60.5 422.9l5.6 -1.8M66.1 404.7l3 -5.6M70.8 421l4.2 -3.4M76.8 417.7l3.1 -4.7"/>
<path fill="none" stroke="#b8ac00" stroke-width="1.5" stroke-linecap="round" d="M44.5 375.8l-6.1 .1M75.5 376.7l5.2 -3M48.2 382.5l-6.5 -.7M53.5 389.2l-4 1.1M50.4 388.3l-6.3 1.4M89.8 391.3l4.4 -1M44.7 395.5l-6.9 -.1M80.5 411.4l5.4 -.9M80.4 414.6l5.1 -.4M77.3 423.7l4.3 -2.4M74.4 421.1l6 -1.9M91.7 430.6l4.2 1.1M44.1 441.2l-6.6 -1.9M84.9 445.8l5.4 -1.8M49 469.5l-4.9 -2.1M52.3 469.5l-4.2 .5M93.8 470.3l3.7 -1.5"/>
<rect x="121.5" y="385.9" width="108" height="62.8" fill="none" stroke="#4a4a4a" stroke-width="0.9"/>
<path fill="none" stroke="#6e6e6e" stroke-width="1.5" d="M199.7 411c-3.7 2.1 -3.6 3.9 -2.3 -2.7c-3.2 -3.7 -2.7 1.3 -1.6 -2.9M205.5 384.8c.5 -3.8 -.4 2.2 -2 -2.4c.6 3.8 2.2 -.3 1.1 -.9M146.9 451.9c1.1 3.4 .9 .3 2.8 .7c3.9 2.3 .4 1.6 4.7 -.5M151.5 376.2c2.1 3.4 4.6 -1 4.2 .9c-2.7 -3.5 1 -1.2 4.5 2.6M155.8 449.6c-0 -1.5 .3 0 -.4 -.2c.5 3.6 3.7 .3 -5.5 2.2M191.8 421.8c-2.7 2.4 -2.3 2.7 1.4 -1c-1.9 -1.8 -3.5 -2.1 -1.8 -1.3M201.7 424.8c-2.5 1.8 -.5 3.6 -5 -2c2.2 -2.2 -4.5 .4 4.9 -.2M191 467.5c-4.6 -2.5 -3.2 2.6 5.7 2.6c-2.9 -1.3 1.9 -2 4.9 -.6M194.4 461.1c4.3 -1.8 -4.4 3.8 1.2 -1.7c-.2 3.3 -4.1 .8 -5.8 -.7M191.7 412.6c.5 -.9 -.2 -.7 -3.1 -2.1c1.9 -2.5 -4.7 3.7 -4.1 -2.4M207.6 435.8c-3.4 2.1 -1 1.8 .4 -2.4c-2.7 -.8 -5 .3 -5 .1M145.9 377.8c-.8 -1.4 -3 2.8 -1.7 -1.4c2.7 -2.6 1.9 -1.6 1.1 -.5M199.8 462.1c-.2 2.3 1.4 -2.4 1.6 -1.5c1.5 .2 -4.3 -1.4 -4.3 -1.2M208 384.5c-2.1 -1.2 1.7 3.8 -.1 .4c4.5 1.7 -1.6 2.4 -1.9 -2.1M190.3 400.1c2.8 -.7 4.5 3.4 3.8 3c-2.6 -2.9 -1.4 .8 -3.2 1.5M200.7 456.1c-4.1 2.2 .4 3.6 3.1 -2.5c4.9 .4 4.2 -.7 -5.4 2.7M193.7 422.5c-2.8 -1.9 4 1.9 -1.3 -2.1c-3.5 -1.8 -3.9 -1.4 -5.5 2.7M195.1 382.9c3.1 -2.1 4.4 -.3 -1.7 .1c2.7 .7 -2.8 3.3 .8 -2.1M203 424.4c-2.9 -3.6 2.1 3 4.1 1.3c-3.2 -3.1 2.3 .7 -3 0M191.7 467.2c-2.6 -1.9 -4.6 -1.9 -.1 -.2c4.1 -1.7 -3.9 -.3 .2 -2.9M150.5 458.9c2.7 .6 -3.9 -2.3 -1.5 .7c-2.8 -3.4 4.7 2.5 1.9 1.3M157.9 465.4c-.7 -2.9 1.8 -.2 -2.7 -.9c2.1 -1.7 4 -2.7 3.5 -1.6M189.2 450.9c-1.6 -.6 -2.5 -1.4 5 1.3c-1.3 -3.8 -4 -1.1 -2.6 .9M206.5 376.4c-1.5 -1.8 3.2 -.2 2.9 1.3c3.4 -1.9 2.6 2 -5.7 -.1M156.8 395c1.7 1 0 1.9 -1.9 1c-.3 -1.2 -2.7 .5 4.6 -1.8M212.9 453.7c-3.8 -3.5 3.4 -2.3 -1.6 2c1.3 1.9 4.9 -2.3 -.5 -2.9M153.3 391.9c1.9 .1 -.3 -.5 -5.8 -2c-4.5 1.8 4.1 -2.8 3.8 -1.8M204.7 431.1c2.2 -2.9 -4.2 -.8 .8 2.7c3.5 1.4 3.5 -1 4.8 1.7M155.6 462.9c2.5 .5 4.1 3.4 -4.7 -2.4c4.6 -2.5 -1.7 .3 -2.9 2.9M153.9 411.3c3 3.9 2.7 .6 3.2 -2.8c4.4 1.2 -4.4 -.4 1.2 -1.5M191.4 410.8c1.1 1.6 -4.2 -2.7 -1.4 -1.7c2 -1.6 1.3 1.7 3.1 2M195.6 439.7c4.7 -3.7 -3.1 -3 -4.4 -1.9c-0 -.9 4.7 -3.8 4.1 .4M153.5 397.7c1.2 2.8 -2.6 2.9 5.2 -1.1c2 -2.8 -2.3 2.5 -5.4 1.6M159.6 375.4c-4.1 -.1 .6 2 -2.8 -2.8c-.8 2.9 -.5 -3.3 1.6 .7M148.7 396.1c3.2 3.9 1.3 -3.2 1.9 2.4c3.3 .2 -3.1 -2.8 1 -2.4M154.3 400.6c-3 1.9 -4.2 -2.9 1.2 -2.9c-3.7 3.3 1.5 -3.2 3.7 2.4M153.5 433.6c1.7 -2.9 -1 .9 2.9 .8c.9 .8 4.7 .7 -5.1 1.3M145.8 416.2c3.7 -2.2 2.7 -1.9 2.9 -.9c-2 .5 .5 -2.5 2.3 -0M194 459.6c4.9 .1 -.1 2 1.3 -.6c-2.7 .6 4.9 3.3 -2.2 -2.4M156.4 451.9c-4.3 -.5 -3.9 3.2 -4.9 2.8c.8 -.4 -1.3 1.8 .8 -.7M142.6 447.6c-.7 1.1 .3 2.8 -1.9 -.3c1.6 -1 4.2 .4 -1.4 2.7M157.5 435.3c-4 2.9 -.6 3.9 2.2 -2.3c-1.3 .6 -1.8 -2.7 4.7 -0M145.3 393.2c3.8 1.6 -4.4 1.7 -1.1 2.2c-1.5 2.4 -4.3 .7 -4.6 2.3M158.8 398.2c-1.2 3.8 -.2 -3.2 4.5 1.3c2.4 -2.7 .1 -1.7 2.7 -1.7M196.3 439.7c-.5 -.6 -2 2.3 -2.2 1.7c-3.2 1.8 3.6 1.9 -2.8 1.7M189.9 432.8c1.6 -2.1 -3.7 -.5 4.2 -1.1c2.9 -3.8 3.3 3 -5.7 .5M205.6 412.4c1.9 1.6 .3 -2.9 -2.8 2.7c.5 -2.9 2.7 .9 5 -1.5M210.7 432c4.8 .4 2.4 3.5 4.8 2.9c-3.6 -3.7 -3.7 1 2.6 -.8M156 396.1c2.2 -2.8 -.7 -3.5 -4 .8c3.5 -1.2 4.1 -.2 -1 1M162.4 451c-2.3 .6 -2 .3 -1.8 .2c-1.3 -.2 2.6 2.2 2.1 -.1M193.4 425.7c1.8 2.1 -3.2 -1.4 5.4 -2.9c2.6 -.6 .7 -.5 2.9 -.2M208.7 447.1c.1 .2 -3.5 -0 5.3 .6c.1 -2 -.9 2.3 1.2 -1.2M162.3 452c.6 -2.4 2.7 -.5 -5.8 2c.1 1.2 -3.4 -1.4 -.1 .6M203.6 428.3c-3.9 2.4 3.6 -2.8 -2.9 1.8c3.3 -1.3 1.9 -1.4 3.5 .4M215.5 416.6c-4 -3.4 -2.6 -1.6 1.5 1.8c3.1 2 -4.7 -3.9 -2.7 .6M205.3 408c2.4 2.4 -1.3 1.3 .4 1.3c.7 2.3 -3.8 -1.5 4.6 -2.8M156.3 444.3c4.9 -1.4 3 -1.8 -4 -.1c-4.8 1.6 4.2 -1.2 -5.2 .4M159 440.6c-2.8 -.6 4.6 -1.6 -3.9 -0c-1.5 .8 -.4 -.1 2.3 1.5M195.8 431.2c-3.6 1.6 -4.3 -1.4 -1.7 1.6c3.9 -2.8 2.4 3.3 4.3 -1.5M156.8 404.1c1.6 -.7 2.8 -3 1.2 -0c3.7 -.2 1.6 2.7 2.9 -2.8M150.7 422.8c1.4 .3 2.6 1.7 -1.1 -2.8c2.9 1.1 -1.9 -1.1 -4.2 -2.1M141.9 462.9c.9 -.8 .5 1.5 -5.4 -1.8c-2.5 2.9 -.6 -1.2 -1.5 -.8M206.2 379.6c2.7 .9 -3.8 -3.1 4.8 -.6c-3.1 -2.9 -3.8 1.8 -4.9 1.3M196.6 377.6c-2.1 -2.8 -2.2 -.4 -4.8 2.1c4.4 -1.4 4.8 -1.4 -3 2.5M192.9 442.2c-.7 -3.5 -4.4 -.6 -1.9 -0c-1.3 -2.4 -4.9 -1 4.4 -1.4M159.7 412.7c.9 -.6 -2.1 -1.4 -3 -1.8c-3.8 -2 3.6 1.6 5.4 -2.7M211.3 414.2c4.2 -3.8 2.6 -1.1 1.9 -.8c3 -1.8 3.5 .4 2.9 -1.6M151.4 446.8c1.1 -.7 3.3 -1.9 -2.9 -1.7c3.7 -3.4 -.8 .1 -1.8 -2M208.3 401.3c-.2 3.5 -1.1 1.8 4 -2.6c-2.1 3.6 .8 -2.7 -4.1 -2M191.2 438.3c-1.4 -2.6 4.6 -2.5 2.2 2c4.9 -1.4 -3.1 -2.3 -2.2 -2.7M147.3 378.8c-1.3 -1.3 -4.4 2.6 2.2 -1.5c-2.2 3.1 2.1 -3.4 -1.6 -2.2M142.2 378.4c4.2 -3.8 1.1 2.2 3.2 -2.3c4.2 -1.8 .5 3 0 -.9M151 390.4c-1.8 -3.5 4.5 -2.6 -4.2 -2.9c-3.5 2.6 .3 -3.5 1.1 1.6M154.5 461.1c4.3 3.8 -2.1 2.1 2.8 2.4c1.9 3.1 4.3 -2.4 -3.9 -.9M162 403.7c-2.1 .9 1.9 3.5 -5.1 .7c1.1 1.5 -.4 1.2 2.6 -2.4M197.4 397.3c-2.5 -3.4 .7 .1 -2.6 3c-4.5 -.2 -1.6 -1.8 1 -.2M203.7 434.5c-4.4 3.9 -3.5 -.6 -1.1 1.8c2.6 .4 4.7 -1.7 .5 -.8M154.1 386.1c-.1 3.9 .8 -4 4.8 -1c4.3 -.6 1.1 -1.8 1.7 .8M202.4 419.7c4.4 3 -2.2 -3 -1.7 1.7c-.4 .6 3.8 -.8 -4.9 -1.2M208.9 466.3c2.4 1.6 -1.6 1.7 3.9 -2.3c-1.1 .1 3.7 -1.8 -5 2.3M197.9 387.5c3.6 -2.6 -4.6 -.4 -2.3 2.9c4.4 -1 -4.1 -2.2 2.6 2.9M190.6 401.2c4 1.7 -2.8 -3.1 4.6 1.1c5 -3.1 -1.5 1.1 -2.6 2M142.6 413.9c2 -.7 .3 -1.2 0 -1.6c-1.7 -.1 -2.9 3.2 -4.5 -1.1M197.4 388.2c3 -1.3 -.9 1.5 5.1 -2.5c-3 -2.6 2.5 1.1 3.8 -3M194.9 440.1c1.1 -1 -4.7 -1.8 -4.7 2.6c4.6 .7 4.2 .6 -.4 1.6M199.7 393.8c4.4 -2.7 3.9 -2.6 -5.6 -2.4c4.7 -1 .2 .1 3.7 -1.7M155.2 395c2 2.7 -1.1 -.3 2.4 -1.1c-1.9 1.6 3.3 .4 -1.9 1.3M199 399.3c1.5 2.8 -1.2 .3 5.9 .2c-3.1 .5 -2.2 -3.7 -3 -2.9M205.8 374.4c-2.7 -3.1 -3 1.9 -.4 .4c2.8 -2.9 -2.8 .1 -2.5 -1.5M211 441.2c-1.8 -3.9 -3.1 .7 5.1 .3c2.6 -.2 2.2 -3.5 1.3 -1.1M208.8 388.6c1.5 3.6 1.2 -.3 -.9 2.1c-4.8 3.4 1.6 3 2.4 -.3M155.5 451.3c2.5 1.1 4 -3.1 6 1.7c4.1 3.7 -4.1 -.2 -3.5 .9M191.7 400.8c2.6 -1.6 -1.5 .4 -.6 -.4c0 -2.4 4.3 -1.5 -1.1 -1.3M154.3 439.5c-4.6 -2.4 -3.9 -.2 1.2 2.3c4.3 3.6 -4.2 .4 -.7 1.7M157.5 381.9c2.4 2.3 4.6 -2 -1.3 -2.9c-4.1 -2.2 -4.9 4 -.2 1.9M201.8 439.1c1.9 1.3 -3.2 -1.4 -.9 .4c4.8 -2.8 2.4 -.6 3.5 -1.6M209.9 395.9c4.6 3.7 -2.3 2.8 -1.5 2.5c-3.5 2.3 -3.1 -.9 3.9 -2.5M156.3 411.3c-4.4 -2.1 -4.9 .8 3.4 -1.3c-4.1 .7 4.2 -1.4 4.7 -2.3M150.3 376.3c-3.4 -2.8 -4.7 .9 5.4 -1.4c-5 2 -2.3 1.4 5.4 .3M136.9 465.5c-1.3 3.6 2.4 1 -.3 1c4.9 -3.9 1.3 3.1 -3.7 2M211.4 461c2.7 -3.5 -3.5 .5 -2.9 -.4c.2 -2.5 2.5 -.8 4.4 2.2M201.5 420.3c-4.6 -3.4 -2.8 3.4 -5.1 1.1c.6 .9 2.5 -2.3 -3.3 2.2M195 383.8c-.9 -3.7 -3.8 -1.5 .4 1.2c.7 .1 2.7 -3.8 -5.3 -.1M202.7 420.1c-1.8 2 -.1 1.1 -2.3 .3c-.8 -3.8 -4.4 -3 1.4 .3M192.5 374.5c.3 3.7 1.6 2.3 -2.7 -1.5c2.5 -2.1 1.9 3.2 -5.1 -1M162.7 463.6c3.8 3 1.6 -3.3 5.4 1.2c1 -.4 2.3 .2 .6 2.2M195.6 413.2c-.1 -3.7 2.1 -1.4 .7 -1.9c3.4 2.5 -2.4 -2.1 -2.6 1.7M204.2 382.4c4.2 3.9 3.6 1.5 -5.9 -2.5c-4.1 -.4 .8 .2 -1.3 1M160.9 375.4c-1.7 -3.1 -3.3 -3.4 4.1 -1.3c-1.2 -2.8 4.5 3.5 -3.7 -2M190.1 454.3c-4.8 -2.1 -3.7 -3.7 1.4 -2.7c-1.5 3.1 2.8 .8 3 1.8M194.5 422.7c2.8 -1.1 1.2 -3.5 -5.4 1.5c-4.5 3.9 -2.9 .1 -1.5 .6M158.2 461.8c-2 -3.5 -2.8 2.8 4.5 2c2.9 -3.8 3.1 -.7 5.7 -.7M141.5 424.6c-1.8 1.2 -.5 -1 -.2 -.1c-2.1 -1.9 4.3 1.5 -.5 .8M189.2 437.1c-4.2 -.6 3.6 -.6 -.3 3c.4 -.8 4 3.8 -3.1 .5M154 392.8c3.7 -3.9 2.2 -1.3 3.8 -2.4c-1 -3.4 -3.6 .1 2.6 -.8M150.9 452.2c-2.9 .5 -.1 2.2 -.5 .9c3.4 1.5 -.5 3.4 1.5 2M150.1 451.7c-.5 3.7 -4.4 3.4 5.1 1.7c-3.3 2.7 .2 .3 2.1 2.4M146.6 413.9c4.5 -2.9 -2.2 -3.1 -4.3 1.5c-3.4 3.8 3 -3.4 .2 1M159.2 414c4.7 -2.5 -3.9 .5 2.6 1.9c3.9 -1.9 -3.5 -2.4 -5.1 2.7M207.5 446.1c2.1 2.9 -1.5 -2.8 .5 2.8c-2.4 1.3 -2.4 -2 -5.4 2.5M155.2 449.9c-1.3 3.7 3.3 2.3 -4 -2.3c-2 -3.2 4.4 -.7 4.7 -.1M203.3 433.7c-2.7 -3.8 -1.7 2.3 2.6 1.6c2.1 .1 -4.7 -2.4 1.6 -.8M160.2 407.5c-2.9 .4 -4.6 -.3 5.9 1.4c-2.1 -1.8 2.1 3 -.8 -1.5M158.3 439c-2.4 -.7 2 1.2 2.9 .6c-4.4 -.7 2.9 -.6 -.1 -.4M149.8 462.9c-1.1 1.3 .7 .5 .2 1.5c1.4 2.4 -4.5 1.6 -4.3 1.4M209.2 375.9c.9 -2.6 2.2 -1.8 6 -2.2c4.1 1.2 -3.9 -3.3 -5.6 2.1M160.7 405.4c-4.5 -3.7 2.9 -1.8 -5.9 -.9c2.6 2.9 4.2 2 .9 2.9M208.4 373.4c3.5 -2.6 .6 -3.3 -4.5 -1.2c-.9 -3.2 3.3 3.1 -3.2 2.1M196 394.3c2.1 -3.8 3 -2.8 -3.4 2.9c4 3.3 -5 .3 3.4 .4M147.1 373.3c2.7 3.5 -1.5 1.9 -.3 -2.8c-3 -3 .2 2 -4.4 -1.8M160.8 419.3c-3.4 2.3 -1.2 -2.6 -4.4 1.6c3 2.2 3 2.6 -5.5 .1M205.5 459c-4.7 4 -4.1 3 4.3 1.3c2.5 .1 -1.4 -3.8 1.1 1.9M193.3 377.4c.3 1.7 -1.7 3 5.7 -1.4c-4.5 -2.9 -3 -1.6 5.6 2.7M156.4 372.9c1.4 -.2 -3.2 -3.1 .7 2.9c-3.6 -.6 -4.9 -1.6 4.3 .8M190.5 444.5c1.3 .3 -.3 -3.4 -5.5 -1.4c-1.3 -.4 -4.9 .7 -5.4 -1.5M154.8 396.9c3.7 -3.3 -2.7 -.9 -3.7 -1.6c-4.2 -3.9 2.3 -1.7 -3.1 -1.2M155.8 397.7c-2.1 2.4 3.9 3.9 2.5 .3c-1.3 -1 -.8 -3.9 -2.5 .7M157.8 441.4c.6 2.4 -2.8 1.3 -2.4 1.7c.2 -1.3 -1.9 .7 -1.1 -1.3M145.6 395.4c2.4 2.9 -.5 -2.6 -.9 -.6c3.2 1.7 -2.3 -.2 -1.8 -2.2M155.9 451c-4.4 -1.7 -3.3 1.6 -.3 -.9c-.4 -1.7 2.7 3.9 1.5 -1.4M150.8 391.4c3.6 -3 .1 -1.4 -3.6 -1.4c-.6 1.4 -1.8 1.3 1.4 1.1M159.3 456.1c2.8 -3.5 -2 -3.4 -.4 .2c1.4 .5 -1.5 -.9 -4.9 -2.4M209.6 419.9c4.9 -.6 1.4 -.1 -5 -.1c0 -2.7 1.8 -3.5 -3.9 .7M201 391.6c-2.1 -3.3 -1.4 -1.6 -4.6 1c-1.6 -1.8 3.8 -3 1.5 -1.7M143.2 401.1c.6 -3.4 3 2.5 3.2 -0c4.5 -2 2.5 2.4 .5 -2.6M192.4 463.2c-3.8 1.5 2.5 1.6 -5.6 1.5c-3.7 3.1 1.3 -3.5 0 .7M152.1 425.4c-4 -2.2 2.4 .4 -2 -2.6c-1.8 1.9 -1.9 3.5 -3.1 -2M153.3 410.5c-2.7 3.8 4.9 1.5 3 1.3c2.3 3.6 1.8 .7 -2.4 .9M193.7 384.3c.8 2.7 4.7 -2 -.9 -1.3c-4.1 2.3 -1.6 1.2 -4.6 -2M159 462.5c-1 -1.7 -2.4 1.1 .1 -1c-1.8 -1.7 -3.6 3.1 .3 2.6M201.5 450.7c-3.1 2.6 .5 -1.8 5.2 -1.1c-2.7 2.5 3.6 -.7 2.7 -.2M191.6 449.4c2.9 -1.3 4.1 -2.1 -2.4 2.2c-3 1.7 1.7 -1.5 -4.7 2.6M161.1 396.5c-2.4 -3.6 1.6 -1.3 1.5 -1.9c-1.3 -3.6 4.3 1 -1 .4M162 423.1c-1.4 .3 -.6 1.2 4.7 2.3c2 1.6 -.7 2.2 5.5 -2.3M151.6 441.3c3.4 .7 -3.7 -3.3 -0 1c-4.2 -2.3 -3.1 .2 3.1 0M157.3 460.3c4.5 -.8 -1.3 -1.2 -5.9 -2.7c-4 0 -3.3 -3.9 1.7 -1.1M133.9 395.8c2.7 -1.7 3.4 -1.4 -1.7 -.4c-2.8 3.4 3.7 -1.6 .8 .4M158.5 426.9c2.4 1.7 -.4 -1.9 -5.2 2.2c-1.4 1 -3.7 -3.4 3.5 2.2M155.2 382.2c1 -3.8 -4.7 -.3 2.6 -1c-3.7 -1.6 2.6 3.3 4.3 -.1M207.7 462.3c.9 .1 4.7 -1.3 -2.7 -2.9c.2 -3.2 -2.3 .6 -2.5 1M161.1 382.7c3.8 -2.8 2.6 -1.2 -4.2 -1.4c-4.9 .1 3.9 .8 -2.4 2.1M193.8 465.5c-2.1 2.2 -1.2 -2.9 5.8 1.4c-1.3 -1.3 -1.9 2 1.2 2.4M203.8 419.9c-2.6 -.4 -3.3 3.6 -.1 -.7c-2.4 3 4.5 -3.4 -5 .5M157.8 417.8c3.6 -.2 -1.2 -.6 -.2 1.8c.9 -2.5 -2 -3.2 -2.6 2.7M199.4 441.1c4.9 .3 4.2 -2.3 4 -2.9c-2 -1 -0 1.2 4.9 1.9M196.3 395.5c-1.1 1.5 -2.6 -2.9 4.9 -2.9c.2 1.2 2.9 -2 -.9 1.7M141.9 395.3c.4 3.2 -1.5 -.1 -.4 2.5c-1.1 2.5 3 3.3 1.7 -1.9M150.6 446.7c-.7 -1.9 4.8 .4 -4.1 -2.9c4.1 -.4 -4.8 -.4 4.6 .1M159.7 464c-3.7 -2 1.1 -1.6 3.9 2.4c3.7 .5 -3.2 .3 -3.4 -.6M144.8 442c-.7 -1.2 -.8 1.3 5.7 -3c4.4 3 .7 -3.7 -4.8 1.7M198.2 437.3c3.1 3.7 4.5 1.9 4.9 -2.3c4.2 -4 2.7 .1 1.2 1.1M200.7 407.5c3 .6 -.2 -.7 -5.6 2.9c-2.7 -2.8 1 -2.4 4.9 2.3M193.5 382.2c-3.7 1.9 -3.3 -2.9 1.3 -0c-.5 -.1 -4.1 .9 -4.6 .4M144.7 373.6c4.3 -1.1 5 2.9 -3.4 -2.3c-2.5 -1.1 -1.8 3.7 .9 1.5M150 455.7c-.9 3 -.2 .9 -5.6 1.3c3 2.3 3.8 -.5 5.5 -1.1M133.8 400.9c-1 3.9 2.4 1.2 5.8 .9c-3.6 -3.5 -4.8 3.3 4.6 2.5M160.1 408.5c-3.9 -1.8 -3.5 -.5 -2.4 -.1c-3.7 2.6 3.4 -3.3 4.8 -2.5M191.7 404c.9 -1.3 4.4 -1.2 -1.5 .9c-2.1 -1.8 -3.9 .1 2.1 -.5M188.8 379.9c1.7 -1.2 -3.4 2.9 -.8 2.8c2.4 -1.3 -.3 .4 1.1 1.9M145.7 451.8c-3.7 3.3 2.3 .1 1.9 -1.5c1 .2 2.7 -.1 -4.1 1M192.2 467c-4.8 -.7 1.7 1.3 .6 .6c2 1.4 -.6 .6 5.5 2.4M192.6 451c-3.9 -2.9 1 -1.4 -4.9 1.2c3.7 -1.9 4.4 -2.1 -3.9 1.2M161 374.1c-4.7 1.4 -4.9 2.8 .2 -.7c.4 1.3 -2.4 3.4 -3.9 -2.2M151.1 412.7c-1.5 2.4 4.1 -1.9 5.5 .7c-1.4 2.2 4.7 .3 5.7 2.5M201.4 377.5c-4.4 -3.5 -4.3 3.6 5.2 -2.3c2.5 -.5 -3.6 2.9 2.1 1.6M144.6 441.5c3.4 1.5 -4.7 -2.3 2.6 .7c2.9 .6 1.6 3.4 -4.8 -2.6M148.9 436.5c-4.6 3 -4.2 3.2 -4.7 -1.6c-1.2 1.9 .8 3.1 -2.5 -2.4M161.6 375.8c4.4 -1.4 -1.8 1.1 -4.1 1.5c-4.1 -3.2 -2.4 -3.5 1.2 .6M203.9 443.4c-.6 1.3 -1.1 2.5 .2 -.3c2.3 -2.1 3.2 -.5 -1.7 -.7M151.4 427.4c.3 -2.8 -3.2 1.7 -4.1 -1.7c-.1 2.3 -2 .7 -4.2 -2.6M145.8 408.2c-.7 -4 .9 -2 .6 2.8c2.5 2.6 -.6 -.9 5.4 3M156.8 444.2c1.8 1.3 -1 1.5 -5.5 -2.6c-4.9 -3.3 2.6 2.7 -3.5 1.5M192.7 375.1c3.9 3.6 -.3 -3.8 -1.2 -2.6c-3.2 3 -3 3 -6 2.9M196.7 429.2c-2.8 -2.8 -2.1 -2.7 2.8 -2.9c4.3 2.9 1.5 3.9 2.2 1.3M154.4 453.1c3 .4 -3.4 3 -5.2 2.2c2.3 2.4 -3.2 3.3 -1 2.5M157.6 372.3c0 .9 4.9 3.2 1.2 2.5c4.5 2.5 -3.5 -3.9 -1.3 -.2M199.6 372.6c-.4 -.3 -4.5 -3.2 -5.5 -2.4c-2.3 1 2.7 1.2 .1 -.3M151.2 411.3c4.7 1.6 .6 -2.7 5.7 -2c.8 -3.3 -3.6 -2.2 5.4 .9M203.1 433.8c.7 -3.6 -.5 -.5 3.4 -.8c3.1 2 -3.9 -3.1 2 -.4M193.1 391.7c-3.1 2.8 3.5 .6 5.9 2.8c2 1.8 2.3 1.4 -5.3 2.1M192.3 388.6c1.6 -1.1 -3.6 -3.6 .9 2c4.7 -2.9 -1.9 -1.4 .6 -2.4M190.4 466.5c1 .1 -.4 1.7 1.2 1.6c2.3 1.9 .8 3.7 -3.2 -.1M154.1 458.7c-4.6 2 .4 -3.4 -5.1 -2c3.6 -3.4 -.9 -0 -2.2 -2.9M141.9 448.7c-3.3 -2.5 .4 -2.9 1.2 -2.2c4.7 2.4 -3.9 -2.3 .7 -1.6M154.1 392.4c-1.9 2.9 .2 .4 .9 1.6c-4.5 -2.2 -3.5 1.2 1.6 -2.8M193.1 452.8c4.6 -2.3 2.5 -1.4 -4.9 -2.2c-1.6 -3.8 3.9 2.7 3.8 -2.3M149.9 408.5c-0 -3.6 3.4 3.2 3.8 -2.2c-4.3 1.5 3.2 -.5 4.2 .4M210.8 378c-3 .5 -3.8 -2.5 3.3 -.3c3.1 2.2 .6 0 -1.6 1.5M162.3 409.3c-.8 1.1 -2.9 .1 -.8 -.3c-1.3 2.6 -2.4 -3 0 -2.4M204.1 379.5c.9 2.9 3.1 -3.2 -5.4 -1.1c-1.1 1.6 2.8 -2.9 -1.6 .6M151.4 411.3c-4.3 -2.6 .7 3.3 -1.7 -1.3c-4 3.2 -3.8 -2.4 5.2 -1.6M193.7 444.1c-1.1 -2.3 2 -2.6 -2.8 -.5c-.6 3.6 4.4 1.5 -2.4 1.4M147.2 437.7c-4.3 -3.8 -4.4 3.6 .2 -.8c1.9 2.5 -4.1 .6 1.6 -.3M143.8 419.5c1.7 -.8 -1.2 -2.7 -3.3 -.8c-1.5 -2.4 4.4 -2.7 -4.9 -1.1M195.1 416.8c1 1.2 3.5 -2.2 -3.5 -2c3.8 .5 -4.5 2.4 -4 -1.5M198.9 444.5c-1.7 -3.4 1.2 -3 5.5 2.2c-.5 .9 2.5 1 4.4 2.8M189.8 453.7c1.6 -3.8 -4.3 -1 4.8 2.8c4.9 -.9 -.3 2.3 -1.4 1.4M150.8 466.9c3.4 -2.4 -3 -1.9 -.1 2.3c-4 -1.1 1.9 -2.3 -3.5 2.3M147.6 447.2c2.5 3.5 1 1.6 -1.8 .5c4.1 3 -1.5 1.5 -3.2 .5M144.8 418.1c-2.2 .7 4.1 2.5 -4.5 2.6c-1.2 -2.3 1.6 1 5 -1.3M200.2 436.5c1.4 -3.1 -3.8 -.4 -1.3 -2.1c-3.5 1.6 1.8 2.6 -3 -1.1M159.1 436.4c-.5 -4 4.2 .4 5.9 -1.4c3.1 -.9 .1 -.4 -2.8 -1.2M158.2 447.1c-3 -1 3 1 4.1 -1c-1.5 3 .2 -1 -.7 1.3M192.8 454.3c-.7 -3.3 3.9 -.4 1.6 -2c-3.3 -1.5 2.5 2.5 -.9 1.2M144.6 401.8c3.3 1.9 3.9 -2.4 -2.2 2.6c-3.6 1.1 -3.2 -3.8 -1.8 -.6M201 379.4c-3.6 3.4 2.8 3.7 -5.9 2.5c3.3 .7 4.7 3.7 4.8 -3M146.1 430.6c1.1 .6 -3.5 -3.9 -3.3 1.9c-4.3 -3.7 -1.4 1.4 -2.9 1.3M196.2 462.4c2.5 2.4 4.9 -.8 -5.2 .9c-1.2 3.1 4.7 0 5.8 -.4M143.5 423.6c4.9 1.1 -3.1 -2.8 -1.1 -.3c2.4 2.6 -1.2 1.1 -2.9 -2M160.2 467.9c-3.5 .9 -3.5 1.1 5.1 .5c-3.9 1.6 4.4 2.9 5.3 -2.4M197.6 379.5c-2.1 .5 -4.9 -2.7 -4 1.2c3.1 .3 4 -3.1 5 1.9M195.5 453.3c-2.9 -1.4 -3.2 1 .7 2.1c3 3.4 -.6 -1.7 2.1 -1.9M161.1 384.9c-3.7 3.5 4.4 3.3 3.2 -.8c1.9 -3.1 .3 -1.5 2 -2.5M204.1 467.9c3.8 -.5 3.7 -.2 -.4 -2.4c.3 1.5 -2.2 -3.9 -6 2.8M156.1 454.1c-3.5 .2 -1.1 3.8 1.4 1.3c-4.2 -1 -1.1 -3.8 3.4 2.6"/>
<path fill="none" stroke="#fff" stroke-width=".9" d="M199.7 411c-3.7 2.1 -3.6 3.9 -2.3 -2.7c-3.2 -3.7 -2.7 1.3 -1.6 -2.9M205.5 384.8c.5 -3.8 -.4 2.2 -2 -2.4c.6 3.8 2.2 -.3 1.1 -.9M146.9 451.9c1.1 3.4 .9 .3 2.8 .7c3.9 2.3 .4 1.6 4.7 -.5M151.5 376.2c2.1 3.4 4.6 -1 4.2 .9c-2.7 -3.5 1 -1.2 4.5 2.6M155.8 449.6c-0 -1.5 .3 0 -.4 -.2c.5 3.6 3.7 .3 -5.5 2.2M191.8 421.8c-2.7 2.4 -2.3 2.7 1.4 -1c-1.9 -1.8 -3.5 -2.1 -1.8 -1.3M201.7 424.8c-2.5 1.8 -.5 3.6 -5 -2c2.2 -2.2 -4.5 .4 4.9 -.2M191 467.5c-4.6 -2.5 -3.2 2.6 5.7 2.6c-2.9 -1.3 1.9 -2 4.9 -.6M194.4 461.1c4.3 -1.8 -4.4 3.8 1.2 -1.7c-.2 3.3 -4.1 .8 -5.8 -.7M191.7 412.6c.5 -.9 -.2 -.7 -3.1 -2.1c1.9 -2.5 -4.7 3.7 -4.1 -2.4M207.6 435.8c-3.4 2.1 -1 1.8 .4 -2.4c-2.7 -.8 -5 .3 -5 .1M145.9 377.8c-.8 -1.4 -3 2.8 -1.7 -1.4c2.7 -2.6 1.9 -1.6 1.1 -.5M199.8 462.1c-.2 2.3 1.4 -2.4 1.6 -1.5c1.5 .2 -4.3 -1.4 -4.3 -1.2M208 384.5c-2.1 -1.2 1.7 3.8 -.1 .4c4.5 1.7 -1.6 2.4 -1.9 -2.1M190.3 400.1c2.8 -.7 4.5 3.4 3.8 3c-2.6 -2.9 -1.4 .8 -3.2 1.5M200.7 456.1c-4.1 2.2 .4 3.6 3.1 -2.5c4.9 .4 4.2 -.7 -5.4 2.7M193.7 422.5c-2.8 -1.9 4 1.9 -1.3 -2.1c-3.5 -1.8 -3.9 -1.4 -5.5 2.7M195.1 382.9c3.1 -2.1 4.4 -.3 -1.7 .1c2.7 .7 -2.8 3.3 .8 -2.1M203 424.4c-2.9 -3.6 2.1 3 4.1 1.3c-3.2 -3.1 2.3 .7 -3 0M191.7 467.2c-2.6 -1.9 -4.6 -1.9 -.1 -.2c4.1 -1.7 -3.9 -.3 .2 -2.9M150.5 458.9c2.7 .6 -3.9 -2.3 -1.5 .7c-2.8 -3.4 4.7 2.5 1.9 1.3M157.9 465.4c-.7 -2.9 1.8 -.2 -2.7 -.9c2.1 -1.7 4 -2.7 3.5 -1.6M189.2 450.9c-1.6 -.6 -2.5 -1.4 5 1.3c-1.3 -3.8 -4 -1.1 -2.6 .9M206.5 376.4c-1.5 -1.8 3.2 -.2 2.9 1.3c3.4 -1.9 2.6 2 -5.7 -.1M156.8 395c1.7 1 0 1.9 -1.9 1c-.3 -1.2 -2.7 .5 4.6 -1.8M212.9 453.7c-3.8 -3.5 3.4 -2.3 -1.6 2c1.3 1.9 4.9 -2.3 -.5 -2.9M153.3 391.9c1.9 .1 -.3 -.5 -5.8 -2c-4.5 1.8 4.1 -2.8 3.8 -1.8M204.7 431.1c2.2 -2.9 -4.2 -.8 .8 2.7c3.5 1.4 3.5 -1 4.8 1.7M155.6 462.9c2.5 .5 4.1 3.4 -4.7 -2.4c4.6 -2.5 -1.7 .3 -2.9 2.9M153.9 411.3c3 3.9 2.7 .6 3.2 -2.8c4.4 1.2 -4.4 -.4 1.2 -1.5M191.4 410.8c1.1 1.6 -4.2 -2.7 -1.4 -1.7c2 -1.6 1.3 1.7 3.1 2M195.6 439.7c4.7 -3.7 -3.1 -3 -4.4 -1.9c-0 -.9 4.7 -3.8 4.1 .4M153.5 397.7c1.2 2.8 -2.6 2.9 5.2 -1.1c2 -2.8 -2.3 2.5 -5.4 1.6M159.6 375.4c-4.1 -.1 .6 2 -2.8 -2.8c-.8 2.9 -.5 -3.3 1.6 .7M148.7 396.1c3.2 3.9 1.3 -3.2 1.9 2.4c3.3 .2 -3.1 -2.8 1 -2.4M154.3 400.6c-3 1.9 -4.2 -2.9 1.2 -2.9c-3.7 3.3 1.5 -3.2 3.7 2.4M153.5 433.6c1.7 -2.9 -1 .9 2.9 .8c.9 .8 4.7 .7 -5.1 1.3M145.8 416.2c3.7 -2.2 2.7 -1.9 2.9 -.9c-2 .5 .5 -2.5 2.3 -0M194 459.6c4.9 .1 -.1 2 1.3 -.6c-2.7 .6 4.9 3.3 -2.2 -2.4M156.4 451.9c-4.3 -.5 -3.9 3.2 -4.9 2.8c.8 -.4 -1.3 1.8 .8 -.7M142.6 447.6c-.7 1.1 .3 2.8 -1.9 -.3c1.6 -1 4.2 .4 -1.4 2.7M157.5 435.3c-4 2.9 -.6 3.9 2.2 -2.3c-1.3 .6 -1.8 -2.7 4.7 -0M145.3 393.2c3.8 1.6 -4.4 1.7 -1.1 2.2c-1.5 2.4 -4.3 .7 -4.6 2.3M158.8 398.2c-1.2 3.8 -.2 -3.2 4.5 1.3c2.4 -2.7 .1 -1.7 2.7 -1.7M196.3 439.7c-.5 -.6 -2 2.3 -2.2 1.7c-3.2 1.8 3.6 1.9 -2.8 1.7M189.9 432.8c1.6 -2.1 -3.7 -.5 4.2 -1.1c2.9 -3.8 3.3 3 -5.7 .5M205.6 412.4c1.9 1.6 .3 -2.9 -2.8 2.7c.5 -2.9 2.7 .9 5 -1.5M210.7 432c4.8 .4 2.4 3.5 4.8 2.9c-3.6 -3.7 -3.7 1 2.6 -.8M156 396.1c2.2 -2.8 -.7 -3.5 -4 .8c3.5 -1.2 4.1 -.2 -1 1M162.4 451c-2.3 .6 -2 .3 -1.8 .2c-1.3 -.2 2.6 2.2 2.1 -.1M193.4 425.7c1.8 2.1 -3.2 -1.4 5.4 -2.9c2.6 -.6 .7 -.5 2.9 -.2M208.7 447.1c.1 .2 -3.5 -0 5.3 .6c.1 -2 -.9 2.3 1.2 -1.2M162.3 452c.6 -2.4 2.7 -.5 -5.8 2c.1 1.2 -3.4 -1.4 -.1 .6M203.6 428.3c-3.9 2.4 3.6 -2.8 -2.9 1.8c3.3 -1.3 1.9 -1.4 3.5 .4M215.5 416.6c-4 -3.4 -2.6 -1.6 1.5 1.8c3.1 2 -4.7 -3.9 -2.7 .6M205.3 408c2.4 2.4 -1.3 1.3 .4 1.3c.7 2.3 -3.8 -1.5 4.6 -2.8M156.3 444.3c4.9 -1.4 3 -1.8 -4 -.1c-4.8 1.6 4.2 -1.2 -5.2 .4M159 440.6c-2.8 -.6 4.6 -1.6 -3.9 -0c-1.5 .8 -.4 -.1 2.3 1.5M195.8 431.2c-3.6 1.6 -4.3 -1.4 -1.7 1.6c3.9 -2.8 2.4 3.3 4.3 -1.5M156.8 404.1c1.6 -.7 2.8 -3 1.2 -0c3.7 -.2 1.6 2.7 2.9 -2.8M150.7 422.8c1.4 .3 2.6 1.7 -1.1 -2.8c2.9 1.1 -1.9 -1.1 -4.2 -2.1M141.9 462.9c.9 -.8 .5 1.5 -5.4 -1.8c-2.5 2.9 -.6 -1.2 -1.5 -.8M206.2 379.6c2.7 .9 -3.8 -3.1 4.8 -.6c-3.1 -2.9 -3.8 1.8 -4.9 1.3M196.6 377.6c-2.1 -2.8 -2.2 -.4 -4.8 2.1c4.4 -1.4 4.8 -1.4 -3 2.5M192.9 442.2c-.7 -3.5 -4.4 -.6 -1.9 -0c-1.3 -2.4 -4.9 -1 4.4 -1.4M159.7 412.7c.9 -.6 -2.1 -1.4 -3 -1.8c-3.8 -2 3.6 1.6 5.4 -2.7M211.3 414.2c4.2 -3.8 2.6 -1.1 1.9 -.8c3 -1.8 3.5 .4 2.9 -1.6M151.4 446.8c1.1 -.7 3.3 -1.9 -2.9 -1.7c3.7 -3.4 -.8 .1 -1.8 -2M208.3 401.3c-.2 3.5 -1.1 1.8 4 -2.6c-2.1 3.6 .8 -2.7 -4.1 -2M191.2 438.3c-1.4 -2.6 4.6 -2.5 2.2 2c4.9 -1.4 -3.1 -2.3 -2.2 -2.7M147.3 378.8c-1.3 -1.3 -4.4 2.6 2.2 -1.5c-2.2 3.1 2.1 -3.4 -1.6 -2.2M142.2 378.4c4.2 -3.8 1.1 2.2 3.2 -2.3c4.2 -1.8 .5 3 0 -.9M151 390.4c-1.8 -3.5 4.5 -2.6 -4.2 -2.9c-3.5 2.6 .3 -3.5 1.1 1.6M154.5 461.1c4.3 3.8 -2.1 2.1 2.8 2.4c1.9 3.1 4.3 -2.4 -3.9 -.9M162 403.7c-2.1 .9 1.9 3.5 -5.1 .7c1.1 1.5 -.4 1.2 2.6 -2.4M197.4 397.3c-2.5 -3.4 .7 .1 -2.6 3c-4.5 -.2 -1.6 -1.8 1 -.2M203.7 434.5c-4.4 3.9 -3.5 -.6 -1.1 1.8c2.6 .4 4.7 -1.7 .5 -.8M154.1 386.1c-.1 3.9 .8 -4 4.8 -1c4.3 -.6 1.1 -1.8 1.7 .8M202.4 419.7c4.4 3 -2.2 -3 -1.7 1.7c-.4 .6 3.8 -.8 -4.9 -1.2M208.9 466.3c2.4 1.6 -1.6 1.7 3.9 -2.3c-1.1 .1 3.7 -1.8 -5 2.3M197.9 387.5c3.6 -2.6 -4.6 -.4 -2.3 2.9c4.4 -1 -4.1 -2.2 2.6 2.9M190.6 401.2c4 1.7 -2.8 -3.1 4.6 1.1c5 -3.1 -1.5 1.1 -2.6 2M142.6 413.9c2 -.7 .3 -1.2 0 -1.6c-1.7 -.1 -2.9 3.2 -4.5 -1.1M197.4 388.2c3 -1.3 -.9 1.5 5.1 -2.5c-3 -2.6 2.5 1.1 3.8 -3M194.9 440.1c1.1 -1 -4.7 -1.8 -4.7 2.6c4.6 .7 4.2 .6 -.4 1.6M199.7 393.8c4.4 -2.7 3.9 -2.6 -5.6 -2.4c4.7 -1 .2 .1 3.7 -1.7M155.2 395c2 2.7 -1.1 -.3 2.4 -1.1c-1.9 1.6 3.3 .4 -1.9 1.3M199 399.3c1.5 2.8 -1.2 .3 5.9 .2c-3.1 .5 -2.2 -3.7 -3 -2.9M205.8 374.4c-2.7 -3.1 -3 1.9 -.4 .4c2.8 -2.9 -2.8 .1 -2.5 -1.5M211 441.2c-1.8 -3.9 -3.1 .7 5.1 .3c2.6 -.2 2.2 -3.5 1.3 -1.1M208.8 388.6c1.5 3.6 1.2 -.3 -.9 2.1c-4.8 3.4 1.6 3 2.4 -.3M155.5 451.3c2.5 1.1 4 -3.1 6 1.7c4.1 3.7 -4.1 -.2 -3.5 .9M191.7 400.8c2.6 -1.6 -1.5 .4 -.6 -.4c0 -2.4 4.3 -1.5 -1.1 -1.3M154.3 439.5c-4.6 -2.4 -3.9 -.2 1.2 2.3c4.3 3.6 -4.2 .4 -.7 1.7M157.5 381.9c2.4 2.3 4.6 -2 -1.3 -2.9c-4.1 -2.2 -4.9 4 -.2 1.9M201.8 439.1c1.9 1.3 -3.2 -1.4 -.9 .4c4.8 -2.8 2.4 -.6 3.5 -1.6M209.9 395.9c4.6 3.7 -2.3 2.8 -1.5 2.5c-3.5 2.3 -3.1 -.9 3.9 -2.5M156.3 411.3c-4.4 -2.1 -4.9 .8 3.4 -1.3c-4.1 .7 4.2 -1.4 4.7 -2.3M150.3 376.3c-3.4 -2.8 -4.7 .9 5.4 -1.4c-5 2 -2.3 1.4 5.4 .3M136.9 465.5c-1.3 3.6 2.4 1 -.3 1c4.9 -3.9 1.3 3.1 -3.7 2M211.4 461c2.7 -3.5 -3.5 .5 -2.9 -.4c.2 -2.5 2.5 -.8 4.4 2.2M201.5 420.3c-4.6 -3.4 -2.8 3.4 -5.1 1.1c.6 .9 2.5 -2.3 -3.3 2.2M195 383.8c-.9 -3.7 -3.8 -1.5 .4 1.2c.7 .1 2.7 -3.8 -5.3 -.1M202.7 420.1c-1.8 2 -.1 1.1 -2.3 .3c-.8 -3.8 -4.4 -3 1.4 .3M192.5 374.5c.3 3.7 1.6 2.3 -2.7 -1.5c2.5 -2.1 1.9 3.2 -5.1 -1M162.7 463.6c3.8 3 1.6 -3.3 5.4 1.2c1 -.4 2.3 .2 .6 2.2M195.6 413.2c-.1 -3.7 2.1 -1.4 .7 -1.9c3.4 2.5 -2.4 -2.1 -2.6 1.7M204.2 382.4c4.2 3.9 3.6 1.5 -5.9 -2.5c-4.1 -.4 .8 .2 -1.3 1M160.9 375.4c-1.7 -3.1 -3.3 -3.4 4.1 -1.3c-1.2 -2.8 4.5 3.5 -3.7 -2M190.1 454.3c-4.8 -2.1 -3.7 -3.7 1.4 -2.7c-1.5 3.1 2.8 .8 3 1.8M194.5 422.7c2.8 -1.1 1.2 -3.5 -5.4 1.5c-4.5 3.9 -2.9 .1 -1.5 .6M158.2 461.8c-2 -3.5 -2.8 2.8 4.5 2c2.9 -3.8 3.1 -.7 5.7 -.7M141.5 424.6c-1.8 1.2 -.5 -1 -.2 -.1c-2.1 -1.9 4.3 1.5 -.5 .8M189.2 437.1c-4.2 -.6 3.6 -.6 -.3 3c.4 -.8 4 3.8 -3.1 .5M154 392.8c3.7 -3.9 2.2 -1.3 3.8 -2.4c-1 -3.4 -3.6 .1 2.6 -.8M150.9 452.2c-2.9 .5 -.1 2.2 -.5 .9c3.4 1.5 -.5 3.4 1.5 2M150.1 451.7c-.5 3.7 -4.4 3.4 5.1 1.7c-3.3 2.7 .2 .3 2.1 2.4M146.6 413.9c4.5 -2.9 -2.2 -3.1 -4.3 1.5c-3.4 3.8 3 -3.4 .2 1M159.2 414c4.7 -2.5 -3.9 .5 2.6 1.9c3.9 -1.9 -3.5 -2.4 -5.1 2.7M207.5 446.1c2.1 2.9 -1.5 -2.8 .5 2.8c-2.4 1.3 -2.4 -2 -5.4 2.5M155.2 449.9c-1.3 3.7 3.3 2.3 -4 -2.3c-2 -3.2 4.4 -.7 4.7 -.1M203.3 433.7c-2.7 -3.8 -1.7 2.3 2.6 1.6c2.1 .1 -4.7 -2.4 1.6 -.8M160.2 407.5c-2.9 .4 -4.6 -.3 5.9 1.4c-2.1 -1.8 2.1 3 -.8 -1.5M158.3 439c-2.4 -.7 2 1.2 2.9 .6c-4.4 -.7 2.9 -.6 -.1 -.4M149.8 462.9c-1.1 1.3 .7 .5 .2 1.5c1.4 2.4 -4.5 1.6 -4.3 1.4M209.2 375.9c.9 -2.6 2.2 -1.8 6 -2.2c4.1 1.2 -3.9 -3.3 -5.6 2.1M160.7 405.4c-4.5 -3.7 2.9 -1.8 -5.9 -.9c2.6 2.9 4.2 2 .9 2.9M208.4 373.4c3.5 -2.6 .6 -3.3 -4.5 -1.2c-.9 -3.2 3.3 3.1 -3.2 2.1M196 394.3c2.1 -3.8 3 -2.8 -3.4 2.9c4 3.3 -5 .3 3.4 .4M147.1 373.3c2.7 3.5 -1.5 1.9 -.3 -2.8c-3 -3 .2 2 -4.4 -1.8M160.8 419.3c-3.4 2.3 -1.2 -2.6 -4.4 1.6c3 2.2 3 2.6 -5.5 .1M205.5 459c-4.7 4 -4.1 3 4.3 1.3c2.5 .1 -1.4 -3.8 1.1 1.9M193.3 377.4c.3 1.7 -1.7 3 5.7 -1.4c-4.5 -2.9 -3 -1.6 5.6 2.7M156.4 372.9c1.4 -.2 -3.2 -3.1 .7 2.9c-3.6 -.6 -4.9 -1.6 4.3 .8M190.5 444.5c1.3 .3 -.3 -3.4 -5.5 -1.4c-1.3 -.4 -4.9 .7 -5.4 -1.5M154.8 396.9c3.7 -3.3 -2.7 -.9 -3.7 -1.6c-4.2 -3.9 2.3 -1.7 -3.1 -1.2M155.8 397.7c-2.1 2.4 3.9 3.9 2.5 .3c-1.3 -1 -.8 -3.9 -2.5 .7M157.8 441.4c.6 2.4 -2.8 1.3 -2.4 1.7c.2 -1.3 -1.9 .7 -1.1 -1.3M145.6 395.4c2.4 2.9 -.5 -2.6 -.9 -.6c3.2 1.7 -2.3 -.2 -1.8 -2.2M155.9 451c-4.4 -1.7 -3.3 1.6 -.3 -.9c-.4 -1.7 2.7 3.9 1.5 -1.4M150.8 391.4c3.6 -3 .1 -1.4 -3.6 -1.4c-.6 1.4 -1.8 1.3 1.4 1.1M159.3 456.1c2.8 -3.5 -2 -3.4 -.4 .2c1.4 .5 -1.5 -.9 -4.9 -2.4M209.6 419.9c4.9 -.6 1.4 -.1 -5 -.1c0 -2.7 1.8 -3.5 -3.9 .7M201 391.6c-2.1 -3.3 -1.4 -1.6 -4.6 1c-1.6 -1.8 3.8 -3 1.5 -1.7M143.2 401.1c.6 -3.4 3 2.5 3.2 -0c4.5 -2 2.5 2.4 .5 -2.6M192.4 463.2c-3.8 1.5 2.5 1.6 -5.6 1.5c-3.7 3.1 1.3 -3.5 0 .7M152.1 425.4c-4 -2.2 2.4 .4 -2 -2.6c-1.8 1.9 -1.9 3.5 -3.1 -2M153.3 410.5c-2.7 3.8 4.9 1.5 3 1.3c2.3 3.6 1.8 .7 -2.4 .9M193.7 384.3c.8 2.7 4.7 -2 -.9 -1.3c-4.1 2.3 -1.6 1.2 -4.6 -2M159 462.5c-1 -1.7 -2.4 1.1 .1 -1c-1.8 -1.7 -3.6 3.1 .3 2.6M201.5 450.7c-3.1 2.6 .5 -1.8 5.2 -1.1c-2.7 2.5 3.6 -.7 2.7 -.2M191.6 449.4c2.9 -1.3 4.1 -2.1 -2.4 2.2c-3 1.7 1.7 -1.5 -4.7 2.6M161.1 396.5c-2.4 -3.6 1.6 -1.3 1.5 -1.9c-1.3 -3.6 4.3 1 -1 .4M162 423.1c-1.4 .3 -.6 1.2 4.7 2.3c2 1.6 -.7 2.2 5.5 -2.3M151.6 441.3c3.4 .7 -3.7 -3.3 -0 1c-4.2 -2.3 -3.1 .2 3.1 0M157.3 460.3c4.5 -.8 -1.3 -1.2 -5.9 -2.7c-4 0 -3.3 -3.9 1.7 -1.1M133.9 395.8c2.7 -1.7 3.4 -1.4 -1.7 -.4c-2.8 3.4 3.7 -1.6 .8 .4M158.5 426.9c2.4 1.7 -.4 -1.9 -5.2 2.2c-1.4 1 -3.7 -3.4 3.5 2.2M155.2 382.2c1 -3.8 -4.7 -.3 2.6 -1c-3.7 -1.6 2.6 3.3 4.3 -.1M207.7 462.3c.9 .1 4.7 -1.3 -2.7 -2.9c.2 -3.2 -2.3 .6 -2.5 1M161.1 382.7c3.8 -2.8 2.6 -1.2 -4.2 -1.4c-4.9 .1 3.9 .8 -2.4 2.1M193.8 465.5c-2.1 2.2 -1.2 -2.9 5.8 1.4c-1.3 -1.3 -1.9 2 1.2 2.4M203.8 419.9c-2.6 -.4 -3.3 3.6 -.1 -.7c-2.4 3 4.5 -3.4 -5 .5M157.8 417.8c3.6 -.2 -1.2 -.6 -.2 1.8c.9 -2.5 -2 -3.2 -2.6 2.7M199.4 441.1c4.9 .3 4.2 -2.3 4 -2.9c-2 -1 -0 1.2 4.9 1.9M196.3 395.5c-1.1 1.5 -2.6 -2.9 4.9 -2.9c.2 1.2 2.9 -2 -.9 1.7M141.9 395.3c.4 3.2 -1.5 -.1 -.4 2.5c-1.1 2.5 3 3.3 1.7 -1.9M150.6 446.7c-.7 -1.9 4.8 .4 -4.1 -2.9c4.1 -.4 -4.8 -.4 4.6 .1M159.7 464c-3.7 -2 1.1 -1.6 3.9 2.4c3.7 .5 -3.2 .3 -3.4 -.6M144.8 442c-.7 -1.2 -.8 1.3 5.7 -3c4.4 3 .7 -3.7 -4.8 1.7M198.2 437.3c3.1 3.7 4.5 1.9 4.9 -2.3c4.2 -4 2.7 .1 1.2 1.1M200.7 407.5c3 .6 -.2 -.7 -5.6 2.9c-2.7 -2.8 1 -2.4 4.9 2.3M193.5 382.2c-3.7 1.9 -3.3 -2.9 1.3 -0c-.5 -.1 -4.1 .9 -4.6 .4M144.7 373.6c4.3 -1.1 5 2.9 -3.4 -2.3c-2.5 -1.1 -1.8 3.7 .9 1.5M150 455.7c-.9 3 -.2 .9 -5.6 1.3c3 2.3 3.8 -.5 5.5 -1.1M133.8 400.9c-1 3.9 2.4 1.2 5.8 .9c-3.6 -3.5 -4.8 3.3 4.6 2.5M160.1 408.5c-3.9 -1.8 -3.5 -.5 -2.4 -.1c-3.7 2.6 3.4 -3.3 4.8 -2.5M191.7 404c.9 -1.3 4.4 -1.2 -1.5 .9c-2.1 -1.8 -3.9 .1 2.1 -.5M188.8 379.9c1.7 -1.2 -3.4 2.9 -.8 2.8c2.4 -1.3 -.3 .4 1.1 1.9M145.7 451.8c-3.7 3.3 2.3 .1 1.9 -1.5c1 .2 2.7 -.1 -4.1 1M192.2 467c-4.8 -.7 1.7 1.3 .6 .6c2 1.4 -.6 .6 5.5 2.4M192.6 451c-3.9 -2.9 1 -1.4 -4.9 1.2c3.7 -1.9 4.4 -2.1 -3.9 1.2M161 374.1c-4.7 1.4 -4.9 2.8 .2 -.7c.4 1.3 -2.4 3.4 -3.9 -2.2M151.1 412.7c-1.5 2.4 4.1 -1.9 5.5 .7c-1.4 2.2 4.7 .3 5.7 2.5M201.4 377.5c-4.4 -3.5 -4.3 3.6 5.2 -2.3c2.5 -.5 -3.6 2.9 2.1 1.6M144.6 441.5c3.4 1.5 -4.7 -2.3 2.6 .7c2.9 .6 1.6 3.4 -4.8 -2.6M148.9 436.5c-4.6 3 -4.2 3.2 -4.7 -1.6c-1.2 1.9 .8 3.1 -2.5 -2.4M161.6 375.8c4.4 -1.4 -1.8 1.1 -4.1 1.5c-4.1 -3.2 -2.4 -3.5 1.2 .6M203.9 443.4c-.6 1.3 -1.1 2.5 .2 -.3c2.3 -2.1 3.2 -.5 -1.7 -.7M151.4 427.4c.3 -2.8 -3.2 1.7 -4.1 -1.7c-.1 2.3 -2 .7 -4.2 -2.6M145.8 408.2c-.7 -4 .9 -2 .6 2.8c2.5 2.6 -.6 -.9 5.4 3M156.8 444.2c1.8 1.3 -1 1.5 -5.5 -2.6c-4.9 -3.3 2.6 2.7 -3.5 1.5M192.7 375.1c3.9 3.6 -.3 -3.8 -1.2 -2.6c-3.2 3 -3 3 -6 2.9M196.7 429.2c-2.8 -2.8 -2.1 -2.7 2.8 -2.9c4.3 2.9 1.5 3.9 2.2 1.3M154.4 453.1c3 .4 -3.4 3 -5.2 2.2c2.3 2.4 -3.2 3.3 -1 2.5M157.6 372.3c0 .9 4.9 3.2 1.2 2.5c4.5 2.5 -3.5 -3.9 -1.3 -.2M199.6 372.6c-.4 -.3 -4.5 -3.2 -5.5 -2.4c-2.3 1 2.7 1.2 .1 -.3M151.2 411.3c4.7 1.6 .6 -2.7 5.7 -2c.8 -3.3 -3.6 -2.2 5.4 .9M203.1 433.8c.7 -3.6 -.5 -.5 3.4 -.8c3.1 2 -3.9 -3.1 2 -.4M193.1 391.7c-3.1 2.8 3.5 .6 5.9 2.8c2 1.8 2.3 1.4 -5.3 2.1M192.3 388.6c1.6 -1.1 -3.6 -3.6 .9 2c4.7 -2.9 -1.9 -1.4 .6 -2.4M190.4 466.5c1 .1 -.4 1.7 1.2 1.6c2.3 1.9 .8 3.7 -3.2 -.1M154.1 458.7c-4.6 2 .4 -3.4 -5.1 -2c3.6 -3.4 -.9 -0 -2.2 -2.9M141.9 448.7c-3.3 -2.5 .4 -2.9 1.2 -2.2c4.7 2.4 -3.9 -2.3 .7 -1.6M154.1 392.4c-1.9 2.9 .2 .4 .9 1.6c-4.5 -2.2 -3.5 1.2 1.6 -2.8M193.1 452.8c4.6 -2.3 2.5 -1.4 -4.9 -2.2c-1.6 -3.8 3.9 2.7 3.8 -2.3M149.9 408.5c-0 -3.6 3.4 3.2 3.8 -2.2c-4.3 1.5 3.2 -.5 4.2 .4M210.8 378c-3 .5 -3.8 -2.5 3.3 -.3c3.1 2.2 .6 0 -1.6 1.5M162.3 409.3c-.8 1.1 -2.9 .1 -.8 -.3c-1.3 2.6 -2.4 -3 0 -2.4M204.1 379.5c.9 2.9 3.1 -3.2 -5.4 -1.1c-1.1 1.6 2.8 -2.9 -1.6 .6M151.4 411.3c-4.3 -2.6 .7 3.3 -1.7 -1.3c-4 3.2 -3.8 -2.4 5.2 -1.6M193.7 444.1c-1.1 -2.3 2 -2.6 -2.8 -.5c-.6 3.6 4.4 1.5 -2.4 1.4M147.2 437.7c-4.3 -3.8 -4.4 3.6 .2 -.8c1.9 2.5 -4.1 .6 1.6 -.3M143.8 419.5c1.7 -.8 -1.2 -2.7 -3.3 -.8c-1.5 -2.4 4.4 -2.7 -4.9 -1.1M195.1 416.8c1 1.2 3.5 -2.2 -3.5 -2c3.8 .5 -4.5 2.4 -4 -1.5M198.9 444.5c-1.7 -3.4 1.2 -3 5.5 2.2c-.5 .9 2.5 1 4.4 2.8M189.8 453.7c1.6 -3.8 -4.3 -1 4.8 2.8c4.9 -.9 -.3 2.3 -1.4 1.4M150.8 466.9c3.4 -2.4 -3 -1.9 -.1 2.3c-4 -1.1 1.9 -2.3 -3.5 2.3M147.6 447.2c2.5 3.5 1 1.6 -1.8 .5c4.1 3 -1.5 1.5 -3.2 .5M144.8 418.1c-2.2 .7 4.1 2.5 -4.5 2.6c-1.2 -2.3 1.6 1 5 -1.3M200.2 436.5c1.4 -3.1 -3.8 -.4 -1.3 -2.1c-3.5 1.6 1.8 2.6 -3 -1.1M159.1 436.4c-.5 -4 4.2 .4 5.9 -1.4c3.1 -.9 .1 -.4 -2.8 -1.2M158.2 447.1c-3 -1 3 1 4.1 -1c-1.5 3 .2 -1 -.7 1.3M192.8 454.3c-.7 -3.3 3.9 -.4 1.6 -2c-3.3 -1.5 2.5 2.5 -.9 1.2M144.6 401.8c3.3 1.9 3.9 -2.4 -2.2 2.6c-3.6 1.1 -3.2 -3.8 -1.8 -.6M201 379.4c-3.6 3.4 2.8 3.7 -5.9 2.5c3.3 .7 4.7 3.7 4.8 -3M146.1 430.6c1.1 .6 -3.5 -3.9 -3.3 1.9c-4.3 -3.7 -1.4 1.4 -2.9 1.3M196.2 462.4c2.5 2.4 4.9 -.8 -5.2 .9c-1.2 3.1 4.7 0 5.8 -.4M143.5 423.6c4.9 1.1 -3.1 -2.8 -1.1 -.3c2.4 2.6 -1.2 1.1 -2.9 -2M160.2 467.9c-3.5 .9 -3.5 1.1 5.1 .5c-3.9 1.6 4.4 2.9 5.3 -2.4M197.6 379.5c-2.1 .5 -4.9 -2.7 -4 1.2c3.1 .3 4 -3.1 5 1.9M195.5 453.3c-2.9 -1.4 -3.2 1 .7 2.1c3 3.4 -.6 -1.7 2.1 -1.9M161.1 384.9c-3.7 3.5 4.4 3.3 3.2 -.8c1.9 -3.1 .3 -1.5 2 -2.5M204.1 467.9c3.8 -.5 3.7 -.2 -.4 -2.4c.3 1.5 -2.2 -3.9 -6 2.8M156.1 454.1c-3.5 .2 -1.1 3.8 1.4 1.3c-4.2 -1 -1.1 -3.8 3.4 2.6"/>
<path fill="none" stroke="#2f9aaa" stroke-width="1.3" d="M195.2 431.6c3.6 .3 4.1 1.7 5.2 -2c3.7 2 4.4 -3.7 -4.8 -3M197.9 372.8c-1.9 3.3 1 -2.1 -4.9 1.3c-1 -2.9 4.5 -2.7 3.9 .9M198.6 431.2c-3.8 -2.3 -.3 -3.5 -2.4 .7c-4.6 2 .3 2.5 2.8 -.2M145.1 395.1c3.4 3.9 1.6 -.4 -4.4 2.5c-1.5 2.9 -4.7 -.8 3.6 -2.1M155 395.2c-3.7 -.7 .2 2.1 2 1.8c-1.2 2.7 -4 3 -4.1 -.7M151.7 440.5c2.7 .3 1.2 -3.2 -5 -.5c4.5 -1.8 -2.9 3.4 -6 .5M157.4 438.6c.9 -2 -1.3 -.5 -.7 -1.3c.6 .3 -2.5 -2.5 5.2 .5M155.3 436.5c-.6 -2.8 4.8 -3.1 -1.1 3c-3.6 .6 4.5 -1.4 -3 -2.9M150.1 452c1.3 -3.8 -4.2 -.9 -1.9 2.6c2.8 3.9 1.7 -1.6 -3.5 -.4M153.2 441.1c-.5 -.2 -3.5 2.1 -4 -.3c-4.2 .4 5 -2.8 3.4 2.9M197.2 454.6c-2.4 -3.1 -0 2.5 -5.1 -1.5c2.3 -1.5 -2.3 4 -2.9 -.3M205.4 391.8c4.2 -1.7 1.5 2.1 4.7 1.6c3.8 -3.6 2.6 .2 -.6 -1.2M158.5 413.8c2.8 -.9 1.9 -3.1 -3.5 1.7c3.6 -3.1 2.1 1.2 -2.1 .4M196.4 433.3c1.8 .7 -.8 3.9 -.7 -.6c-2 1.4 -2.2 -.3 -3.7 -.5M200.2 392.9c2.6 1.4 4.9 1.7 -2.8 -2.2c1.4 3.8 -4 -1.6 -5.5 -2.1"/>
<path fill="none" stroke="#8adce6" stroke-width=".5" d="M195.2 431.6c3.6 .3 4.1 1.7 5.2 -2c3.7 2 4.4 -3.7 -4.8 -3M197.9 372.8c-1.9 3.3 1 -2.1 -4.9 1.3c-1 -2.9 4.5 -2.7 3.9 .9M198.6 431.2c-3.8 -2.3 -.3 -3.5 -2.4 .7c-4.6 2 .3 2.5 2.8 -.2M145.1 395.1c3.4 3.9 1.6 -.4 -4.4 2.5c-1.5 2.9 -4.7 -.8 3.6 -2.1M155 395.2c-3.7 -.7 .2 2.1 2 1.8c-1.2 2.7 -4 3 -4.1 -.7M151.7 440.5c2.7 .3 1.2 -3.2 -5 -.5c4.5 -1.8 -2.9 3.4 -6 .5M157.4 438.6c.9 -2 -1.3 -.5 -.7 -1.3c.6 .3 -2.5 -2.5 5.2 .5M155.3 436.5c-.6 -2.8 4.8 -3.1 -1.1 3c-3.6 .6 4.5 -1.4 -3 -2.9M150.1 452c1.3 -3.8 -4.2 -.9 -1.9 2.6c2.8 3.9 1.7 -1.6 -3.5 -.4M153.2 441.1c-.5 -.2 -3.5 2.1 -4 -.3c-4.2 .4 5 -2.8 3.4 2.9M197.2 454.6c-2.4 -3.1 -0 2.5 -5.1 -1.5c2.3 -1.5 -2.3 4 -2.9 -.3M205.4 391.8c4.2 -1.7 1.5 2.1 4.7 1.6c3.8 -3.6 2.6 .2 -.6 -1.2M158.5 413.8c2.8 -.9 1.9 -3.1 -3.5 1.7c3.6 -3.1 2.1 1.2 -2.1 .4M196.4 433.3c1.8 .7 -.8 3.9 -.7 -.6c-2 1.4 -2.2 -.3 -3.7 -.5M200.2 392.9c2.6 1.4 4.9 1.7 -2.8 -2.2c1.4 3.8 -4 -1.6 -5.5 -2.1"/>
<path fill="#2230a2" d="M166.5 370.5L188.5 372L191.9 375L193 378L189.7 381L191.9 384L193.8 387L191.3 390L192.6 393L192.2 396L193.6 399L191.1 402L191.9 405L190.7 408L191 411L193.2 414L192.5 417L192.4 420L191 423L192 426L191 429L190.5 432L191.2 435L190.7 438L192 441L190 444L189.9 447L188.7 450L190.2 453L189.8 456L190 459L193.7 462L194.2 465L192.3 468L192 471L159.7 471L161 468L157.5 465L159.6 462L158.9 459L159.1 456L159.9 453L162.1 450L160.2 447L159 444L156.4 441L158.7 438L158.9 435L157.1 432L159.1 429L160.6 426L158.3 423L160 420L160.7 417L159.1 414L159.3 411L159.8 408L158.5 405L159.4 402L159 399L159.1 396L157.2 393L159.7 390L159.9 387L160.1 384L160.4 381L161.4 378L158.9 375L163.5 372Z"/>
<path fill="none" stroke="#161e88" stroke-width="4.6" stroke-linecap="round" d="M180.6 427.7h0M160.7 412.8h0M168.3 390h0M202.4 428.6h0M176.7 395h0M187.6 379.8h0M167.6 438.2h0M179.3 390.4h0M178.5 384.3h0M178.6 385.9h0M186 459.6h0M162.5 405.9h0M193.8 460.8h0M181.8 445.6h0M160.2 380.3h0M191.2 373.9h0M164.3 442.7h0M193.9 399.4h0M159.5 423.1h0M192 376.2h0M166.8 423.8h0M150.6 375.9h0M196.1 459.9h0M182.9 396h0M184.3 443.8h0M161.6 465h0M194.4 435.1h0M156.8 385.2h0M201.4 387h0M182.3 383.9h0M194.7 409.3h0M160.5 454.8h0M169.1 454.7h0M163.6 465.2h0M160.7 409.4h0M192.9 378.9h0M194.2 399.2h0M160.2 432.7h0M166.8 420.3h0M165.2 414.1h0M185.7 410.6h0M181 385.1h0M175.8 412.6h0M164.9 459.6h0M197.7 467.1h0M171.8 402.8h0M165 398.9h0M180.8 379.8h0M183.2 394.8h0M170.7 458.9h0M190.4 443.3h0M183.2 444.8h0M159.6 383.5h0M160.7 390.1h0M192.9 394.6h0M154 415h0M188.2 388.6h0M154.4 444.5h0M192.4 388.9h0M164.5 384.7h0M176.1 422.9h0M192.7 419.5h0M162.6 422.1h0M161.2 418.5h0M177.2 465.3h0M171 399.9h0M166.8 454.4h0M158.8 419h0M160.5 399.8h0M182.5 410.6h0M155.6 433.4h0M177.2 380.2h0M158.5 436.2h0M179.7 456.4h0M148.9 423.7h0M160.9 418.1h0M153.1 450.2h0M182.2 418.2h0M190.2 393.3h0M158.1 378.6h0M185.9 432.3h0M163.9 376.9h0M167.2 462h0M181.2 438.6h0M171.9 384.9h0M191.2 400.1h0M198.9 454.2h0M160.4 399.6h0M156 445.6h0M167.3 446h0M177.6 380.7h0M189.3 384.5h0M175.1 450.9h0M174.1 450.7h0M192 400.5h0M192.4 376.2h0M181.2 377.8h0M165.5 395.2h0M162.7 392.9h0M164.7 461.4h0M165.9 413.7h0M176.9 419.5h0M189.6 382.2h0M158.6 383.1h0M184.2 424.1h0M196 405.1h0M157.4 446.7h0M168.2 402.6h0M187.5 406.9h0M158.4 413.6h0M186.4 455.5h0M170.6 408.7h0M193.8 419.4h0M159.6 420.9h0M162.4 463.4h0M191.2 446.1h0M174.8 437.5h0M165.6 456.9h0M157.3 397.5h0M191.7 415.8h0M190.6 399.9h0M186.6 405.8h0M193.4 440h0M176 380.8h0M162.3 423.7h0M171.5 467.6h0M191.1 382.8h0M188 400.3h0M198.1 380.9h0M165.3 401.3h0M174.1 441h0M173.1 435.2h0M191.7 420.9h0M159.7 441.8h0M176.6 423.1h0M160.7 450.3h0M168.9 408.9h0M191.5 372.2h0M165.6 428.9h0M171.3 388h0M157.7 377.3h0M192.4 386.9h0M173.5 451.8h0M170.7 430h0M180.8 447.8h0M151.5 442.8h0M160.2 455.4h0M159.8 384.2h0M196.9 386.3h0M189.8 436.4h0M164.9 424.5h0M163.1 376.9h0M154.7 417.9h0M161.5 417.8h0M172.7 458.1h0M193.8 455.7h0M176.2 464.7h0M170 414.9h0M172.3 430.9h0M187.1 391.7h0M172.5 426.4h0M186.3 423h0M199 441.7h0M182.2 400.9h0M154.9 445.3h0M191 452.3h0M163 424.1h0M181.3 379.4h0M177.9 466.4h0M183.3 378h0M181.9 377.7h0M170.3 425.4h0M191.8 405.8h0M159.4 447.1h0M175.7 406.5h0M189.9 442.6h0M191.6 372h0M177.4 462.8h0M168.5 405.8h0M184.2 437.8h0M187.3 420h0M174.7 440.5h0M193.4 388.4h0M171.1 452.6h0M184.4 431.5h0M173.7 374h0M156 456.6h0M193.8 467h0M178.7 428.5h0M154 386.1h0M160 380h0M168.9 433.3h0M188.9 385.1h0M185.1 452.6h0M200.4 373.1h0M169.6 393.7h0M177.6 439.7h0M172.5 464.8h0M172 374.1h0M186.3 420.7h0M162 387.8h0M161 460.3h0M167.4 373.7h0M182.1 458.6h0M172.2 437.5h0M180.6 382h0M174.5 441.6h0M179.6 460.8h0M187 413.4h0M189.5 442h0M165.1 392.3h0M174.3 445.9h0M162.3 397.9h0M168.4 450.5h0M198.6 450.3h0M170.9 440.3h0M194.9 380.4h0M181.6 456.5h0M186.7 405.8h0M190.6 445.3h0M165.4 385.4h0M187 453.1h0M167.6 401.1h0M190.5 427.7h0M181.5 393h0M172.4 425.4h0M176.7 374.8h0M188.2 392.9h0M161 417.3h0"/>
<path fill="none" stroke="#5868cc" stroke-width="2.4" stroke-linecap="round" d="M176.7 395h0M187.6 379.8h0M167.6 438.2h0M179.3 390.4h0M178.5 384.3h0M162.5 405.9h0M193.8 460.8h0M181.8 445.6h0M193.9 399.4h0M196.1 459.9h0M182.3 383.9h0M160.5 454.8h0M194.2 399.2h0M160.2 432.7h0M181 385.1h0M175.8 412.6h0M164.9 459.6h0M165 398.9h0M180.8 379.8h0M190.4 443.3h0M160.7 390.1h0M154 415h0M188.2 388.6h0M176.1 422.9h0M162.6 422.1h0M171 399.9h0M160.5 399.8h0M155.6 433.4h0M177.2 380.2h0M182.2 418.2h0M191.2 400.1h0M177.6 380.7h0M165.5 395.2h0M176.9 419.5h0M189.6 382.2h0M184.2 424.1h0M196 405.1h0M157.4 446.7h0M186.4 455.5h0M174.8 437.5h0M165.6 456.9h0M186.6 405.8h0M191.1 382.8h0M188 400.3h0M198.1 380.9h0M176.6 423.1h0M168.9 408.9h0M171.3 388h0M151.5 442.8h0M163.1 376.9h0M161.5 417.8h0M170 414.9h0M187.1 391.7h0M181.3 379.4h0M170.3 425.4h0M191.8 405.8h0M159.4 447.1h0M175.7 406.5h0M189.9 442.6h0M168.5 405.8h0M184.2 437.8h0M171.1 452.6h0M173.7 374h0M156 456.6h0M188.9 385.1h0M172.2 437.5h0M180.6 382h0M165.1 392.3h0M168.4 450.5h0M194.9 380.4h0M181.6 456.5h0M190.6 445.3h0M165.4 385.4h0M167.6 401.1h0M161 417.3h0"/>
<path fill="none" stroke="#dfe2f6" stroke-width="2.1" stroke-linecap="round" d="M180.6 427.7h0M159.5 423.1h0M150.6 375.9h0M156.8 385.2h0M169.1 454.7h0M192.9 378.9h0M166.8 420.3h0M171.8 402.8h0M154.4 444.5h0M192.4 376.2h0M164.7 461.4h0M187.5 406.9h0M193.8 419.4h0M193.4 440h0M171.5 467.6h0M173.1 435.2h0M157.7 377.3h0M180.8 447.8h0M160.2 455.4h0M159.8 384.2h0M164.9 424.5h0M193.8 455.7h0M176.2 464.7h0M187.3 420h0M174.7 440.5h0M178.7 428.5h0M185.1 452.6h0M169.6 393.7h0M172 374.1h0M186.3 420.7h0M162 387.8h0M189.5 442h0M198.6 450.3h0M187 453.1h0M190.5 427.7h0M181.5 393h0"/>
<path fill="none" stroke="#ffffff" stroke-width=".8" stroke-linecap="round" d="M186.3 373.3l1.5 .7M169.2 439.1l.2 1.3M182.8 403.3l-.6 1.2M161.7 383.5l.9 1.2M169 387.5l2 1.4M163.8 381.1l1.4 1.3M161.8 454.8l1.9 2.4M184 387.4l-.8 1.8M161.8 415.2l-2.6 .8M181.3 446.2l1.5 .1M184.2 390.7l.8 1M164.1 404.2l-1.3 .9M184.4 463.6l.2 2M182.5 433l-.6 1.5M185.6 442.6l-1.2 .8M168.5 443.1l-.7 2.6M177.1 433.2l-1.8 1.1M177.3 396.3l-.8 1.6M171.4 405.7l-.4 1.8M162.5 391.2l-2.1 .2M189.8 433.2l-.9 2.2M178.6 405.8l-1.2 .6M162.6 386.4l-1 1.2M181.3 443.2l1.8 2.6M163.2 446.2l2.7 .2M172.2 405.7l-.8 2.6M169.4 384.3l2.1 .8M187.5 379.6l-1.3 2.8M172.6 453.4l.4 1.3M162.3 454.6l-1.3 1.1M184 375.7l-0 1.8M170.4 399.8l.8 2.1M190.7 393.3l-1.4 .6M162.5 441.7l-.8 1M171.7 428.9l-1 2.8M183.5 422.4l.8 2.5M165.1 442.7l.6 2M179 378.4l-2.9 .3M184.2 463.1l0 1.2M168.6 438.6l-.8 2.8M162.5 409.8l-2.6 1.8M176.8 399.4l1.2 .7M164.6 409.6l-.3 1.7M182.4 454.1l-.5 2.6M177.8 373.6l-.2 3M173.8 430l-2.8 .9M188 435.9l-2.8 1M181.4 422.6l-1.6 1.7M189.9 446.6l-2.2 1M180 423l.8 1.2M165 432.7l-.2 1.7M170.9 408.8l1.9 2.3M191 421.6l-.3 2.3M178.4 387.6l-1.4 .6M175.2 401.6l-.4 1.7M168.2 402.4l-1.8 1.3M180.1 377l-.4 1.3M172.6 434.5l1.9 2.2M171.9 445.2l-1.8 .4M187 456.5l-1.1 1.8M166.7 425.8l1.4 2.3M177.1 416.3l.9 1.8M184.5 426.1l.7 1.1M180.9 409.4l1.1 1.7M176.5 394.7l.3 2.3M163.5 392.2l-.3 1.4M177.4 389.3l-2.8 .7M187.7 426.5l-.3 2.8M179.6 373.1l2.1 1.1"/>
<path fill="none" stroke="#c4c8ec" stroke-width=".8" stroke-linecap="round" d="M188 373.2l-1.4 2.3M174.2 395.7l-.4 3M185.3 451l2.2 .5M182.7 465.6l-.9 .9M174.8 423.3l-1.5 2.7M178.6 397.3l-1.4 .7M162.5 425.8l1.5 1.8M172.9 444.5l.9 1.5M171.7 441.4l2.6 1.2M189.7 377.8l.7 2.9M178.5 405l-1.8 1.6M181.3 416.8l-2 1.5M189.8 410.3l1 1.4M181.2 407.4l0 1.8M186.3 441.1l-2.4 .7M177.7 460.6l-1.4 .7M161.8 466.8l1.1 2.6M166.4 412.5l-.9 1.1M169.5 438l-2.5 1.4M172.8 420.1l-1.7 2.1M171.9 425.1l-2.8 .4M167.2 467l-.6 2M176.3 380.6l-2.5 0M171.5 416.8l-1.7 .1M187.4 399.6l-1.1 3M163.4 456.3l-2.4 .8M172.3 396.2l2 1.5M188.4 394.9l-1.8 .9M191.3 456.8l-1.6 2.2M179.4 383.9l.9 1.2M179.3 447.8l-.2 1.9M167.6 415.9l-1.8 1.4M173.7 459l2.2 1.4M178.1 373.8l1.2 1.5M173.9 416.8l.1 2.6M185.8 426.3l2.2 .7M181.3 448.8l1 1.1M171.9 399.3l1.9 .6M162.1 444l1.4 2.1M172.8 391.7l-1.2 1.3M165.3 425.3l-2.8 .9M164.1 378.5l-1.5 1.4M188.4 435.8l1 .7M187.9 442l1.2 .3M170.1 404.2l1.5 2.4M170.8 388.6l-1.2 .9M174.7 398.6l1.8 2M189.1 449.8l1.4 2.8M178.9 428.5l2.1 1.5M169.5 396.4l-1.8 .6M172.8 434.3l.3 1.2M168.2 402.4l-.8 2.5M173.9 447.2l-.3 1.9M178.2 433.1l.2 2.7M191.3 404.3l-.7 1.8M189.7 395l2.4 1.3M190.9 379.5l2.8 1.4"/>
<path fill="none" stroke="#46420a" stroke-width="2.3" stroke-linecap="round" d="M161.1 372.3l-4.9 .9M160.8 376.3l-5.6 -3.4M165.7 377.8l-4.6 .2M191.1 381.5l4.9 -2.4M198.8 378.2l4.2 1M203.9 383.9l5.3 -1.5M203.8 384.4l5.1 -1.7M162.1 389l-6.8 1.1M159 396.6l-4.3 -1.7M151.5 393.1l-5.5 0M160.5 403.1l-4.7 -.6M194 402.9l4.8 .3M198.4 404.9l4.8 -2.8M196.3 404.6l6.6 .8M194.1 411.3l6 -3.5M190.4 411l4.3 -1.4M190.5 413.9l5.5 -.9M194.4 413.5l6.9 .8M147.6 419.9l-4.3 -1.1M204.8 418l4.6 -.1M157.1 422.9l-4.6 -.1M149.6 425l-6.3 -2.9M203.1 427.1l4.1 .4M154.3 432.7l-4.3 -.5M155 438.4l-5.3 -1.3M195.3 438.5l6.5 -.1M187.3 436.9l4.7 -.4M187.8 436.5l5.7 -.9M165.1 442.9l-6.8 .3M196.4 441.5l5.6 1.1M195.6 444.4l5.4 1.4M158.3 452.1l-4.5 .3M196.7 448.6l5.9 1.5M163.6 457.2l-5.2 -.9M152.7 461.6l-5.5 -.8M161.5 460.8l-6.2 1M202 461.1l4.3 -2.5M203.1 459.9l4.9 -.4M195.3 460.3l4.1 -.1M153.4 468.3l-4.5 -1.3M202.2 466.8l3.7 -1.8M169.9 423.7l2 3.5M172.8 407.4l5.8 .5M167.6 407.6l2.8 -5.3M178.3 383.8l3.9 -2.3M184.9 463.6l5.5 2M172.7 465l5.3 -3.1M176.1 414.5l3.1 2.1M185.3 390.7l1.6 3.7M185.8 379.3l4.9 -3.5M188.7 401.8l3.5 -4.3M169.7 439l3.6 4M184.5 425.9l3.6 1.6M183.7 434.6l2.5 -3.3M166.2 374.9l2 3.4"/>
<path fill="none" stroke="#ece000" stroke-width="1.5" stroke-linecap="round" d="M160.8 371.2l-4.9 .9M165.4 376.7l-4.6 .2M190.8 380.4l4.9 -2.4M203.6 382.8l5.3 -1.5M203.5 383.3l5.1 -1.7M158.7 395.5l-4.3 -1.7M151.2 392l-5.5 0M160.2 402l-4.7 -.6M193.7 401.8l4.8 .3M196 403.5l6.6 .8M190.1 409.9l4.3 -1.4M194.1 412.4l6.9 .8M147.3 418.8l-4.3 -1.1M204.5 416.9l4.6 -.1M156.8 421.8l-4.6 -.1M149.3 423.9l-6.3 -2.9M202.8 426l4.1 .4M187 435.8l4.7 -.4M187.5 435.4l5.7 -.9M164.8 441.8l-6.8 .3M195.3 443.3l5.4 1.4M158 451l-4.5 .3M163.3 456.1l-5.2 -.9M202.8 458.8l4.9 -.4M195 459.2l4.1 -.1M153.1 467.2l-4.5 -1.3M201.9 465.7l3.7 -1.8M169.9 423.1l2 3.5M172.8 406.8l5.8 .5M167.6 407l2.8 -5.3M178.3 383.2l3.9 -2.3M184.9 463l5.5 2M172.7 464.4l5.3 -3.1M176.1 413.9l3.1 2.1M185.3 390.1l1.6 3.7M185.8 378.7l4.9 -3.5M188.7 401.2l3.5 -4.3M169.7 438.4l3.6 4M184.5 425.3l3.6 1.6M183.7 434l2.5 -3.3M166.2 374.3l2 3.4"/>
<path fill="none" stroke="#b8ac00" stroke-width="1.5" stroke-linecap="round" d="M160.5 375.2l-5.6 -3.4M198.5 377.1l4.2 1M161.8 387.9l-6.8 1.1M198.1 403.8l4.8 -2.8M193.8 410.2l6 -3.5M190.2 412.8l5.5 -.9M154 431.6l-4.3 -.5M154.7 437.3l-5.3 -1.3M195 437.4l6.5 -.1M196.1 440.4l5.6 1.1M196.4 447.5l5.9 1.5M152.4 460.5l-5.5 -.8M161.2 459.7l-6.2 1M201.7 460l4.3 -2.5"/>
<rect x="234.5" y="391.5" width="110" height="45" fill="none" stroke="#4a4a4a" stroke-width="0.9"/>
<path fill="none" stroke="#6e6e6e" stroke-width="1.5" d="M324.6 392.2c-1.9 1.2 -4.4 -1.6 3.2 1.1c3.2 .9 2.1 2.3 3.8 -2.7M268.4 442.5c2.2 -.1 2.5 2.5 -5.7 .7c-3.3 -.8 2.5 3.6 5.6 -2.7M304.7 455.5c-3.9 1.7 4 1.8 -3.9 .3c-1.2 .7 4.1 -2 1.4 -3M326 448.4c-1.2 1.4 1.7 -2.8 -3.6 -1.7c-0 3.6 3 -1.3 -3.7 -.2M310.7 434.7c-1.1 3.1 -3.4 -3.9 2.9 -2.6c2.8 -.5 -2.3 -1.2 5.8 -2.4M250.8 442.9c-4.7 1.1 -2.4 -2 3.1 1.1c-2.4 2.2 2.5 3.1 -1.3 .5M274.3 370.2c-3.3 .7 4.5 2.6 1.7 2.2c1.9 .2 -4.9 1.2 -2.4 -2.1M310.8 377.4c1.6 2.6 -3.5 2.4 -5.7 2.3c-1.8 .7 -1.1 1.3 -5.7 .9M312.8 455.1c2.4 -2.1 4.6 -.9 -4.4 -2.2c-2 -2.9 4.2 -2 -2.1 .7M319 384.8c5 3 .2 2.8 .4 -1.4c-0 3.9 -.7 -.8 -5.2 1.1M252.2 461.4c-3.5 3.9 2.8 -1.5 -2 2.6c4.1 2.2 3.1 2.7 -5.2 -.4M252.1 421.5c-4 3 1.1 .3 -2.3 -.4c3.9 -.3 -1.9 -1.6 6 .7M275.7 447.9c.2 .6 -2.2 1.2 2.4 .3c2.2 -.2 2.5 1.3 4 .9M311.8 373.1c-3.1 -.8 2.9 3 4.8 -0c3.6 -1.1 -2.7 1.9 -5.3 3M254.7 429.1c2.9 -.2 -.7 -.6 -3.9 .3c4.4 -.5 -.5 -3.8 -2.1 -2.9M306.6 445.9c-4.6 -3.3 1.5 .4 -2.9 1c-4.1 1.5 4.2 3.8 4.5 .8M321 432c-.2 3.3 1.8 1.3 -.8 -2.4c-2 -0 -4.1 -2.7 2.7 -.9M255.1 406.4c-2.5 -3 1.1 -2.9 -.5 -2.5c2.3 -1.5 -1.4 2 -3.7 -2.6M315.4 388.7c-2.4 1.1 -.5 -3.2 .1 1.8c4 -1.4 -1 -1.2 2.7 1.2M270.9 381.9c-3.7 -3.5 4.4 2.2 -4.4 2.3c-.9 1.3 -.1 2.7 1 -1.4M310.2 420.7c-1.7 -.4 3.6 1.9 -4.9 -.8c3.4 1.9 3.6 -1.4 5.3 3M272.3 445.2c1.4 -.2 3.6 3.1 4 1.7c-4.7 -3.3 -.7 -1.4 -4.5 1.3M273.4 411.3c-3.9 .3 4.4 -2.2 1.5 -.3c2.7 .6 -4.5 -0 -.2 -.3M310.3 406.7c-1.1 -.8 .8 -3.1 1.6 -1.7c1.7 1.6 -3.8 3.1 -4.7 -.4M328.9 419c4.7 .1 4.8 -2.5 1.2 -.1c-.8 -.8 2.3 -3.9 -2.8 .5M304 441.7c3.3 1.3 -1.7 2 4.2 -.8c.7 2.2 -.2 -1.2 1.6 2.9M308.2 427c.5 1.5 1.9 -1.6 5.3 -2.9c-3 .9 1.9 -3 3 1.2M268.3 388c.4 -2.4 -2.2 -3.8 4.2 -.5c4.4 3.4 -3.1 -3.6 .7 -1.6M270.5 457c3.4 -2.5 4.7 1.8 -1.4 -.6c4.8 -1.5 2.5 1.4 .8 2.2M271.8 425.2c-4.1 3.4 -3.6 -3.5 -3.4 2.9c.6 .4 .6 -1.6 -2.5 -2.6M271.2 405.8c3.4 -2.6 -5 -1.9 3.7 -1.1c.1 1.3 2.9 -.3 -.1 -1.2M254.7 404.7c.4 2.8 3.9 -1.9 -2 -2.6c-2.4 -2.4 -2.3 3 .4 2.8M268.4 445.8c.6 .7 .2 .4 3.8 -2.8c-3.9 -1.7 -4.9 -.5 -4 1.9M310.1 391.4c-1.4 -3.3 2.2 .1 -1.8 -1.5c-.3 -1.3 4.1 -2.5 1.3 1M306.1 433.8c-4.1 .1 2.5 -1.5 -5.3 .2c-3.2 -3.8 2.5 -1 -4.9 .4M268.7 380.2c1.7 1.6 -.5 3.6 -4.5 .3c.6 -3 4.9 1.9 4.8 -1.1M252.4 384.8c4 2.3 2.1 2 4 1.5c3 .5 1.2 -.5 -3.2 .8M275.6 387.8c-1 -1.6 3.6 .3 -2 .6c-1.2 .5 2.4 3.4 -3.6 -2.6M254.9 458.5c-.3 -2.5 -3.1 -2.3 .3 -2.5c4.1 -3.1 -.8 3.3 -5 .7M274.7 369.6c4.5 2.5 3.4 3.3 -2.9 -1.1c-2.2 -2.7 .9 1.3 -5.7 .8M273.8 448.2c-1.4 1.9 .4 -3.6 -1.7 1.7c-5 -2.7 1.6 1 4 -2.8M344.6 393.9c-4.6 3.3 2.9 -2.7 .8 -2.1c-3.2 -3.2 3.8 .9 -5.9 -2.6M277.4 416.7c.8 -3.8 1.4 2.6 -4.9 -2.5c-3.9 -2.2 3.3 -1.3 -4.3 1.6M277.9 452.3c2.2 -2.6 4.2 1.8 -1.9 2.4c-3.2 -1.2 -.7 3.8 -3.7 2.8M320 409.5c-1.2 1 2.1 .3 3.7 -.6c-3.8 -2.5 .8 -1.6 3.8 -1.4M311.8 423c-2.4 1.5 -.3 3.1 2.9 2.7c4.3 -3.2 -2.3 -2.9 -2.2 .7M302.5 449.9c-4.6 -3.9 1 3.6 3 -1.9c4.3 -3.9 3.8 -.5 -4.2 -2M327.5 422.3c3.9 -2.6 5 .2 -.9 -3c-1.5 3.4 -4.3 -1.2 -3.5 -1.6M267.9 377.8c1.9 1.1 -1 -1.8 -5.5 2c-2.3 -.2 .6 -3.5 -2.4 -.2M257.7 395c-0 3.1 4.8 3.3 -.7 1.4c2.5 -2.7 1.7 1.1 -1.7 -.9M272.6 407.7c3 .4 .2 -.4 -5.4 3c-2.6 -1.1 -4.3 2.8 -2.8 .6M308.5 466.7c3.1 .9 3.5 -0 -2.5 -2.8c1.9 -.6 -3.1 -3.4 -3.2 .8M270.5 401.6c4.3 .6 -1.6 .4 5.9 2.3c2.6 3 .5 3.1 -4.8 -1.9M249 384c-3.6 -2.5 -4.3 3.2 -2.4 -1.6c4.6 3 -.3 -.6 4.6 -.6M302.7 383c-4.4 -.4 -1.8 .4 1.5 1.3c5 1 -4.3 -.6 4.6 .7M276.2 377.1c-.2 -2.9 -3.8 1.9 2.5 2.5c-4 2.5 -4.7 .4 1 -2.5M264.6 459.3c.4 -1.8 -3.9 -2.1 1.1 -.3c.4 3.5 -2.5 .6 -4 -2.9M316.9 461.7c4 1.9 -.5 1.2 4.2 .5c.2 -2.4 3.1 .2 -3.1 -1.3M312.7 416.5c-1.7 -1.3 -.7 2.7 -3.8 2.9c1.6 -2.4 4.9 -2.5 -5.5 2.2M321.6 403.6c-.9 1.8 -2.9 3.1 1.4 .6c-.3 -.7 -1.5 .2 -1.6 1.1M316.9 418.2c4.6 -2.8 -1 3.9 -5 -.2c4.2 2.8 -3.3 1 -5.6 2.8M304.2 405.9c-2.9 -2.1 2 2.2 3.5 1.9c-3.8 .5 2.5 3 -2.1 2.5M331.7 405c2.4 -2.6 3.1 4 -1.4 -.5c-3.3 -.6 -2.8 4 .7 -2.4M274.4 416.6c-4.3 .3 -1.2 -3 4.2 -1.3c-4.6 .7 .6 .9 5.8 -2.5M266.2 379c-3.2 1.6 -2 -.3 -4.2 2.1c-1.1 3.9 4.8 -3.7 -4.2 1.8M256.4 461.4c3.5 1.8 -2.1 -3.5 1.7 .5c4.6 -.9 1.9 -1 1.6 -2M274.7 399c1.4 -.6 -.1 -2.7 -.7 2.3c3.9 -.3 -4.6 2.1 -3.3 1.1M325.4 438.5c-4.1 -3.9 -.6 -3.7 4.9 -.9c-1.2 -.2 3.2 1.6 4.9 .6M324.9 434.8c-1.9 -.5 -0 .2 5.6 -1.8c-3.3 2.7 2.6 2.3 2 1.3M267.1 382.2c4.7 2.6 2.9 -1.3 1.9 -.9c3.1 -3.8 2.5 -2.1 5.6 2.8M311.5 449.4c1.3 2.5 .7 -1.5 -.3 -1.2c-4.6 -3.2 4.9 -2.1 -.1 -.6M305.1 370.4c-.3 1 3.1 -2.9 3.8 .3c-2.6 2.7 -3.3 -0 2.6 -.3M312 419.7c4.2 1.8 4.9 -1.7 -3.9 2.4c-3 -3.3 1.7 3.1 3.1 1.7M265.6 376.5c-1.3 1.3 1.8 2.1 -1.2 -.6c2.3 -3.1 3.6 -1.7 -3.7 -.3M274.5 431.4c-2.3 .1 2.6 -1.1 -1.6 -1.9c-.2 -2.3 -1.4 3.3 3.9 -2.1M262.6 438.4c1.2 -.9 1.1 .8 3.8 1.6c3.3 -3.2 4.8 1.8 4.3 -.8M277.9 405.5c1.9 2.7 -.7 -3.9 -.9 -.8c2.6 -3.2 -3.2 .7 1.9 -2.6M268.5 463.8c-1.8 -.9 3.8 .2 4.9 -2c.5 -.3 2.4 1.2 3.4 -2.5M311.2 405.5c-2.8 -1 -1.9 -.6 3.3 .2c3.3 -1.5 4.8 -1.4 -.3 1.2M277 444.1c-2.6 -2.5 -.8 -3.1 3.4 1.9c3.1 -2.5 3.9 -3.7 -.2 -1.4M326.9 449.4c-1.1 3.2 3 .1 3.9 2.3c4.8 .4 -1.5 -.6 1.9 -2.4M317.1 394.4c2.7 -3.9 2.8 -1.8 1.6 -2c3.8 -2.9 .3 -1.5 -.9 .2M256.1 418.8c4.5 -3.6 3 -1.1 -.3 -1.8c-4.8 -3.9 -1.8 3.4 .9 2.3M315.8 450.3c-2.6 -.4 -1.4 -1.7 3.4 .9c1.5 -.4 2.9 3.1 -4.8 .8M251.3 425.6c3.8 -3.3 -3.2 -1.8 1.1 .9c-2.3 3.1 3.5 1.7 -5.6 -.2M275.1 386.7c-1.4 1.5 -1.5 2.6 -2.7 .6c-2.4 -.5 3.2 .9 4.2 -0M329.8 415.7c2.4 -1 2.3 -3.2 -4.9 -2.5c-1 2.2 -4.9 3.9 -3.9 2.2M277.6 388.9c-.6 -1 4.7 -.8 -2.9 -.9c.8 1.7 1.2 3.5 1.2 2M320.4 427.7c-4.5 -3.7 .4 3.2 2.9 -.4c1.7 -3.1 0 1 3.9 1.6M306.9 401.4c-1.2 .6 4.1 0 5.1 -2.2c-3.4 -3 3 2.5 -1 0M315.1 441.6c2.2 1.5 2.4 -.2 .1 -2.3c2.6 -.7 -3.7 1.7 -5.3 -.3M252.6 440.2c-3.6 2.1 -3.9 -3.5 2 -.5c-.6 -3.5 2.3 1.3 5.2 -2.9M310.5 424.9c-2.3 -3.4 -.7 2.7 -2.6 .9c4.5 .8 -1.7 2.1 -3.8 3M320.6 437.3c-3 .6 3.5 -3.3 -1.4 -0c2.9 -2.4 4.3 0 -5 -1.6M306.8 441.4c.8 3.6 -4.3 1 -3.9 .7c2.8 .2 3 -4 4.6 -2.6M249.2 422.6c4.7 3 -1.7 1 -3.3 1.3c-1.5 .9 .1 .5 4 -.4M322.6 397.2c2.5 -3.5 .6 2.5 4.1 0c-3 1 3.4 -3.6 -3.8 -.9M321.5 408.2c4 .5 .4 2.2 -.4 -.2c2.8 1.9 1.4 -2.6 1.1 2.7M262.9 386.2c-1.3 -1.7 -2.6 1.6 -.3 -1.6c-3.5 -.5 3.9 1.9 2.8 2.9M259.3 440.3c-2.2 -.5 3.9 -1.9 5.3 -1.1c-2.5 1.7 .8 -2.5 5 -.9M249.5 417.9c2.7 -1.4 -4.7 2.9 -4.8 2.1c-3.7 3.4 3.5 1.4 -4.6 -1.2M250.6 437.1c1.9 -.8 -.7 -1.1 3.8 2.6c3.2 3.5 2.7 2.6 -3.2 -.9M305.3 377.7c1.7 .6 2.8 3.2 -.6 2.8c2.7 2.5 -4.6 3.2 1.7 -1.7M316.9 455.6c-3.2 1.2 -1.8 -2.9 -.8 -1.6c-1.4 .8 -3.3 -2.3 -5.9 1.7M269.6 422.6c1.1 .2 -1 3.2 2.1 .5c3.9 1.7 2.7 -.3 1.6 -.4M305.5 465c-.9 1.8 -1.6 -.3 2 -1.4c2.4 1.6 -2.6 -2.1 2.3 1.5M327.5 429.2c4.6 0 2.2 -3.2 3.8 -2.2c-.2 3.5 -2.8 -.2 -.7 -1.1M265 465.8c-3.2 -3.9 .2 -2.8 -3 2.9c2.8 3.5 -.7 -2 -.5 -1.5M304.4 441.4c-1.2 1 -1.9 -1.5 -5.5 .5c-4.4 3.2 -3.3 -2.4 1.9 -.9M310.2 375.8c-4.6 2.5 4.2 -1.7 -1.7 2.4c-2.2 1 -4.1 2.7 -.7 -.4M329.8 443.9c-2.1 -1.9 4.3 1.8 5.4 1.3c3.9 -1.9 1 -3.4 2.5 1.4M312.2 424.9c-4.1 3.7 2 -2.5 1.1 .2c-3.3 .3 -.9 -3.2 -.6 -.3M268.4 427.3c-4.9 -2.1 4.1 -3.4 -5.7 -1.9c3 .5 4.2 3.2 .4 -.1M250.3 372c1.7 -3.3 -1.7 -1.3 .9 -2.5c-3.4 -1.2 .9 1.6 -2.8 -3M319.4 452.1c2.8 -2.5 -2.9 3.1 2.7 2.1c.4 -2.4 -2 3.7 4.8 1.4M309.5 423.1c-4.8 2.4 -3.9 1.4 .6 2.2c-2.3 -1 -4.8 -1.7 -4.1 -.1M309.6 452.7c1.2 -3.7 .2 2.4 4 -.3c2.2 2.5 .3 1.1 -.1 0M271.6 387.3c-2.3 1.3 2.1 2.3 5 -2.3c-2.3 -1.4 -1.4 1.3 4.3 -1.9M263.4 385.1c-4.4 -3.5 -.9 -.2 -4.1 1.4c-.2 -1.3 1.2 -1.7 -2.1 -2.6M261.3 433.9c2.4 .4 2.6 -3.5 5.9 2.6c-1.9 -2.5 -.3 3.6 -3.2 2.6M330.9 446.9c-2.3 -.3 -.2 3.5 -.6 1.4c-.7 3.7 .2 -2.9 1.2 2.7M276.1 433c1.6 1.2 2.2 .6 3.8 1.4c-3.4 -1.7 2.8 2.9 -.1 .5M266 459.7c3.5 -3.3 1.5 3.8 4.7 -.9c-1.3 3.3 3.4 -1.3 -.8 -2.2M309.4 447.9c2 -.8 2.8 -.5 -2.3 -2.6c-3 .4 1 .7 3.9 -.8M259 457.4c-.2 -3.5 3 3.4 -2.4 -.3c-3.2 -3.3 -4.3 -2.7 .3 -1.4M271.3 413.9c3.3 .1 -4.8 .1 5.5 -.1c-2.8 3.7 -4.7 -3.7 1.5 -.7M331.4 390.4c-2 -3.4 -4.1 3 .9 1.1c4.3 2.2 3.9 -.1 4.4 -1.5M304.7 397.5c1.3 -1.5 -3 -4 4.4 1.5c-4.6 -2.8 -.3 .3 2 2.7M318.1 434.9c-1.4 -1.1 -1.6 -3.4 -3.7 -.9c-1.5 3.4 4 -2.7 -3.4 -1M309.3 427c-1.4 -3.6 2 2.1 -5.2 1.3c4.1 -2.7 -3.3 .7 -3.8 -2.2M274.6 430.5c-.9 3.9 -1.1 -3.2 -4.8 1.1c2.2 -3.3 -3 -2.1 -5.6 1.5M272.3 406.8c2.7 1 -.2 -2.6 -3.4 -1.2c3.5 -1.2 .9 2.2 5.3 .3M303.4 397.2c2.7 -3.2 3 .4 -3.1 -.3c2 2 3.1 -1.3 -2.4 1.1M319.3 455.4c-3.9 1 -3.6 1.5 2.3 2.3c2.2 1.1 3.3 2.8 -4 1.8M306.6 462.7c.6 -1.5 -2.7 3.9 2.1 2.1c2.3 -2.8 -3.4 -3.7 1 -1.2M271.9 388.1c3.5 1.7 -2 3.8 -.3 .8c3.9 -3.3 -3.2 1.2 3.1 2.8M315 430.9c-3.6 0 -2.9 -1.2 4.5 -1.8c-.5 1.1 1.9 3.3 -4.8 -1.1M303.7 399.7c1.1 -.9 2.4 1.9 4.5 2.6c-1.7 2 -4.4 .1 3.9 .8M305.4 450.1c-3.4 -1.2 .8 -3.5 -1.6 -.6c1.7 .5 4.5 1.4 1.1 -1.9M305 409.5c-2.4 3.9 -2.7 3.9 -3.4 -2.5c1.5 -.7 1.2 -1.8 3.8 -2.6M269.1 409.9c4.6 .1 -1.4 .5 -1.6 -.8c-.8 -3.7 4.4 -0 -3.2 .1M263.8 447.4c-1.9 -1.2 2.5 -1.6 3.7 -2.5c-2.1 -.7 .3 .4 -1.4 1.4M276.7 384.2c1.4 -1.8 1 -3.7 -5.9 1.9c-3.4 -3.1 -4 .6 -3.5 -1.4M322 438.6c4.2 -.6 -1.2 -2.9 -.6 -.9c-2.5 .5 2.2 -3.6 1.6 -0M305.9 444c.5 -.1 2.2 1.8 -5.8 -2c-1.9 2 4.2 -.7 .6 -2.9M311.3 456c-5 -3.1 3.1 3.6 -1.4 1.9c1.1 2 -1.1 -1.7 2.9 -.8M306.8 377c-5 -.7 -.4 3.3 -3.1 1.7c-1 -2.2 -2.7 .3 -5.1 .9M320.7 419.1c1.1 -3.6 3.2 -2.1 5.7 .7c-3.9 .1 -2 -.8 0 -.3M274 405.3c2.6 3.1 -4.4 -.9 -.9 -1.8c.8 2.3 -1.8 .9 -3.7 .2M261.6 426.7c3.2 -1.1 -4.4 .2 4.5 -1.3c2.8 -2.3 -3 -3.5 -5.1 .6M326.4 391.1c2 -3.2 -3.4 1.3 1.3 -2.4c-4 3.4 2 1.1 -1.5 1.5M274.3 390c-2.9 -1.3 2.6 -2.3 -.9 -2c-4.7 -3 .6 -3.1 -3.4 -2.6M250.7 450.5c2 2.5 -2.3 .6 4.5 -1.8c4.1 1.5 3.6 -3.8 5.6 -2.2M313.9 388.4c-1.7 3.7 -2.6 .5 1.9 -1.7c2.7 -.2 4.3 -2 -.7 -3M313.5 390.9c-5 3 2.5 -1.8 1.5 .8c.7 -2.5 -1.9 -2.3 -3.5 -1.4M333.2 417.9c-3.9 3.7 -1.8 -3.2 3 -1.3c.4 2.3 -1.4 -3.1 3.3 -1.4M309.4 380.2c-.4 -.4 -4.2 -1.7 .8 .4c-.1 -.3 .8 2.8 5.2 -2.4M267.7 412.1c-3.2 -.3 3.4 .2 -2.4 2.1c1.4 1.2 -1.1 .6 -2.7 -1.8M308.2 402.2c-3.3 -3.6 1.1 -.4 -4.6 2.4c-1 4 1.1 -2.8 -3.9 -.4M254.6 428.2c-1.6 1.7 .6 -1.2 -2.3 1.4c-4.3 -0 -2.9 2.5 -3.9 .3M273.2 424.6c4.9 -1.7 -2.7 -1 -3.5 1.3c2.8 1.6 4.9 3.8 4 -3M253.4 380.3c-3.1 3.6 -2.2 -2.4 -5.7 -.4c2.5 -2.2 4.4 2.3 5.7 2.5M327.3 377.8c-4.8 0 2.4 -3 2 -2c-2.4 -.4 -.2 -.4 -3.1 2.4M326.8 437.7c-1.6 3.7 -1.4 .5 -5.3 -1.3c2.2 3.4 2.6 -3.1 -3.1 -2.4M260.8 388.6c-1.2 -3.2 -3.2 -2 -1.4 -0c.4 -3.1 -.2 2.2 2.5 -1.6M261.4 396.4c-1.4 -1.7 1.6 .1 -3.9 -1.5c2.7 -2 1 2.6 -4.7 -2.1M310.7 405.9c-.1 -.6 4.2 -2.7 .1 2.8c3.9 -1.1 2.8 -3 3.5 2M316.6 396.8c-3.9 -1.1 -1.5 -3.1 -1 2.2c4.7 3.7 4.8 -.7 2 1.2M256.4 382.4c1.7 -2.5 3.2 1 -5.4 -2c4.6 2.2 4.3 1 -2.1 -2.7M274.9 392.3c.4 3.6 -1.2 -2.7 -4.4 2.7c4.4 .6 .2 -3 -2 -.6M268.1 441.2c3.2 -.7 -2.6 2.1 5.6 1.9c-2.2 -.5 .4 -1.2 -4 1.1M302.9 385.7c4.9 -.7 4.6 -2.9 -5.9 .5c-2.5 2.7 3 -2.3 -5.5 -1.3M235.3 451.8c-1.9 2.5 -4.8 3.6 5.6 1.9c1.7 -1.9 4.7 -1.2 -1.8 -.9M324.1 467.6c-4.7 1 4.9 3.9 -.8 1.7c.6 2.5 -2 -4 -5.5 2.1M325 416.9c2.3 2.7 2.6 -.2 -1 2.7c1.4 2.5 -4.9 2.3 -.2 1.3M330.1 411.5c3.9 1 -2.3 3.3 -5.4 .8c1.9 -1.9 3.7 .4 2 -2.1M323.7 439.4c-4.2 3.6 -2.7 -.4 2.3 -.4c.9 1.7 1.1 1.4 -4.3 -1.4M303.5 402.7c-1.5 -.6 -4.8 3 -3.7 -2.5c.4 -3.6 2.4 3.4 -5.8 1.2M305.4 397.3c3.8 .9 -.6 -.4 1.1 -1.2c-1.6 -.5 4.9 .6 -4.9 2.5M329.8 460.6c-1.8 .1 -4.9 1.1 -2.6 -.2c.8 4 4.1 1.8 -5.9 -.4M250.3 375.1c.7 .8 .3 2.7 -.7 2.4c-1.7 .7 4 -3.1 -2.7 .5M255.1 447.6c-2.9 1.4 3.7 3.1 -2.6 2.9c2.5 .2 -3.7 2.5 -2.6 1.4M261.7 435.1c-4.5 2.4 3.1 -1.9 .6 -2.6c.3 -.6 .1 -1.6 -3.6 .2M271.7 377.9c-1.7 3.3 4.9 -1.3 3.3 .5c1.9 2.3 -.8 -.9 .9 -2.7M261.6 423.2c-4.1 -3.1 .2 3 3.1 -1.9c-.7 3.4 3.7 -1.2 2.1 .1M305.3 420.4c4.5 2.7 -4.6 -.9 -2.4 2.6c1.2 1.5 4.9 -1.6 .8 2.8M312.5 372.4c-3.6 1.4 .8 2.2 5.3 2.1c-4.1 -2.6 -1.7 1.8 .3 -2.5M312.5 429.7c-3.5 3.9 -2.2 -.2 -4.3 -2.1c-.6 1.2 .4 -2.4 3.2 2.2M305 396.3c.7 -3.5 -3.9 3.5 -4 2.1c3 1.8 .6 2.2 4.1 1.7M313.7 370.2c-2 -3.7 -4.9 2.8 2.7 -2.4c4 3 1.4 1.2 -.3 .1M272.1 404.6c-1.2 2.1 -3.1 2.3 -3.6 -.5c-4.5 1 2 -.4 -2.9 2.7M306.4 379.5c2.6 -.2 .6 1.7 -5.3 1c2.6 -1.5 4.1 2.6 .6 -.7M251.8 441.3c1.7 -2.7 2.4 .7 .2 .6c1.9 3.6 -1.4 .2 -4 -2M274.2 392.1c-1.4 2.8 4.9 2.4 2.3 -1.1c-.3 3.2 .2 -2.7 -.8 .8M268.6 436.2c-3.2 -.7 -1 -.3 2.1 -1.1c3.3 -1.8 2 1.5 -2 2.5M306.2 422.9c-4.1 .2 2.4 -2.6 .3 .9c2 .3 -2 -0 -.8 .7M258.1 410.7c-3.1 -1.9 -2 .1 4.3 2.7c2.6 -.3 3.3 2.3 .9 -2.3M324.7 462.5c4.6 -2.8 3.9 2.8 -5.4 -2.7c2.4 -3.8 -4.7 -1.7 -2.3 -1.9M271.8 403.5c2.6 2.1 -2.2 -1.8 -0 1.4c-2.5 2.6 4.2 3.2 -1.9 -1.4M271.7 396.4c2.7 .3 -1.2 .3 -2.5 2.4c4 .7 2.1 -1.6 -4.5 -.5M271.9 450.5c1.6 1.4 -.5 3.5 -1.7 -.5c4.8 .2 -3.5 -2.4 -2.8 .4M271.7 406.9c3.2 -3.7 1.9 -1.4 2.3 2.5c-2.9 1.1 -1.9 .8 -3.5 -1.6M325.9 403.5c.8 1.3 3.9 -3.4 2.7 -1.9c-2.1 -.9 2.8 1.9 -3 -1.9M316.5 374.5c4.3 -3 -3.1 -1.7 -5.9 -1.1c-1.6 -1.7 4.2 3.7 -5.1 -1.4M302.1 431c2.3 -3.5 -1.5 -.3 2.4 -.8c1 -3.2 1.6 -3.4 -2 .4M323.4 394.8c4.8 .1 1.1 -1.5 -.6 -3c2.2 3.6 -4 2.2 -4.8 2.9M251.1 433.7c4.7 1.2 -2.5 -2.8 -5.6 .8c-2.9 -2.9 .8 -3.8 -.3 -2.2M311.6 423.1c3.9 -3.4 -3.9 -1.5 3.7 1.1c-3.9 -1.6 4.8 -.9 -3 -.7M314.9 423.3c-3.4 -1 -.7 .5 -4.3 2.8c4.2 -2.5 -4.7 2.2 -4.3 1.5M262.3 409.6c3.2 1.2 2.3 -1.7 -5.4 .2c.1 3.2 2 1.9 2.7 1.7M303.3 465.9c3.2 .2 -3.2 -2 -1.3 .7c1.7 -2.7 .6 3.4 -3.2 1.6M310.6 395.4c.6 2.8 2.3 -3.2 -5 -.4c.3 -.9 1.9 3.7 5.3 -2.8M304 460.6c-1.7 -2.8 -2.3 -1.7 -1.4 -2c4 -3.7 -.1 -.6 3 -.3M271.1 432.4c.9 1.8 .6 -3.1 -3 .6c3.5 -1.5 2.4 2.7 -4.1 2.4M321.8 406.6c-1.2 -1 -.6 3.4 -1.3 -2.3c3.9 -.2 -1.4 2.3 5.5 1M275.2 372.4c.7 2.1 -.2 1.4 4.9 .1c2.1 -2.9 2.8 .1 -3.1 2.2M313 404.8c-4.3 -.1 -.2 -3.7 -.8 -2.2c0 1.7 1.7 -3.6 2.2 -2.2M274.2 406.6c-1.5 -.5 4.7 -3.3 -4.6 -2.2c-3.6 0 -1.3 -1.4 5.7 -.6M306.5 436.5c4.3 -1.6 2.1 3.9 -.5 2.7c-2.7 2.1 4.7 -2.3 -2.7 -.6M317.6 467.4c.7 .7 -4.6 3.8 5 -2.2c1.9 .2 3.6 -2 -4.6 -1.2M270 389.7c-1.8 -3.6 -4.8 3.8 -1.3 -.4c1.4 -.8 -.6 3 4.6 .6M273 410.1c4 2.1 1.2 -.6 -.7 2.4c2.4 -.4 -1.9 .6 -3.8 .8M312.2 424.1c-4.5 -2.3 1.6 -1.3 6 .3c-.9 3.3 -.8 -1.9 .7 -2.5M331.5 410.9c2.3 -2.4 -.2 1.6 -.3 1.7c-3.5 -1.3 -.4 2.6 5.3 2.3M316.1 384.9c3.1 -2.9 -.8 -1.4 -5.3 1.7c3.7 -1.9 1.6 3.5 3.3 -.7M320 430.5c-2.1 1.8 1.7 2 -1.6 -1c.3 -3.6 1.3 -2.5 2.1 -.5M311.4 408.4c-1.8 2.8 -4.1 -2.6 -4.6 -1.5c1.1 -3.1 4.1 -1.9 -4.1 -.7M331.5 459.5c1.8 -.3 .9 1.9 -0 -2.4c-.5 -.4 -.8 -3.2 -4.2 1.8M309 460.6c-1.8 1.6 3.3 .9 3.6 2.4c0 -2 .5 2 3.8 1.3M263.4 406.5c-2 -3 2.9 2.2 2.8 1c-.7 -2.9 .7 -3.9 -4.1 2.4M318 398.8c.3 -2.4 -2.5 2.1 -4.2 1.4c-4.5 -2.5 4.9 .4 3.9 1.4M315.1 374.9c2.9 2.1 4.7 3 -5.9 .3c-3.8 1.6 1.6 -1.1 2.2 -2.7M276.7 381.2c-.8 2.6 .5 -1.8 5.3 -.1c2.7 3.4 4.5 3.7 -3.7 1.4M277.2 397.5c-3.7 1.4 1 -.4 -5.2 1.2c4.3 -2.2 -1.6 .2 -3 -.8M272.5 425.3c4.8 -1.2 4.1 -1.2 -.2 -.7c1.6 1.6 1.1 -3.2 3.7 2.6M276.6 395c-.2 1.4 4.4 -1.6 3.4 .4c-3.2 -2.7 -3.2 -1.7 -3.1 -.6M323.4 420.4c.2 2.9 4.7 1.5 5.4 1.4c-1.9 2.1 .7 -3.2 2.1 2.7M251.7 438.1c3.5 -2.2 -4.4 -1.8 4.1 -.7c-3.9 -2.5 -.4 -2.6 2.4 .3M259.9 387.4c-.2 -2.5 -2.5 -1.8 -1.9 2.7c-1.7 2.4 -2.5 2.6 .6 -2.5M260.8 385.3c2.2 -2 1.2 -3.7 .9 -1c-3 1.5 -.7 3.3 -3.7 2.6M314.5 418.9c2.7 3.2 -1.2 -2.3 4.7 -1.1c-3.8 -2.4 -1.6 -2.4 -3.1 2.6M262.3 453.8c3.7 -3.1 -3.3 2.2 2.7 -2.5c.3 -0 -4.6 -1.9 3.5 -1.1M267.5 426.2c3.8 -4 .3 -3.5 -1.5 -1.6c-.6 -1.8 2.1 .8 -1.3 -2.6M266.2 449.4c-3.8 -.8 3.7 -1.7 5.4 -.2c4.6 -1.7 -3.3 3.9 1.9 2.5M274.4 405.8c-3.6 -.2 1.6 2.7 5 -1.3c-4.5 -3.1 3.1 -.9 3.1 -1M305.3 371.7c3 -.7 4.6 1.7 -.4 -1.2c-3.2 -1.1 -.8 3.3 3.1 -1.4M307 428.4c1.2 -3.8 1.7 -2 4.8 -1.4c.8 -3.5 3.2 1.9 1.4 -.4M307.7 456.8c1.1 .5 -4.7 -1.2 -1.3 .8c-3.6 -3.8 3.3 -1.7 2.2 -1.5M320.4 424.3c-3.1 -3.1 2.3 3.8 1.2 -1.8c3.4 .5 -.1 -2.6 2.3 2.3M307.1 441.7c1.6 -3.3 .8 -.5 1.5 2.2c.1 -2.3 -4.4 -3.7 -5.5 1.9M272.1 425.9c3.1 1.2 -2 1.2 4.9 -3c-4.7 -3 2.7 2.2 -3.4 2.5M259 448c-2 3.9 -.6 1.8 0 -2.7c.3 .9 1 3.6 1.9 1.8M313.6 407.4c3.8 .9 3.2 -2.2 -5 -1.7c-4.3 3.5 4.4 1.5 .5 1.7M266.6 370.9c1.1 2.7 -1.6 1.1 1.8 1.1c4.1 -1.4 4.9 2.9 -2.8 -2.7M320.9 463.7c-.1 2.3 3.7 -3 .2 .4c3.2 -3.2 3.9 -.7 3.9 -.2M329.3 421.5c.9 -1.9 3.8 -1.1 -5.4 1.8c3.3 1 -1.4 2.1 2 -2.4M319.9 372.4c1 -1.4 -1.1 -.1 -3.5 1.4c-1.5 .8 -3 -.7 -3.7 1M258.4 419.6c-3.6 3.1 .9 2.1 4.2 2.3c-3.9 .6 1.3 1.8 -4.3 .6M318 377.2c-4.5 3.6 3.5 2.2 -1.5 2.9c3.4 .8 -2.3 -1 -5.2 -1.4"/>
<path fill="none" stroke="#fff" stroke-width=".9" d="M324.6 392.2c-1.9 1.2 -4.4 -1.6 3.2 1.1c3.2 .9 2.1 2.3 3.8 -2.7M268.4 442.5c2.2 -.1 2.5 2.5 -5.7 .7c-3.3 -.8 2.5 3.6 5.6 -2.7M304.7 455.5c-3.9 1.7 4 1.8 -3.9 .3c-1.2 .7 4.1 -2 1.4 -3M326 448.4c-1.2 1.4 1.7 -2.8 -3.6 -1.7c-0 3.6 3 -1.3 -3.7 -.2M310.7 434.7c-1.1 3.1 -3.4 -3.9 2.9 -2.6c2.8 -.5 -2.3 -1.2 5.8 -2.4M250.8 442.9c-4.7 1.1 -2.4 -2 3.1 1.1c-2.4 2.2 2.5 3.1 -1.3 .5M274.3 370.2c-3.3 .7 4.5 2.6 1.7 2.2c1.9 .2 -4.9 1.2 -2.4 -2.1M310.8 377.4c1.6 2.6 -3.5 2.4 -5.7 2.3c-1.8 .7 -1.1 1.3 -5.7 .9M312.8 455.1c2.4 -2.1 4.6 -.9 -4.4 -2.2c-2 -2.9 4.2 -2 -2.1 .7M319 384.8c5 3 .2 2.8 .4 -1.4c-0 3.9 -.7 -.8 -5.2 1.1M252.2 461.4c-3.5 3.9 2.8 -1.5 -2 2.6c4.1 2.2 3.1 2.7 -5.2 -.4M252.1 421.5c-4 3 1.1 .3 -2.3 -.4c3.9 -.3 -1.9 -1.6 6 .7M275.7 447.9c.2 .6 -2.2 1.2 2.4 .3c2.2 -.2 2.5 1.3 4 .9M311.8 373.1c-3.1 -.8 2.9 3 4.8 -0c3.6 -1.1 -2.7 1.9 -5.3 3M254.7 429.1c2.9 -.2 -.7 -.6 -3.9 .3c4.4 -.5 -.5 -3.8 -2.1 -2.9M306.6 445.9c-4.6 -3.3 1.5 .4 -2.9 1c-4.1 1.5 4.2 3.8 4.5 .8M321 432c-.2 3.3 1.8 1.3 -.8 -2.4c-2 -0 -4.1 -2.7 2.7 -.9M255.1 406.4c-2.5 -3 1.1 -2.9 -.5 -2.5c2.3 -1.5 -1.4 2 -3.7 -2.6M315.4 388.7c-2.4 1.1 -.5 -3.2 .1 1.8c4 -1.4 -1 -1.2 2.7 1.2M270.9 381.9c-3.7 -3.5 4.4 2.2 -4.4 2.3c-.9 1.3 -.1 2.7 1 -1.4M310.2 420.7c-1.7 -.4 3.6 1.9 -4.9 -.8c3.4 1.9 3.6 -1.4 5.3 3M272.3 445.2c1.4 -.2 3.6 3.1 4 1.7c-4.7 -3.3 -.7 -1.4 -4.5 1.3M273.4 411.3c-3.9 .3 4.4 -2.2 1.5 -.3c2.7 .6 -4.5 -0 -.2 -.3M310.3 406.7c-1.1 -.8 .8 -3.1 1.6 -1.7c1.7 1.6 -3.8 3.1 -4.7 -.4M328.9 419c4.7 .1 4.8 -2.5 1.2 -.1c-.8 -.8 2.3 -3.9 -2.8 .5M304 441.7c3.3 1.3 -1.7 2 4.2 -.8c.7 2.2 -.2 -1.2 1.6 2.9M308.2 427c.5 1.5 1.9 -1.6 5.3 -2.9c-3 .9 1.9 -3 3 1.2M268.3 388c.4 -2.4 -2.2 -3.8 4.2 -.5c4.4 3.4 -3.1 -3.6 .7 -1.6M270.5 457c3.4 -2.5 4.7 1.8 -1.4 -.6c4.8 -1.5 2.5 1.4 .8 2.2M271.8 425.2c-4.1 3.4 -3.6 -3.5 -3.4 2.9c.6 .4 .6 -1.6 -2.5 -2.6M271.2 405.8c3.4 -2.6 -5 -1.9 3.7 -1.1c.1 1.3 2.9 -.3 -.1 -1.2M254.7 404.7c.4 2.8 3.9 -1.9 -2 -2.6c-2.4 -2.4 -2.3 3 .4 2.8M268.4 445.8c.6 .7 .2 .4 3.8 -2.8c-3.9 -1.7 -4.9 -.5 -4 1.9M310.1 391.4c-1.4 -3.3 2.2 .1 -1.8 -1.5c-.3 -1.3 4.1 -2.5 1.3 1M306.1 433.8c-4.1 .1 2.5 -1.5 -5.3 .2c-3.2 -3.8 2.5 -1 -4.9 .4M268.7 380.2c1.7 1.6 -.5 3.6 -4.5 .3c.6 -3 4.9 1.9 4.8 -1.1M252.4 384.8c4 2.3 2.1 2 4 1.5c3 .5 1.2 -.5 -3.2 .8M275.6 387.8c-1 -1.6 3.6 .3 -2 .6c-1.2 .5 2.4 3.4 -3.6 -2.6M254.9 458.5c-.3 -2.5 -3.1 -2.3 .3 -2.5c4.1 -3.1 -.8 3.3 -5 .7M274.7 369.6c4.5 2.5 3.4 3.3 -2.9 -1.1c-2.2 -2.7 .9 1.3 -5.7 .8M273.8 448.2c-1.4 1.9 .4 -3.6 -1.7 1.7c-5 -2.7 1.6 1 4 -2.8M344.6 393.9c-4.6 3.3 2.9 -2.7 .8 -2.1c-3.2 -3.2 3.8 .9 -5.9 -2.6M277.4 416.7c.8 -3.8 1.4 2.6 -4.9 -2.5c-3.9 -2.2 3.3 -1.3 -4.3 1.6M277.9 452.3c2.2 -2.6 4.2 1.8 -1.9 2.4c-3.2 -1.2 -.7 3.8 -3.7 2.8M320 409.5c-1.2 1 2.1 .3 3.7 -.6c-3.8 -2.5 .8 -1.6 3.8 -1.4M311.8 423c-2.4 1.5 -.3 3.1 2.9 2.7c4.3 -3.2 -2.3 -2.9 -2.2 .7M302.5 449.9c-4.6 -3.9 1 3.6 3 -1.9c4.3 -3.9 3.8 -.5 -4.2 -2M327.5 422.3c3.9 -2.6 5 .2 -.9 -3c-1.5 3.4 -4.3 -1.2 -3.5 -1.6M267.9 377.8c1.9 1.1 -1 -1.8 -5.5 2c-2.3 -.2 .6 -3.5 -2.4 -.2M257.7 395c-0 3.1 4.8 3.3 -.7 1.4c2.5 -2.7 1.7 1.1 -1.7 -.9M272.6 407.7c3 .4 .2 -.4 -5.4 3c-2.6 -1.1 -4.3 2.8 -2.8 .6M308.5 466.7c3.1 .9 3.5 -0 -2.5 -2.8c1.9 -.6 -3.1 -3.4 -3.2 .8M270.5 401.6c4.3 .6 -1.6 .4 5.9 2.3c2.6 3 .5 3.1 -4.8 -1.9M249 384c-3.6 -2.5 -4.3 3.2 -2.4 -1.6c4.6 3 -.3 -.6 4.6 -.6M302.7 383c-4.4 -.4 -1.8 .4 1.5 1.3c5 1 -4.3 -.6 4.6 .7M276.2 377.1c-.2 -2.9 -3.8 1.9 2.5 2.5c-4 2.5 -4.7 .4 1 -2.5M264.6 459.3c.4 -1.8 -3.9 -2.1 1.1 -.3c.4 3.5 -2.5 .6 -4 -2.9M316.9 461.7c4 1.9 -.5 1.2 4.2 .5c.2 -2.4 3.1 .2 -3.1 -1.3M312.7 416.5c-1.7 -1.3 -.7 2.7 -3.8 2.9c1.6 -2.4 4.9 -2.5 -5.5 2.2M321.6 403.6c-.9 1.8 -2.9 3.1 1.4 .6c-.3 -.7 -1.5 .2 -1.6 1.1M316.9 418.2c4.6 -2.8 -1 3.9 -5 -.2c4.2 2.8 -3.3 1 -5.6 2.8M304.2 405.9c-2.9 -2.1 2 2.2 3.5 1.9c-3.8 .5 2.5 3 -2.1 2.5M331.7 405c2.4 -2.6 3.1 4 -1.4 -.5c-3.3 -.6 -2.8 4 .7 -2.4M274.4 416.6c-4.3 .3 -1.2 -3 4.2 -1.3c-4.6 .7 .6 .9 5.8 -2.5M266.2 379c-3.2 1.6 -2 -.3 -4.2 2.1c-1.1 3.9 4.8 -3.7 -4.2 1.8M256.4 461.4c3.5 1.8 -2.1 -3.5 1.7 .5c4.6 -.9 1.9 -1 1.6 -2M274.7 399c1.4 -.6 -.1 -2.7 -.7 2.3c3.9 -.3 -4.6 2.1 -3.3 1.1M325.4 438.5c-4.1 -3.9 -.6 -3.7 4.9 -.9c-1.2 -.2 3.2 1.6 4.9 .6M324.9 434.8c-1.9 -.5 -0 .2 5.6 -1.8c-3.3 2.7 2.6 2.3 2 1.3M267.1 382.2c4.7 2.6 2.9 -1.3 1.9 -.9c3.1 -3.8 2.5 -2.1 5.6 2.8M311.5 449.4c1.3 2.5 .7 -1.5 -.3 -1.2c-4.6 -3.2 4.9 -2.1 -.1 -.6M305.1 370.4c-.3 1 3.1 -2.9 3.8 .3c-2.6 2.7 -3.3 -0 2.6 -.3M312 419.7c4.2 1.8 4.9 -1.7 -3.9 2.4c-3 -3.3 1.7 3.1 3.1 1.7M265.6 376.5c-1.3 1.3 1.8 2.1 -1.2 -.6c2.3 -3.1 3.6 -1.7 -3.7 -.3M274.5 431.4c-2.3 .1 2.6 -1.1 -1.6 -1.9c-.2 -2.3 -1.4 3.3 3.9 -2.1M262.6 438.4c1.2 -.9 1.1 .8 3.8 1.6c3.3 -3.2 4.8 1.8 4.3 -.8M277.9 405.5c1.9 2.7 -.7 -3.9 -.9 -.8c2.6 -3.2 -3.2 .7 1.9 -2.6M268.5 463.8c-1.8 -.9 3.8 .2 4.9 -2c.5 -.3 2.4 1.2 3.4 -2.5M311.2 405.5c-2.8 -1 -1.9 -.6 3.3 .2c3.3 -1.5 4.8 -1.4 -.3 1.2M277 444.1c-2.6 -2.5 -.8 -3.1 3.4 1.9c3.1 -2.5 3.9 -3.7 -.2 -1.4M326.9 449.4c-1.1 3.2 3 .1 3.9 2.3c4.8 .4 -1.5 -.6 1.9 -2.4M317.1 394.4c2.7 -3.9 2.8 -1.8 1.6 -2c3.8 -2.9 .3 -1.5 -.9 .2M256.1 418.8c4.5 -3.6 3 -1.1 -.3 -1.8c-4.8 -3.9 -1.8 3.4 .9 2.3M315.8 450.3c-2.6 -.4 -1.4 -1.7 3.4 .9c1.5 -.4 2.9 3.1 -4.8 .8M251.3 425.6c3.8 -3.3 -3.2 -1.8 1.1 .9c-2.3 3.1 3.5 1.7 -5.6 -.2M275.1 386.7c-1.4 1.5 -1.5 2.6 -2.7 .6c-2.4 -.5 3.2 .9 4.2 -0M329.8 415.7c2.4 -1 2.3 -3.2 -4.9 -2.5c-1 2.2 -4.9 3.9 -3.9 2.2M277.6 388.9c-.6 -1 4.7 -.8 -2.9 -.9c.8 1.7 1.2 3.5 1.2 2M320.4 427.7c-4.5 -3.7 .4 3.2 2.9 -.4c1.7 -3.1 0 1 3.9 1.6M306.9 401.4c-1.2 .6 4.1 0 5.1 -2.2c-3.4 -3 3 2.5 -1 0M315.1 441.6c2.2 1.5 2.4 -.2 .1 -2.3c2.6 -.7 -3.7 1.7 -5.3 -.3M252.6 440.2c-3.6 2.1 -3.9 -3.5 2 -.5c-.6 -3.5 2.3 1.3 5.2 -2.9M310.5 424.9c-2.3 -3.4 -.7 2.7 -2.6 .9c4.5 .8 -1.7 2.1 -3.8 3M320.6 437.3c-3 .6 3.5 -3.3 -1.4 -0c2.9 -2.4 4.3 0 -5 -1.6M306.8 441.4c.8 3.6 -4.3 1 -3.9 .7c2.8 .2 3 -4 4.6 -2.6M249.2 422.6c4.7 3 -1.7 1 -3.3 1.3c-1.5 .9 .1 .5 4 -.4M322.6 397.2c2.5 -3.5 .6 2.5 4.1 0c-3 1 3.4 -3.6 -3.8 -.9M321.5 408.2c4 .5 .4 2.2 -.4 -.2c2.8 1.9 1.4 -2.6 1.1 2.7M262.9 386.2c-1.3 -1.7 -2.6 1.6 -.3 -1.6c-3.5 -.5 3.9 1.9 2.8 2.9M259.3 440.3c-2.2 -.5 3.9 -1.9 5.3 -1.1c-2.5 1.7 .8 -2.5 5 -.9M249.5 417.9c2.7 -1.4 -4.7 2.9 -4.8 2.1c-3.7 3.4 3.5 1.4 -4.6 -1.2M250.6 437.1c1.9 -.8 -.7 -1.1 3.8 2.6c3.2 3.5 2.7 2.6 -3.2 -.9M305.3 377.7c1.7 .6 2.8 3.2 -.6 2.8c2.7 2.5 -4.6 3.2 1.7 -1.7M316.9 455.6c-3.2 1.2 -1.8 -2.9 -.8 -1.6c-1.4 .8 -3.3 -2.3 -5.9 1.7M269.6 422.6c1.1 .2 -1 3.2 2.1 .5c3.9 1.7 2.7 -.3 1.6 -.4M305.5 465c-.9 1.8 -1.6 -.3 2 -1.4c2.4 1.6 -2.6 -2.1 2.3 1.5M327.5 429.2c4.6 0 2.2 -3.2 3.8 -2.2c-.2 3.5 -2.8 -.2 -.7 -1.1M265 465.8c-3.2 -3.9 .2 -2.8 -3 2.9c2.8 3.5 -.7 -2 -.5 -1.5M304.4 441.4c-1.2 1 -1.9 -1.5 -5.5 .5c-4.4 3.2 -3.3 -2.4 1.9 -.9M310.2 375.8c-4.6 2.5 4.2 -1.7 -1.7 2.4c-2.2 1 -4.1 2.7 -.7 -.4M329.8 443.9c-2.1 -1.9 4.3 1.8 5.4 1.3c3.9 -1.9 1 -3.4 2.5 1.4M312.2 424.9c-4.1 3.7 2 -2.5 1.1 .2c-3.3 .3 -.9 -3.2 -.6 -.3M268.4 427.3c-4.9 -2.1 4.1 -3.4 -5.7 -1.9c3 .5 4.2 3.2 .4 -.1M250.3 372c1.7 -3.3 -1.7 -1.3 .9 -2.5c-3.4 -1.2 .9 1.6 -2.8 -3M319.4 452.1c2.8 -2.5 -2.9 3.1 2.7 2.1c.4 -2.4 -2 3.7 4.8 1.4M309.5 423.1c-4.8 2.4 -3.9 1.4 .6 2.2c-2.3 -1 -4.8 -1.7 -4.1 -.1M309.6 452.7c1.2 -3.7 .2 2.4 4 -.3c2.2 2.5 .3 1.1 -.1 0M271.6 387.3c-2.3 1.3 2.1 2.3 5 -2.3c-2.3 -1.4 -1.4 1.3 4.3 -1.9M263.4 385.1c-4.4 -3.5 -.9 -.2 -4.1 1.4c-.2 -1.3 1.2 -1.7 -2.1 -2.6M261.3 433.9c2.4 .4 2.6 -3.5 5.9 2.6c-1.9 -2.5 -.3 3.6 -3.2 2.6M330.9 446.9c-2.3 -.3 -.2 3.5 -.6 1.4c-.7 3.7 .2 -2.9 1.2 2.7M276.1 433c1.6 1.2 2.2 .6 3.8 1.4c-3.4 -1.7 2.8 2.9 -.1 .5M266 459.7c3.5 -3.3 1.5 3.8 4.7 -.9c-1.3 3.3 3.4 -1.3 -.8 -2.2M309.4 447.9c2 -.8 2.8 -.5 -2.3 -2.6c-3 .4 1 .7 3.9 -.8M259 457.4c-.2 -3.5 3 3.4 -2.4 -.3c-3.2 -3.3 -4.3 -2.7 .3 -1.4M271.3 413.9c3.3 .1 -4.8 .1 5.5 -.1c-2.8 3.7 -4.7 -3.7 1.5 -.7M331.4 390.4c-2 -3.4 -4.1 3 .9 1.1c4.3 2.2 3.9 -.1 4.4 -1.5M304.7 397.5c1.3 -1.5 -3 -4 4.4 1.5c-4.6 -2.8 -.3 .3 2 2.7M318.1 434.9c-1.4 -1.1 -1.6 -3.4 -3.7 -.9c-1.5 3.4 4 -2.7 -3.4 -1M309.3 427c-1.4 -3.6 2 2.1 -5.2 1.3c4.1 -2.7 -3.3 .7 -3.8 -2.2M274.6 430.5c-.9 3.9 -1.1 -3.2 -4.8 1.1c2.2 -3.3 -3 -2.1 -5.6 1.5M272.3 406.8c2.7 1 -.2 -2.6 -3.4 -1.2c3.5 -1.2 .9 2.2 5.3 .3M303.4 397.2c2.7 -3.2 3 .4 -3.1 -.3c2 2 3.1 -1.3 -2.4 1.1M319.3 455.4c-3.9 1 -3.6 1.5 2.3 2.3c2.2 1.1 3.3 2.8 -4 1.8M306.6 462.7c.6 -1.5 -2.7 3.9 2.1 2.1c2.3 -2.8 -3.4 -3.7 1 -1.2M271.9 388.1c3.5 1.7 -2 3.8 -.3 .8c3.9 -3.3 -3.2 1.2 3.1 2.8M315 430.9c-3.6 0 -2.9 -1.2 4.5 -1.8c-.5 1.1 1.9 3.3 -4.8 -1.1M303.7 399.7c1.1 -.9 2.4 1.9 4.5 2.6c-1.7 2 -4.4 .1 3.9 .8M305.4 450.1c-3.4 -1.2 .8 -3.5 -1.6 -.6c1.7 .5 4.5 1.4 1.1 -1.9M305 409.5c-2.4 3.9 -2.7 3.9 -3.4 -2.5c1.5 -.7 1.2 -1.8 3.8 -2.6M269.1 409.9c4.6 .1 -1.4 .5 -1.6 -.8c-.8 -3.7 4.4 -0 -3.2 .1M263.8 447.4c-1.9 -1.2 2.5 -1.6 3.7 -2.5c-2.1 -.7 .3 .4 -1.4 1.4M276.7 384.2c1.4 -1.8 1 -3.7 -5.9 1.9c-3.4 -3.1 -4 .6 -3.5 -1.4M322 438.6c4.2 -.6 -1.2 -2.9 -.6 -.9c-2.5 .5 2.2 -3.6 1.6 -0M305.9 444c.5 -.1 2.2 1.8 -5.8 -2c-1.9 2 4.2 -.7 .6 -2.9M311.3 456c-5 -3.1 3.1 3.6 -1.4 1.9c1.1 2 -1.1 -1.7 2.9 -.8M306.8 377c-5 -.7 -.4 3.3 -3.1 1.7c-1 -2.2 -2.7 .3 -5.1 .9M320.7 419.1c1.1 -3.6 3.2 -2.1 5.7 .7c-3.9 .1 -2 -.8 0 -.3M274 405.3c2.6 3.1 -4.4 -.9 -.9 -1.8c.8 2.3 -1.8 .9 -3.7 .2M261.6 426.7c3.2 -1.1 -4.4 .2 4.5 -1.3c2.8 -2.3 -3 -3.5 -5.1 .6M326.4 391.1c2 -3.2 -3.4 1.3 1.3 -2.4c-4 3.4 2 1.1 -1.5 1.5M274.3 390c-2.9 -1.3 2.6 -2.3 -.9 -2c-4.7 -3 .6 -3.1 -3.4 -2.6M250.7 450.5c2 2.5 -2.3 .6 4.5 -1.8c4.1 1.5 3.6 -3.8 5.6 -2.2M313.9 388.4c-1.7 3.7 -2.6 .5 1.9 -1.7c2.7 -.2 4.3 -2 -.7 -3M313.5 390.9c-5 3 2.5 -1.8 1.5 .8c.7 -2.5 -1.9 -2.3 -3.5 -1.4M333.2 417.9c-3.9 3.7 -1.8 -3.2 3 -1.3c.4 2.3 -1.4 -3.1 3.3 -1.4M309.4 380.2c-.4 -.4 -4.2 -1.7 .8 .4c-.1 -.3 .8 2.8 5.2 -2.4M267.7 412.1c-3.2 -.3 3.4 .2 -2.4 2.1c1.4 1.2 -1.1 .6 -2.7 -1.8M308.2 402.2c-3.3 -3.6 1.1 -.4 -4.6 2.4c-1 4 1.1 -2.8 -3.9 -.4M254.6 428.2c-1.6 1.7 .6 -1.2 -2.3 1.4c-4.3 -0 -2.9 2.5 -3.9 .3M273.2 424.6c4.9 -1.7 -2.7 -1 -3.5 1.3c2.8 1.6 4.9 3.8 4 -3M253.4 380.3c-3.1 3.6 -2.2 -2.4 -5.7 -.4c2.5 -2.2 4.4 2.3 5.7 2.5M327.3 377.8c-4.8 0 2.4 -3 2 -2c-2.4 -.4 -.2 -.4 -3.1 2.4M326.8 437.7c-1.6 3.7 -1.4 .5 -5.3 -1.3c2.2 3.4 2.6 -3.1 -3.1 -2.4M260.8 388.6c-1.2 -3.2 -3.2 -2 -1.4 -0c.4 -3.1 -.2 2.2 2.5 -1.6M261.4 396.4c-1.4 -1.7 1.6 .1 -3.9 -1.5c2.7 -2 1 2.6 -4.7 -2.1M310.7 405.9c-.1 -.6 4.2 -2.7 .1 2.8c3.9 -1.1 2.8 -3 3.5 2M316.6 396.8c-3.9 -1.1 -1.5 -3.1 -1 2.2c4.7 3.7 4.8 -.7 2 1.2M256.4 382.4c1.7 -2.5 3.2 1 -5.4 -2c4.6 2.2 4.3 1 -2.1 -2.7M274.9 392.3c.4 3.6 -1.2 -2.7 -4.4 2.7c4.4 .6 .2 -3 -2 -.6M268.1 441.2c3.2 -.7 -2.6 2.1 5.6 1.9c-2.2 -.5 .4 -1.2 -4 1.1M302.9 385.7c4.9 -.7 4.6 -2.9 -5.9 .5c-2.5 2.7 3 -2.3 -5.5 -1.3M235.3 451.8c-1.9 2.5 -4.8 3.6 5.6 1.9c1.7 -1.9 4.7 -1.2 -1.8 -.9M324.1 467.6c-4.7 1 4.9 3.9 -.8 1.7c.6 2.5 -2 -4 -5.5 2.1M325 416.9c2.3 2.7 2.6 -.2 -1 2.7c1.4 2.5 -4.9 2.3 -.2 1.3M330.1 411.5c3.9 1 -2.3 3.3 -5.4 .8c1.9 -1.9 3.7 .4 2 -2.1M323.7 439.4c-4.2 3.6 -2.7 -.4 2.3 -.4c.9 1.7 1.1 1.4 -4.3 -1.4M303.5 402.7c-1.5 -.6 -4.8 3 -3.7 -2.5c.4 -3.6 2.4 3.4 -5.8 1.2M305.4 397.3c3.8 .9 -.6 -.4 1.1 -1.2c-1.6 -.5 4.9 .6 -4.9 2.5M329.8 460.6c-1.8 .1 -4.9 1.1 -2.6 -.2c.8 4 4.1 1.8 -5.9 -.4M250.3 375.1c.7 .8 .3 2.7 -.7 2.4c-1.7 .7 4 -3.1 -2.7 .5M255.1 447.6c-2.9 1.4 3.7 3.1 -2.6 2.9c2.5 .2 -3.7 2.5 -2.6 1.4M261.7 435.1c-4.5 2.4 3.1 -1.9 .6 -2.6c.3 -.6 .1 -1.6 -3.6 .2M271.7 377.9c-1.7 3.3 4.9 -1.3 3.3 .5c1.9 2.3 -.8 -.9 .9 -2.7M261.6 423.2c-4.1 -3.1 .2 3 3.1 -1.9c-.7 3.4 3.7 -1.2 2.1 .1M305.3 420.4c4.5 2.7 -4.6 -.9 -2.4 2.6c1.2 1.5 4.9 -1.6 .8 2.8M312.5 372.4c-3.6 1.4 .8 2.2 5.3 2.1c-4.1 -2.6 -1.7 1.8 .3 -2.5M312.5 429.7c-3.5 3.9 -2.2 -.2 -4.3 -2.1c-.6 1.2 .4 -2.4 3.2 2.2M305 396.3c.7 -3.5 -3.9 3.5 -4 2.1c3 1.8 .6 2.2 4.1 1.7M313.7 370.2c-2 -3.7 -4.9 2.8 2.7 -2.4c4 3 1.4 1.2 -.3 .1M272.1 404.6c-1.2 2.1 -3.1 2.3 -3.6 -.5c-4.5 1 2 -.4 -2.9 2.7M306.4 379.5c2.6 -.2 .6 1.7 -5.3 1c2.6 -1.5 4.1 2.6 .6 -.7M251.8 441.3c1.7 -2.7 2.4 .7 .2 .6c1.9 3.6 -1.4 .2 -4 -2M274.2 392.1c-1.4 2.8 4.9 2.4 2.3 -1.1c-.3 3.2 .2 -2.7 -.8 .8M268.6 436.2c-3.2 -.7 -1 -.3 2.1 -1.1c3.3 -1.8 2 1.5 -2 2.5M306.2 422.9c-4.1 .2 2.4 -2.6 .3 .9c2 .3 -2 -0 -.8 .7M258.1 410.7c-3.1 -1.9 -2 .1 4.3 2.7c2.6 -.3 3.3 2.3 .9 -2.3M324.7 462.5c4.6 -2.8 3.9 2.8 -5.4 -2.7c2.4 -3.8 -4.7 -1.7 -2.3 -1.9M271.8 403.5c2.6 2.1 -2.2 -1.8 -0 1.4c-2.5 2.6 4.2 3.2 -1.9 -1.4M271.7 396.4c2.7 .3 -1.2 .3 -2.5 2.4c4 .7 2.1 -1.6 -4.5 -.5M271.9 450.5c1.6 1.4 -.5 3.5 -1.7 -.5c4.8 .2 -3.5 -2.4 -2.8 .4M271.7 406.9c3.2 -3.7 1.9 -1.4 2.3 2.5c-2.9 1.1 -1.9 .8 -3.5 -1.6M325.9 403.5c.8 1.3 3.9 -3.4 2.7 -1.9c-2.1 -.9 2.8 1.9 -3 -1.9M316.5 374.5c4.3 -3 -3.1 -1.7 -5.9 -1.1c-1.6 -1.7 4.2 3.7 -5.1 -1.4M302.1 431c2.3 -3.5 -1.5 -.3 2.4 -.8c1 -3.2 1.6 -3.4 -2 .4M323.4 394.8c4.8 .1 1.1 -1.5 -.6 -3c2.2 3.6 -4 2.2 -4.8 2.9M251.1 433.7c4.7 1.2 -2.5 -2.8 -5.6 .8c-2.9 -2.9 .8 -3.8 -.3 -2.2M311.6 423.1c3.9 -3.4 -3.9 -1.5 3.7 1.1c-3.9 -1.6 4.8 -.9 -3 -.7M314.9 423.3c-3.4 -1 -.7 .5 -4.3 2.8c4.2 -2.5 -4.7 2.2 -4.3 1.5M262.3 409.6c3.2 1.2 2.3 -1.7 -5.4 .2c.1 3.2 2 1.9 2.7 1.7M303.3 465.9c3.2 .2 -3.2 -2 -1.3 .7c1.7 -2.7 .6 3.4 -3.2 1.6M310.6 395.4c.6 2.8 2.3 -3.2 -5 -.4c.3 -.9 1.9 3.7 5.3 -2.8M304 460.6c-1.7 -2.8 -2.3 -1.7 -1.4 -2c4 -3.7 -.1 -.6 3 -.3M271.1 432.4c.9 1.8 .6 -3.1 -3 .6c3.5 -1.5 2.4 2.7 -4.1 2.4M321.8 406.6c-1.2 -1 -.6 3.4 -1.3 -2.3c3.9 -.2 -1.4 2.3 5.5 1M275.2 372.4c.7 2.1 -.2 1.4 4.9 .1c2.1 -2.9 2.8 .1 -3.1 2.2M313 404.8c-4.3 -.1 -.2 -3.7 -.8 -2.2c0 1.7 1.7 -3.6 2.2 -2.2M274.2 406.6c-1.5 -.5 4.7 -3.3 -4.6 -2.2c-3.6 0 -1.3 -1.4 5.7 -.6M306.5 436.5c4.3 -1.6 2.1 3.9 -.5 2.7c-2.7 2.1 4.7 -2.3 -2.7 -.6M317.6 467.4c.7 .7 -4.6 3.8 5 -2.2c1.9 .2 3.6 -2 -4.6 -1.2M270 389.7c-1.8 -3.6 -4.8 3.8 -1.3 -.4c1.4 -.8 -.6 3 4.6 .6M273 410.1c4 2.1 1.2 -.6 -.7 2.4c2.4 -.4 -1.9 .6 -3.8 .8M312.2 424.1c-4.5 -2.3 1.6 -1.3 6 .3c-.9 3.3 -.8 -1.9 .7 -2.5M331.5 410.9c2.3 -2.4 -.2 1.6 -.3 1.7c-3.5 -1.3 -.4 2.6 5.3 2.3M316.1 384.9c3.1 -2.9 -.8 -1.4 -5.3 1.7c3.7 -1.9 1.6 3.5 3.3 -.7M320 430.5c-2.1 1.8 1.7 2 -1.6 -1c.3 -3.6 1.3 -2.5 2.1 -.5M311.4 408.4c-1.8 2.8 -4.1 -2.6 -4.6 -1.5c1.1 -3.1 4.1 -1.9 -4.1 -.7M331.5 459.5c1.8 -.3 .9 1.9 -0 -2.4c-.5 -.4 -.8 -3.2 -4.2 1.8M309 460.6c-1.8 1.6 3.3 .9 3.6 2.4c0 -2 .5 2 3.8 1.3M263.4 406.5c-2 -3 2.9 2.2 2.8 1c-.7 -2.9 .7 -3.9 -4.1 2.4M318 398.8c.3 -2.4 -2.5 2.1 -4.2 1.4c-4.5 -2.5 4.9 .4 3.9 1.4M315.1 374.9c2.9 2.1 4.7 3 -5.9 .3c-3.8 1.6 1.6 -1.1 2.2 -2.7M276.7 381.2c-.8 2.6 .5 -1.8 5.3 -.1c2.7 3.4 4.5 3.7 -3.7 1.4M277.2 397.5c-3.7 1.4 1 -.4 -5.2 1.2c4.3 -2.2 -1.6 .2 -3 -.8M272.5 425.3c4.8 -1.2 4.1 -1.2 -.2 -.7c1.6 1.6 1.1 -3.2 3.7 2.6M276.6 395c-.2 1.4 4.4 -1.6 3.4 .4c-3.2 -2.7 -3.2 -1.7 -3.1 -.6M323.4 420.4c.2 2.9 4.7 1.5 5.4 1.4c-1.9 2.1 .7 -3.2 2.1 2.7M251.7 438.1c3.5 -2.2 -4.4 -1.8 4.1 -.7c-3.9 -2.5 -.4 -2.6 2.4 .3M259.9 387.4c-.2 -2.5 -2.5 -1.8 -1.9 2.7c-1.7 2.4 -2.5 2.6 .6 -2.5M260.8 385.3c2.2 -2 1.2 -3.7 .9 -1c-3 1.5 -.7 3.3 -3.7 2.6M314.5 418.9c2.7 3.2 -1.2 -2.3 4.7 -1.1c-3.8 -2.4 -1.6 -2.4 -3.1 2.6M262.3 453.8c3.7 -3.1 -3.3 2.2 2.7 -2.5c.3 -0 -4.6 -1.9 3.5 -1.1M267.5 426.2c3.8 -4 .3 -3.5 -1.5 -1.6c-.6 -1.8 2.1 .8 -1.3 -2.6M266.2 449.4c-3.8 -.8 3.7 -1.7 5.4 -.2c4.6 -1.7 -3.3 3.9 1.9 2.5M274.4 405.8c-3.6 -.2 1.6 2.7 5 -1.3c-4.5 -3.1 3.1 -.9 3.1 -1M305.3 371.7c3 -.7 4.6 1.7 -.4 -1.2c-3.2 -1.1 -.8 3.3 3.1 -1.4M307 428.4c1.2 -3.8 1.7 -2 4.8 -1.4c.8 -3.5 3.2 1.9 1.4 -.4M307.7 456.8c1.1 .5 -4.7 -1.2 -1.3 .8c-3.6 -3.8 3.3 -1.7 2.2 -1.5M320.4 424.3c-3.1 -3.1 2.3 3.8 1.2 -1.8c3.4 .5 -.1 -2.6 2.3 2.3M307.1 441.7c1.6 -3.3 .8 -.5 1.5 2.2c.1 -2.3 -4.4 -3.7 -5.5 1.9M272.1 425.9c3.1 1.2 -2 1.2 4.9 -3c-4.7 -3 2.7 2.2 -3.4 2.5M259 448c-2 3.9 -.6 1.8 0 -2.7c.3 .9 1 3.6 1.9 1.8M313.6 407.4c3.8 .9 3.2 -2.2 -5 -1.7c-4.3 3.5 4.4 1.5 .5 1.7M266.6 370.9c1.1 2.7 -1.6 1.1 1.8 1.1c4.1 -1.4 4.9 2.9 -2.8 -2.7M320.9 463.7c-.1 2.3 3.7 -3 .2 .4c3.2 -3.2 3.9 -.7 3.9 -.2M329.3 421.5c.9 -1.9 3.8 -1.1 -5.4 1.8c3.3 1 -1.4 2.1 2 -2.4M319.9 372.4c1 -1.4 -1.1 -.1 -3.5 1.4c-1.5 .8 -3 -.7 -3.7 1M258.4 419.6c-3.6 3.1 .9 2.1 4.2 2.3c-3.9 .6 1.3 1.8 -4.3 .6M318 377.2c-4.5 3.6 3.5 2.2 -1.5 2.9c3.4 .8 -2.3 -1 -5.2 -1.4"/>
<path fill="none" stroke="#2f9aaa" stroke-width="1.3" d="M256.8 412.9c-2.2 -.4 -2.3 -1.8 -1.6 -2.5c2.4 -.4 -.5 -.8 5.6 2M274.1 424.9c-1.4 3.8 -1.5 3.5 4.5 -1.7c0 -2.4 1.3 -3.2 4 -.3M274.8 456.7c1.9 2.4 -3.5 -.8 1.8 -.7c-3 .1 3.7 2 -3.8 -.6M305.6 404.3c2.4 2.8 -.4 2.5 2.7 -2.8c-.6 -2.4 -3.6 -.6 -.5 1.8M325.1 383.3c-2.8 2.3 .1 -.7 3.6 -.3c1.6 -2.7 .6 -2.3 3.1 -2.4M259.9 389.3c-3.4 3.5 2.8 -0 -4.9 1.2c4.5 -3.8 3.2 2.4 5 2.8M275.9 398.8c0 3.1 2.6 2.6 -2.8 -2.9c3.9 -1.8 -.9 1.1 -4.7 1.5M309.2 449c-2.5 -2 2.9 -3.6 -2.9 -1.7c3.8 3.2 .1 2.4 1.5 2M261.5 406c4.6 -3.1 3.5 -4 -3.7 -.2c-1.3 -.9 .3 -1.4 -.6 -1.3M271.5 429c-.2 1.3 -2 -.9 -5.7 -2.5c4.2 1.9 2.1 2.4 4.9 2.4M263.6 417c-.6 1 -.4 1.9 -4 -.5c2.5 -1.5 -4.6 3.9 2.7 1.6M326 386.4c-1.4 1.3 .6 .8 -5.1 -2.4c1.8 .5 -1.4 .8 -1.9 -2.2M267.2 447.1c-.5 -2.8 -3.5 -0 4.6 -.8c2.9 1.2 -1.2 -1.6 -4.7 -1.8M259.4 430.4c1.7 -1.4 3.9 -.9 -1.5 -.5c4 .3 2.2 1.2 -2.1 .9M271.8 389.2c2 -3.2 .7 1.8 -4.9 -.1c-1.4 .5 3.9 -3.8 -1.1 -.2M277.8 453.5c4.7 -3 -4.3 3.9 -5.9 1.7c-2.8 2.6 -4.3 .7 -6 -2.7M258.4 398c-0 -3.2 -.2 -3.4 4.6 2.6c4.2 -3.5 -2.7 2.3 -1 -1.9M315.3 439.2c-3.5 1.8 -2.1 -2.3 -1.2 -1.1c1.1 -3.8 1.9 -.6 1.3 -2.6M313.2 382.9c-2.9 -1.3 -3.4 2.4 4.7 2.7c-3.9 -3.1 3.5 3.3 1.7 .7M275.3 408.9c1 2.5 -3.8 -.9 -3.7 1c2.8 2.9 3.9 -1.1 2.9 2M317 401.1c-3.2 -2.7 4 -3 4.9 1.7c-4.8 -1.2 -4.4 1.5 -4.2 -1.9"/>
<path fill="none" stroke="#8adce6" stroke-width=".5" d="M256.8 412.9c-2.2 -.4 -2.3 -1.8 -1.6 -2.5c2.4 -.4 -.5 -.8 5.6 2M274.1 424.9c-1.4 3.8 -1.5 3.5 4.5 -1.7c0 -2.4 1.3 -3.2 4 -.3M274.8 456.7c1.9 2.4 -3.5 -.8 1.8 -.7c-3 .1 3.7 2 -3.8 -.6M305.6 404.3c2.4 2.8 -.4 2.5 2.7 -2.8c-.6 -2.4 -3.6 -.6 -.5 1.8M325.1 383.3c-2.8 2.3 .1 -.7 3.6 -.3c1.6 -2.7 .6 -2.3 3.1 -2.4M259.9 389.3c-3.4 3.5 2.8 -0 -4.9 1.2c4.5 -3.8 3.2 2.4 5 2.8M275.9 398.8c0 3.1 2.6 2.6 -2.8 -2.9c3.9 -1.8 -.9 1.1 -4.7 1.5M309.2 449c-2.5 -2 2.9 -3.6 -2.9 -1.7c3.8 3.2 .1 2.4 1.5 2M261.5 406c4.6 -3.1 3.5 -4 -3.7 -.2c-1.3 -.9 .3 -1.4 -.6 -1.3M271.5 429c-.2 1.3 -2 -.9 -5.7 -2.5c4.2 1.9 2.1 2.4 4.9 2.4M263.6 417c-.6 1 -.4 1.9 -4 -.5c2.5 -1.5 -4.6 3.9 2.7 1.6M326 386.4c-1.4 1.3 .6 .8 -5.1 -2.4c1.8 .5 -1.4 .8 -1.9 -2.2M267.2 447.1c-.5 -2.8 -3.5 -0 4.6 -.8c2.9 1.2 -1.2 -1.6 -4.7 -1.8M259.4 430.4c1.7 -1.4 3.9 -.9 -1.5 -.5c4 .3 2.2 1.2 -2.1 .9M271.8 389.2c2 -3.2 .7 1.8 -4.9 -.1c-1.4 .5 3.9 -3.8 -1.1 -.2M277.8 453.5c4.7 -3 -4.3 3.9 -5.9 1.7c-2.8 2.6 -4.3 .7 -6 -2.7M258.4 398c-0 -3.2 -.2 -3.4 4.6 2.6c4.2 -3.5 -2.7 2.3 -1 -1.9M315.3 439.2c-3.5 1.8 -2.1 -2.3 -1.2 -1.1c1.1 -3.8 1.9 -.6 1.3 -2.6M313.2 382.9c-2.9 -1.3 -3.4 2.4 4.7 2.7c-3.9 -3.1 3.5 3.3 1.7 .7M275.3 408.9c1 2.5 -3.8 -.9 -3.7 1c2.8 2.9 3.9 -1.1 2.9 2M317 401.1c-3.2 -2.7 4 -3 4.9 1.7c-4.8 -1.2 -4.4 1.5 -4.2 -1.9"/>
<path fill="#2230a2" d="M282 368.5L302 370L304 373L305.2 376L306.3 379L308.7 382L305.4 385L303.8 388L306.7 391L307.6 394L305.2 397L304.1 400L305.9 403L302.6 406L301.7 409L303.4 412L305 415L303.5 418L301.2 421L301.7 424L302.9 427L303 430L304.8 433L303.8 436L302.4 439L306.9 442L305.6 445L303 448L303.7 451L303.5 454L307.5 457L306.3 460L305.4 463L306 466L303.9 469L277.5 469L276.8 466L276.9 463L278.3 460L276.7 457L277.5 454L277.5 451L275 448L273.7 445L271.7 442L274.4 439L274.8 436L272.6 433L271.5 430L273.2 427L273.9 424L275 421L274.9 418L278.1 415L279.7 412L278.6 409L278.2 406L276.5 403L275.9 400L277.5 397L278.1 394L278.4 391L277.2 388L277.1 385L279.7 382L278.9 379L277.1 376L274.4 373L279 370Z"/>
<path fill="none" stroke="#161e88" stroke-width="4.6" stroke-linecap="round" d="M299.8 430.1h0M303.8 419.3h0M279.1 429.9h0M287.8 371.3h0M294.3 430.3h0M284.8 410.6h0M284.8 384.2h0M276 389.7h0M305.7 425.5h0M298.1 458.5h0M268.2 432.2h0M279.3 413.8h0M283.2 445.3h0M294 381.5h0M287.4 381.7h0M295.9 392.5h0M285.9 430.5h0M290.8 462.6h0M297.8 441h0M275.7 419.1h0M271.1 406.1h0M294.1 464.1h0M294.1 443.1h0M280 459.7h0M278.4 429.9h0M308.1 386.5h0M273.1 423h0M293 373.1h0M301.7 424.9h0M295.3 376.8h0M291.7 450.3h0M270.8 374h0M271.5 438.8h0M304.4 401.7h0M272.7 466.5h0M285.6 420.7h0M304.5 374.5h0M282.6 420.3h0M284.4 429.7h0M304.1 393.5h0M299.1 395.6h0M300.2 439.3h0M269.7 379.1h0M292.4 411.4h0M286 401.4h0M307.5 374.2h0M281.6 461h0M289.3 416.5h0M298.1 418.7h0M295.8 408.7h0M275.2 427.4h0M292.1 389.1h0M274.3 427.6h0M280.5 446.2h0M300.6 379.1h0M295 463.8h0M298.1 437.9h0M302.8 426.6h0M283.9 427.1h0M305.2 447.6h0M290.4 441.7h0M278.7 374.4h0M292.6 407.8h0M302.8 456h0M286.6 438.4h0M304.1 427.7h0M307.4 424.4h0M295 408h0M282.5 427.5h0M305.6 430.8h0M271.2 412.2h0M284.3 413.6h0M293.3 411.4h0M299.1 425.2h0M268.6 392.3h0M273.9 444.9h0M273 428.4h0M304.6 457.7h0M275.7 379.3h0M274.7 443h0M290.7 387.4h0M307.2 424h0M274.4 424.9h0M281.6 446.2h0M304.7 400.3h0M275.7 438.8h0M275.2 451.6h0M300.8 412.9h0M276.9 394h0M279.4 424.9h0M278.5 457.5h0M308.3 373.2h0M283.4 415.5h0M302.6 393h0M291 454.6h0M274.5 432.7h0M272.2 457.8h0M295.1 399.5h0M312.8 382.5h0M299.2 450.3h0M277.4 450.8h0M278.9 401.7h0M304.8 424.8h0M290.2 433h0M299.4 452.1h0M273.3 430.1h0M295.5 425.4h0M275.1 384.6h0M297.1 381.7h0M310.8 371.6h0M301.8 443.9h0M301.2 389.8h0M304.6 439.2h0M292.7 411.9h0M291.7 380h0M289.7 380.7h0M273.2 410.7h0M303.3 394.6h0M303.3 384.4h0M307.7 439.1h0M289.7 444.2h0M289.1 429.1h0M288.6 404.9h0M291.4 422.7h0M302.7 374.1h0M296.3 396.4h0M266.7 403.3h0M289.8 437.9h0M305.1 413.9h0M315.1 373.6h0M290.4 383.4h0M283.4 398.4h0M301.5 447.9h0M307.5 413.5h0M296.1 464.9h0M285.5 428.1h0M306.7 376h0M302.6 441.9h0M293.7 465.9h0M275.5 404.5h0M308.9 405.4h0M294.5 444.6h0M266.5 418.3h0M307 406.1h0M278.4 461.5h0M291.7 440.5h0M303.3 433.8h0M307.6 419.5h0M295.4 459.7h0M282.5 389.2h0M305.3 420.1h0M293.2 463.8h0M276.4 467.5h0M269.7 411h0M292.8 422.5h0M271.4 461.3h0M280.9 436.2h0M307.5 457.8h0M300.9 462.4h0M303 384.1h0M285.4 372h0M298.6 402.9h0M274 432h0M313.9 409.1h0M277.8 401.6h0M289.8 435.4h0M273.3 380.1h0M311.6 461.9h0M297.7 370.7h0M269.6 407.9h0M301.7 403.5h0M310.4 457.7h0M305 450.1h0M300.1 448.4h0M305.8 452.7h0M274.5 377.3h0M300.7 460.8h0M288 376.7h0M282.5 392h0M286.5 450.5h0M275.2 465.6h0M303.3 393.3h0M292.9 433.9h0M304.8 378.9h0M291.9 378.3h0M304.3 411.8h0M288.6 466.7h0M278.1 444.7h0M304.4 377.3h0M298.5 433.9h0M311.3 424.3h0M307.8 409.8h0M298.1 406.8h0M275.6 448.6h0M277.6 424.1h0M275.9 398.3h0M268.6 421.3h0M275.5 407.2h0M294.3 441.9h0M304.7 429.5h0M264.8 374h0M275.2 370.4h0M292.6 449h0M301.7 427.5h0M311.6 419.7h0M276.2 394.6h0M313.1 455.8h0M307.4 453h0M280.6 407.3h0M277.5 451.1h0M298.8 412.3h0M286.9 448.1h0M274.3 424.3h0M285.6 429.5h0M271.5 466.8h0M306.4 424.7h0M304.8 405.8h0M273.7 380.3h0M292.2 388.1h0M307.6 424.9h0"/>
<path fill="none" stroke="#5868cc" stroke-width="2.4" stroke-linecap="round" d="M303.8 419.3h0M287.8 371.3h0M305.7 425.5h0M283.2 445.3h0M287.4 381.7h0M295.9 392.5h0M290.8 462.6h0M275.7 419.1h0M271.1 406.1h0M280 459.7h0M278.4 429.9h0M308.1 386.5h0M301.7 424.9h0M295.3 376.8h0M291.7 450.3h0M270.8 374h0M307.5 374.2h0M292.1 389.1h0M274.3 427.6h0M280.5 446.2h0M283.9 427.1h0M278.7 374.4h0M302.8 456h0M286.6 438.4h0M307.4 424.4h0M295 408h0M299.1 425.2h0M268.6 392.3h0M273 428.4h0M290.7 387.4h0M281.6 446.2h0M304.7 400.3h0M275.7 438.8h0M276.9 394h0M279.4 424.9h0M278.5 457.5h0M308.3 373.2h0M283.4 415.5h0M302.6 393h0M299.2 450.3h0M304.8 424.8h0M290.2 433h0M301.8 443.9h0M291.7 380h0M303.3 394.6h0M266.7 403.3h0M305.1 413.9h0M307.5 413.5h0M302.6 441.9h0M293.7 465.9h0M275.5 404.5h0M307 406.1h0M303.3 433.8h0M282.5 389.2h0M276.4 467.5h0M269.7 411h0M271.4 461.3h0M300.9 462.4h0M285.4 372h0M274 432h0M313.9 409.1h0M277.8 401.6h0M289.8 435.4h0M311.6 461.9h0M310.4 457.7h0M274.5 377.3h0M292.9 433.9h0M304.8 378.9h0M288.6 466.7h0M304.4 377.3h0M307.8 409.8h0M298.1 406.8h0M277.6 424.1h0M275.9 398.3h0M294.3 441.9h0M276.2 394.6h0M313.1 455.8h0M280.6 407.3h0M277.5 451.1h0M274.3 424.3h0M285.6 429.5h0M306.4 424.7h0M304.8 405.8h0"/>
<path fill="none" stroke="#dfe2f6" stroke-width="2.1" stroke-linecap="round" d="M284.8 410.6h0M293 373.1h0M272.7 466.5h0M282.6 420.3h0M284.4 429.7h0M300.2 439.3h0M269.7 379.1h0M281.6 461h0M289.3 416.5h0M271.2 412.2h0M300.8 412.9h0M274.5 432.7h0M312.8 382.5h0M299.4 452.1h0M273.3 430.1h0M295.5 425.4h0M297.1 381.7h0M273.2 410.7h0M303.3 384.4h0M289.7 444.2h0M302.7 374.1h0M289.8 437.9h0M315.1 373.6h0M290.4 383.4h0M306.7 376h0M278.4 461.5h0M291.7 440.5h0M293.2 463.8h0M292.8 422.5h0M303 384.1h0M305 450.1h0M303.3 393.3h0M275.6 448.6h0M307.4 453h0M271.5 466.8h0M292.2 388.1h0"/>
<path fill="none" stroke="#ffffff" stroke-width=".8" stroke-linecap="round" d="M298.3 424.8l-.3 2.3M281.4 448.5l-1.8 2.1M283.4 373.4l1.6 1.3M278.9 461.7l-2.2 1.2M295.5 466.8l-1.3 1.1M295.2 390.5l.7 3M291 432l-1.4 2.3M291.1 411.9l-2.5 1.6M300.1 385.3l-.8 2.5M296.1 442.5l-2.5 1.9M294.4 376.7l.4 2.3M294.6 444.4l-1.8 1.7M291.9 397.9l-1.1 2.2M299.7 434.1l-.5 2.6M300.1 415.9l1 .7M296.2 430.4l.8 1M281.6 382.7l3 .7M304.5 426.9l1.7 .5M289.5 399.3l1.3 1.7M287.2 384.7l-1.3 2.2M282.8 375.6l-.8 1.8M285.6 447.6l.1 1.3M297.1 414.8l.8 1.6M289.6 459.7l-2 .6M291.6 421.4l.3 1.6M299.6 429.9l-1.8 .7M287.6 421.1l.8 1.9M286 429.4l-0 2.4M287.5 417.6l-1.5 2.3M281.7 413.2l1.5 1.4M296.2 431.5l.7 1.1M279.5 417.2l-1.4 1.3M287 394.5l-1.7 .4M301.2 438.5l1.9 2.3M286.7 387.1l-.4 2.9M293.2 458.6l-1.3 .9M296 424.7l1.3 .5M303.3 396.5l-.2 2.6M293.4 426.9l1.9 .4M283.9 393.1l.6 1.3M284.3 414.7l-1.7 1.7M288 382.4l.7 2.4M289.1 405.6l-1 1.2M279.4 425.8l1.4 1.3M293.5 427.9l-.2 1.3M277.2 403.4l-2.7 .4M282.4 396.3l2.1 1.7M278.5 423.9l1.8 .8M298.5 438.9l1.2 .6M287.7 420.1l-.5 1.2M278.9 401.5l-1 3M288.4 372.1l.2 1.6M296.3 387.8l1.8 1M297 403.6l-2.8 .3M276.2 442.9l2 .5M292.8 383.4l-.1 1.4M286.5 387l-1.7 .2M279.3 430.7l-1.7 .7M304.7 402.3l-2.2 .4M279 380l-.2 2.9M288.4 444.9l0 2M290.9 455.5l.7 2.9M288.2 376.4l-2 .1M286.4 442.5l-1.7 2.2M302.7 442.6l2.8 1.1M305 415.1l-1.2 2.5M284.9 413.8l-.8 1.5M293.5 414.2l-.7 3M286.2 433.5l-.3 2.4M291.3 389.9l-1.6 .6M283.7 463.6l-2.2 1.6M282.2 383.9l-.2 2.9M301.3 432.5l-.6 3M277.4 408.6l.3 2M295.7 422l1.7 1.8"/>
<path fill="none" stroke="#c4c8ec" stroke-width=".8" stroke-linecap="round" d="M298.3 463.8l.5 1.7M280.3 415.5l-.3 1.5M300.2 383.7l.9 1.2M285.6 402.3l-1.6 1M303.4 406.7l-1.8 2M302.1 439l0 1.5M298.6 461.6l2.1 1M297.2 447.5l-1.9 .2M292.2 422.4l-.8 1.9M276.5 403.7l-1.8 1.1M302 405.2l-1.8 .4M283.9 446.9l1.5 .7M287.5 422.7l-3 0M281 449l2.6 .5M292.4 409.6l2.1 .9M282.1 392.8l1.2 1.7M288.8 455.7l-1.5 2.6M286.9 426.2l-1 2.4M278.7 445l.7 3M297.5 443.3l-1.1 1.4M304 397.7l-.2 2.2M278.7 455.7l-0 1.7M295.6 399.6l1.3 .8M294.7 450.8l-1 2.1M285.7 400.4l-.3 2.2M284 458.6l-1.6 1.6M298.1 466.4l-.3 2.2M279.4 457.7l-.4 1.7M292.6 449.1l1.8 1.5M284.3 402.3l-.8 1.1M282.5 431l1.4 .9M298.8 443.2l-1 2.8M276.9 427.9l2.8 1.4M285.8 399.8l1.1 1.4M302.6 450.5l.8 1.3M290.6 412.6l-1.9 .5M283.8 432.2l.1 2.6M300.9 408.3l-.9 1M280.4 450.4l-1.4 2.8M294 375.3l-.7 2.7M285.7 412.8l-1.1 .6M284.2 405.8l-1.5 .4M279.9 448.3l1.6 2.2M299.3 397l1.5 1.8M285.4 382.7l2.9 .4"/>
<path fill="none" stroke="#46420a" stroke-width="2.5" stroke-linecap="round" d="M271.1 374.3l-7.1 -2.4M312.4 372.6l7.4 -.1M304 372.1l7.7 -.1M273.8 378.3l-7.5 -2.1M268.8 377.3l-7.5 -2.1M277.9 378.7l-8.2 -2M305.1 377.4l6.7 .3M307.8 377.7l6.2 .1M312.6 376.5l5.8 .9M316.7 377.2l7 -.2M307.8 379.9l6.8 -2M314.5 381.3l6.4 -1.8M321.2 380.2l6.6 -1.1M302.1 379.3l7.4 .2M324.1 380.2l5 -1.6M273 385.3l-7.4 -1.2M270.4 384.2l-5.1 -.4M271.7 384.5l-5.8 -.5M321.7 384l6 .6M269.6 390.6l-8 -.7M277.3 388.1l-7.6 .8M311.2 389l7.1 -.8M276.9 396.4l-6.4 -1.6M271 395.8l-8.2 .3M259.8 392.8l-6.6 .8M274.9 395.6l-5.7 -1.3M316.2 394.2l6.1 -1.4M276.2 400.6l-7.5 .8M275.3 400.6l-5.1 -1M309.3 398.8l8.3 .7M310.5 401.1l5.3 -.8M263.5 404.3l-6.4 -1.2M262.8 404.7l-5.5 -1.7M275.3 405.3l-5.8 -.8M270.6 405l-5.3 -1.5M269.7 404.5l-6.9 -.7M304.3 403.7l7.9 -.4M309.3 405.6l7.6 -.2M319.8 404.2l6.1 -1.3M273.8 408.7l-5.3 -1.4M259.5 406l-8.1 1.1M271.2 409.1l-7.2 -2.5M321.9 408.7l5.7 -.9M319.6 407.9l5.3 -.5M319.4 409.1l7.1 -1.8M316.2 408l7.6 1.2M309.3 408.2l6.4 -2.2M278 410.4l-5.6 .8M264.5 412.9l-6.2 -1.8M271 412l-6.3 .7M274.7 413.3l-6.3 -1.5M259.8 411.4l-8 -2.6M305.5 411.2l5.7 -1.6M315.8 412l7.2 -.1M310.7 409.9l5 .9M322.1 411.6l5.6 -1.7M321.7 411.9l6.5 -1.3M309.2 412.5l7.5 .8M270.7 418.4l-5.7 -1.9M266.5 415.7l-6.5 -.9M272.6 418.2l-6.2 -2.1M311.1 415.9l5.5 .3M321.1 417l7.3 .6M279.1 420.8l-7.1 -.6M302.9 421.2l6.9 .1M309.3 421.4l6.8 .5M264.8 425.2l-7.6 -1.8M258.8 425.3l-7.9 -1.6M269.7 430.9l-7.7 -.4M266.4 429.5l-6.2 -1.7M316 430.1l5.4 -1.2M321.2 429.6l7.6 -1.4M309.6 429.7l5.6 -.5M309 429.4l5.6 -.6M273.7 434.6l-5.5 -1.7M280.2 435.6l-8.1 -1.8M311.1 435.8l5.9 -1.4M311.4 434.3l6.2 -1.3M318 432.8l7.6 1.2M262.2 440.6l-5.9 .4M274.8 441.2l-6.9 -0M260.4 440.4l-7.2 -2.1M278.8 440.8l-5.2 -.9M317.2 440.3l8 -2.3M318.9 441.4l7.3 -1.7M317.6 439.6l7.7 -.9M270.6 445.4l-5.7 -1.6M274.1 444l-6.8 .9M274.8 445.9l-6.3 .7M274.8 447.3l-5.7 -2M317.2 447.4l8 -2.1M316.4 447.5l5.5 -1.7M322.7 446.7l7.2 -2.2M311 444.8l6.2 -1.7M311.7 445.3l6.5 1M273.9 452.7l-6.5 -2.3M277.1 449.8l-7 -0M317.2 451.9l7.8 -2M320.8 449.7l5 .8M271.4 456.8l-5.7 -.7M268.8 456.2l-5.5 .5M318.7 455.9l8.2 1.4M279 461.7l-5.8 -.6M273 462.9l-8.3 1.2M258.5 461l-5.7 -.5M279.1 462.8l-5.7 -.3M304.6 461.8l7.4 -2.3M307.6 462.8l5.2 -1.4M303.3 461.6l5.3 .2M314.7 462.9l6.6 -2.2M259.9 465.3l-5.1 -1.2M266.5 468.3l-6.8 -1.6M260.9 465.2l-5.1 -.3M261 467.3l-8.1 -1.8M268.9 465l-6.9 0M316.2 465.5l5.4 .9M321.9 467l5.7 .2M317.6 465.6l6.5 -1.1M281.7 447.4l5.5 2.2M282.7 404.3l4.9 .4M294.9 447.9l5.1 -2.1M302.5 376.2l3.3 3.5M294.7 466.6l5.5 -2.1M294.6 402.3l3.9 -3.6M297.8 465.5l3.4 2.8M296.5 450.4l5.4 1.3M300.8 418.3l5.4 2.5M280.1 420.3l3.1 2"/>
<path fill="none" stroke="#ece000" stroke-width="1.7" stroke-linecap="round" d="M270.8 373.2l-7.1 -2.4M273.5 377.2l-7.5 -2.1M268.5 376.2l-7.5 -2.1M277.6 377.6l-8.2 -2M304.8 376.3l6.7 .3M307.5 376.6l6.2 .1M312.3 375.4l5.8 .9M307.5 378.8l6.8 -2M301.8 378.2l7.4 .2M272.7 384.2l-7.4 -1.2M270.1 383.1l-5.1 -.4M321.4 382.9l6 .6M269.3 389.5l-8 -.7M310.9 387.9l7.1 -.8M276.6 395.3l-6.4 -1.6M270.7 394.7l-8.2 .3M259.5 391.7l-6.6 .8M315.9 393.1l6.1 -1.4M275.9 399.5l-7.5 .8M275 399.5l-5.1 -1M310.2 400l5.3 -.8M309 404.5l7.6 -.2M319.5 403.1l6.1 -1.3M273.5 407.6l-5.3 -1.4M259.2 404.9l-8.1 1.1M270.9 408l-7.2 -2.5M321.6 407.6l5.7 -.9M319.3 406.8l5.3 -.5M319.1 408l7.1 -1.8M309 407.1l6.4 -2.2M264.2 411.8l-6.2 -1.8M274.4 412.2l-6.3 -1.5M305.2 410.1l5.7 -1.6M321.4 410.8l6.5 -1.3M308.9 411.4l7.5 .8M266.2 414.6l-6.5 -.9M272.3 417.1l-6.2 -2.1M320.8 415.9l7.3 .6M264.5 424.1l-7.6 -1.8M269.4 429.8l-7.7 -.4M315.7 429l5.4 -1.2M320.9 428.5l7.6 -1.4M308.7 428.3l5.6 -.6M310.8 434.7l5.9 -1.4M311.1 433.2l6.2 -1.3M261.9 439.5l-5.9 .4M260.1 439.3l-7.2 -2.1M278.5 439.7l-5.2 -.9M318.6 440.3l7.3 -1.7M317.3 438.5l7.7 -.9M273.8 442.9l-6.8 .9M274.5 444.8l-6.3 .7M274.5 446.2l-5.7 -2M316.1 446.4l5.5 -1.7M322.4 445.6l7.2 -2.2M310.7 443.7l6.2 -1.7M311.4 444.2l6.5 1M273.6 451.6l-6.5 -2.3M316.9 450.8l7.8 -2M320.5 448.6l5 .8M268.5 455.1l-5.5 .5M278.7 460.6l-5.8 -.6M272.7 461.8l-8.3 1.2M258.2 459.9l-5.7 -.5M278.8 461.7l-5.7 -.3M304.3 460.7l7.4 -2.3M307.3 461.7l5.2 -1.4M303 460.5l5.3 .2M314.4 461.8l6.6 -2.2M259.6 464.2l-5.1 -1.2M260.6 464.1l-5.1 -.3M260.7 466.2l-8.1 -1.8M268.6 463.9l-6.9 0M321.6 465.9l5.7 .2M317.3 464.5l6.5 -1.1M281.7 446.8l5.5 2.2M282.7 403.7l4.9 .4M294.9 447.3l5.1 -2.1M302.5 375.6l3.3 3.5M294.7 466l5.5 -2.1M294.6 401.7l3.9 -3.6M297.8 464.9l3.4 2.8M296.5 449.8l5.4 1.3M300.8 417.7l5.4 2.5M280.1 419.7l3.1 2"/>
<path fill="none" stroke="#b8ac00" stroke-width="1.7" stroke-linecap="round" d="M312.1 371.5l7.4 -.1M303.7 371l7.7 -.1M316.4 376.1l7 -.2M314.2 380.2l6.4 -1.8M320.9 379.1l6.6 -1.1M323.8 379.1l5 -1.6M271.4 383.4l-5.8 -.5M277 387l-7.6 .8M274.6 394.5l-5.7 -1.3M309 397.7l8.3 .7M263.2 403.2l-6.4 -1.2M262.5 403.6l-5.5 -1.7M275 404.2l-5.8 -.8M270.3 403.9l-5.3 -1.5M269.4 403.4l-6.9 -.7M304 402.6l7.9 -.4M315.9 406.9l7.6 1.2M277.7 409.3l-5.6 .8M270.7 410.9l-6.3 .7M259.5 410.3l-8 -2.6M315.5 410.9l7.2 -.1M310.4 408.8l5 .9M321.8 410.5l5.6 -1.7M270.4 417.3l-5.7 -1.9M310.8 414.8l5.5 .3M278.8 419.7l-7.1 -.6M302.6 420.1l6.9 .1M309 420.3l6.8 .5M258.5 424.2l-7.9 -1.6M266.1 428.4l-6.2 -1.7M309.3 428.6l5.6 -.5M273.4 433.5l-5.5 -1.7M279.9 434.5l-8.1 -1.8M317.7 431.7l7.6 1.2M274.5 440.1l-6.9 -0M316.9 439.2l8 -2.3M270.3 444.3l-5.7 -1.6M316.9 446.3l8 -2.1M276.8 448.7l-7 -0M271.1 455.7l-5.7 -.7M318.4 454.8l8.2 1.4M266.2 467.2l-6.8 -1.6M315.9 464.4l5.4 .9"/>
</g>
</svg>
</body></html>
